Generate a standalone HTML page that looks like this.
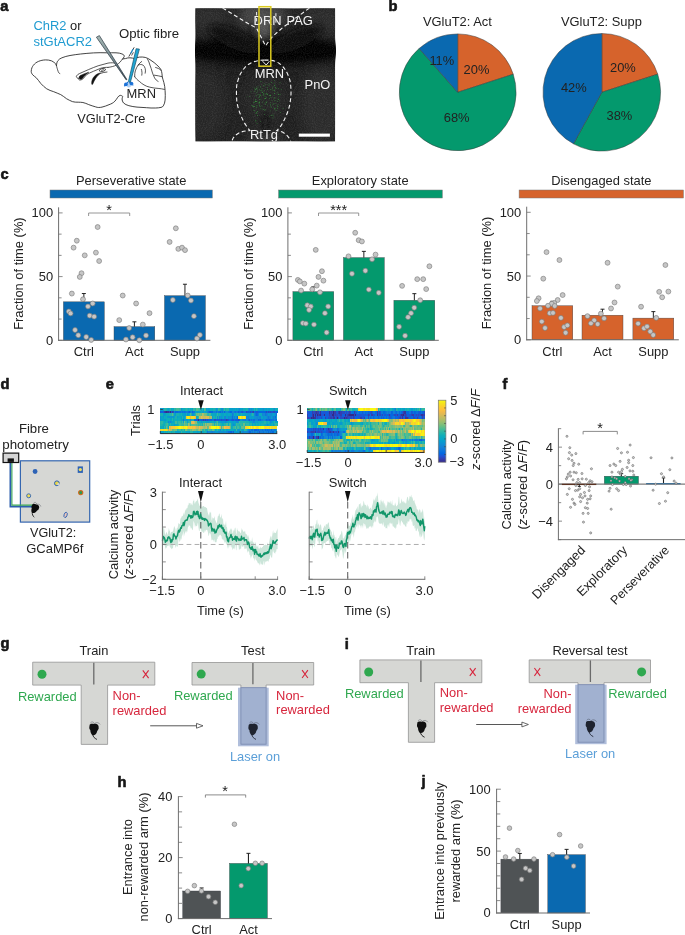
<!DOCTYPE html>
<html><head><meta charset="utf-8"><title>Figure</title>
<style>
html,body{margin:0;padding:0;background:#fff;}
body{width:685px;height:935px;overflow:hidden;font-family:"Liberation Sans",sans-serif;}
svg{display:block;will-change:transform;}
svg text{font-family:"Liberation Sans",sans-serif;}
</style></head><body>
<svg width="685" height="935" viewBox="0 0 685 935">
<text x="0.30" y="10.50" font-size="14.7" font-weight="bold" fill="#161616" stroke="#161616" stroke-width="0.6" stroke-linejoin="round">a</text>
<text x="33.5" y="30" font-size="12.9"><tspan fill="#1f9bd1">ChR2</tspan><tspan fill="#1a1a1a"> or</tspan></text>
<text x="33.50" y="45.60" text-anchor="start" font-size="13.0" fill="#1f9bd1" font-weight="normal" font-style="normal">stGtACR2</text>
<text x="119.00" y="37.90" text-anchor="start" font-size="13.2" fill="#222222" font-weight="normal" font-style="normal">Optic fibre</text>
<text x="77.30" y="123.10" text-anchor="start" font-size="12.75" fill="#222222" font-weight="normal" font-style="normal">VGluT2-Cre</text>
<path d="M31.2,71.3 C31.4,68.5 32.2,66.8 33.3,65.4 C34.8,63.4 36.5,62.2 38.5,61.4 C40.8,60.4 43,60 45.5,59.9 C47.6,59.9 49.6,60.1 51.4,60.8 C53.2,61.5 54.5,62.4 55.4,63.7 C56.1,64.8 56.3,65.3 56.5,65.8 C56.6,63.5 57,62 57.8,60.8 C58.8,59.4 60.2,58.5 61.9,57.8 C64.5,56.8 67,56 70,55.5 C73.4,54.9 77,54.4 80.6,54 C84.8,53.5 89,53.2 93.4,52.9 C97.8,52.7 102.4,52.6 106.7,52.8 C110,52.8 113,52.7 116,52.8 C118.4,52.9 120.4,53.2 121.9,53.9 C123.6,54.6 124.6,55.4 124.2,56.6 C123.8,57.6 123,58.4 122.4,59.2 C123.4,58.8 124.4,58.6 125.4,58.6 C127,57.9 128.5,57.8 130,57.8 C131.6,57.9 133.2,58.2 134.7,58.6 C136.2,57.8 137.8,57.3 139.4,57.1 C141.4,56.9 143.4,57 145.2,57.4 C147.4,58 149.3,59 151,60.4 C153.2,61.8 155.2,63.3 156.9,65 C158.6,66.4 160,68 161,69.7 C161.9,72 162.1,74.4 162.2,76.7 C162.6,78.7 163.4,80.6 163.9,82.6 C164.6,85.2 165,88 165.1,90.7 C165.3,93.8 165.4,97 165.1,100.1 C164.9,102.2 164.4,104.2 163.3,105.9 C162.8,106.8 162,107.2 161,107.4 C159.2,107.8 157.5,107.9 155.7,108 C152.6,108.1 149.5,108 146.4,107.7 C143.2,107.6 140.1,107.4 137,107.1 C134.2,106.8 131.5,106.4 128.9,105.7 C126.8,105.1 124.9,104.3 123.6,103 C122.6,101.8 122.1,100.4 122.1,98.9 C122.1,98 122.4,97.3 122.8,96.6 C122,95.7 121,95.3 120.1,95.4 C119.1,95.6 118.4,96.4 117.8,97.2 C116.9,98.6 116,100 114.9,101.2 C113.3,102.9 111.2,103.9 109,104.7 C106.8,105.7 104.4,106.5 102,107.1 C99.8,107.6 97.6,107.7 95.7,106.9 C93.3,106.3 91,105.4 88.7,104.6 C86.8,103.8 84.9,102.9 82.9,102.5 C81.3,102.2 79.8,102.3 78.2,102.2 C76.2,102.2 74.2,102.2 72.4,101.6 C70.3,100.8 68.4,99.8 66.5,98.7 C64.5,97.4 62.8,95.6 60.7,94.6 C58.4,93.5 56,92.7 53.7,91.7 C51.2,90.9 48.8,90.1 46.7,88.8 C44.5,87.3 42.6,85.4 40.8,83.5 C39.3,81.6 37.9,79.5 36.2,77.7 C35,76.6 33.6,75.9 32.7,74.8 C31.8,73.8 31.2,72.6 31.2,71.3 Z" fill="#fff" stroke="#222" stroke-width="0.85" stroke-linejoin="round"/>
<path d="M56.5,65.8 C56.9,67.6 57.2,68.4 57.6,69.8 C58,71.2 58.4,72.2 58.9,72.9 C59.2,73.3 59.5,73.5 59.8,73.6" fill="none" stroke="#222" stroke-width="0.75" stroke-linecap="round" stroke-linejoin="round"/>
<path d="M122.4,59.2 C121.6,60.3 120.8,61.2 120.1,62.1 C119,63.2 117.8,64.2 116.6,65 C113.8,66.4 111,67 108,67.4" fill="none" stroke="#222" stroke-width="0.75" stroke-linecap="round" stroke-linejoin="round"/>
<path d="M134.7,76.7 C134.6,74.6 134.8,72.6 135.3,70.9 C136,68.6 137,66.6 138.2,65 C139.2,63.6 140.4,62.4 141.7,61.5" fill="none" stroke="#222" stroke-width="0.75" stroke-linecap="round" stroke-linejoin="round"/>
<path d="M138.2,65 C139.8,64.4 141.6,64.3 142.9,65 C144,65.8 144.8,67 145.2,68.5 C145.6,70 145.6,71.6 145.2,73.2" fill="none" stroke="#222" stroke-width="0.75" stroke-linecap="round" stroke-linejoin="round"/>
<path d="M134.7,76.7 C136,78.6 137.6,80.2 139.4,81.4 C140.8,82.8 142.4,84 144,84.9 C145.8,86 147.8,86.8 149.9,87.2 C152.6,87.9 155.4,88.2 158.1,88.4 C160.4,88.6 162.4,88.9 164.4,89.4" fill="none" stroke="#222" stroke-width="0.75" stroke-linecap="round" stroke-linejoin="round"/>
<path d="M147.6,59.2 C148.6,61 149.4,63 149.9,65 C150.8,67.3 151.6,69.6 152.2,72 C152.8,74 153.6,76 154.6,77.9 C155.4,79.4 156.6,80.6 158.1,81.4" fill="none" stroke="#222" stroke-width="0.75" stroke-linecap="round" stroke-linejoin="round"/>
<path d="M155.6,67.5 C157.6,68 159.4,68.8 161,70.3" fill="none" stroke="#222" stroke-width="0.75" stroke-linecap="round" stroke-linejoin="round"/>
<path d="M154.4,75.2 C157,75.6 159.6,76 162.2,76.7" fill="none" stroke="#222" stroke-width="0.75" stroke-linecap="round" stroke-linejoin="round"/>
<path d="M141.4,69.4 C142,71.2 142.2,73.2 141.8,75.2" fill="none" stroke="#222" stroke-width="0.75" stroke-linecap="round" stroke-linejoin="round"/>
<path d="M78.2,78.3 C76.6,78 76,76.8 76.5,76 C77.2,74.8 78.2,74.2 79.4,73.6 C82.4,72.2 85.6,70.8 88.7,69.5 C91.8,68.2 95,66.9 98.1,65.8 C101.4,64.8 104.6,63.9 108,63.1 C111,62.6 114,62.6 116.6,63.4" fill="none" stroke="#222" stroke-width="0.75" stroke-linecap="round" stroke-linejoin="round"/>
<path d="M78.2,78.3 C78.6,79.4 79,79.9 79.4,80 C80.6,80.2 81.8,79.7 82.9,78.9 C84.2,77.6 85.2,76.1 86.4,74.8 C88.6,73.4 91,72.3 93.4,71.3 C95.8,70.3 98.1,69.3 100.4,68.4 C102.8,67.6 105.4,67.2 108,67.4" fill="none" stroke="#222" stroke-width="0.75" stroke-linecap="round" stroke-linejoin="round"/>
<path d="M79.6,78.9 C78.6,77.8 79,76.4 80.2,75.6 C82.8,74.2 86,73 88.8,72.2 C87,73.4 85.2,74.8 83.9,76.4 C83.2,77.6 82.4,78.6 81.4,79.1 C80.7,79.4 80.1,79.3 79.6,78.9 Z" fill="#111" stroke="#111" stroke-width="0.5"/>
<path d="M91.8,84.3 C91.4,82 92,79.8 93.2,77.8 C94.4,75.8 96.2,74.4 98.3,73.5 C99.2,73.2 100,73.1 100.6,73.3 C98.6,74.6 97,76.2 95.8,78.2 C94.6,80 93.6,82 92.8,84 C92.5,84.6 92,84.7 91.8,84.3 Z" fill="#111" stroke="#111" stroke-width="0.5"/>
<path d="M100.6,73.3 C102.6,72.6 104.8,72.2 107,72" fill="none" stroke="#222" stroke-width="0.75" stroke-linecap="round" stroke-linejoin="round"/>
<ellipse cx="102.4" cy="70" rx="3.2" ry="1.5" transform="rotate(-16 102.4 70)" fill="#fff" stroke="#222" stroke-width="0.75"/>
<ellipse cx="102.6" cy="70" rx="1.7" ry="0.6" transform="rotate(-16 102.6 70)" fill="#666" stroke="none"/>
<defs><linearGradient id="pipg" x1="97.9" y1="36.4" x2="126.5" y2="79.6" gradientUnits="userSpaceOnUse"><stop offset="0" stop-color="#a3b5b2"/><stop offset="0.6" stop-color="#72858c"/><stop offset="1" stop-color="#364550"/></linearGradient></defs>
<path d="M96.4,37.2 L99.4,35.6 L126.9,79.5 L126.2,79.9 Z" fill="url(#pipg)" stroke="#2d3a44" stroke-width="0.7" stroke-linejoin="round"/>
<g fill="#9cc6f2" opacity="0.8"><ellipse cx="128.8" cy="84.6" rx="2.4" ry="3"/></g>
<g fill="#1c72d8"><ellipse cx="125.9" cy="84.4" rx="1.9" ry="1.8"/><ellipse cx="131.4" cy="83.6" rx="1.9" ry="1.8"/><circle cx="124.6" cy="85.8" r="0.7"/><circle cx="132.8" cy="84.9" r="0.7"/><circle cx="127.4" cy="82.6" r="0.8"/><circle cx="130" cy="82.2" r="0.8"/></g>
<path d="M136.1,48.7 L139.4,49.1 L130.4,82.2 L128.4,81.6 Z" fill="#1fa6d4" stroke="#1a5068" stroke-width="0.7" stroke-linejoin="round"/>
<path d="M128.8,56.6 L134.2,47.3" fill="none" stroke="#1a1a1a" stroke-width="0.8"/>
<path d="M130.7,53.6 L133.1,48.9" fill="none" stroke="#1f8fd0" stroke-width="1.1"/>
<path d="M131.6,55.6 L133.4,52.2" fill="none" stroke="#1a1a1a" stroke-width="0.7"/>
<defs>
<clipPath id="hclip"><rect x="195.3" y="8.2" width="139.8" height="133.4"/></clipPath>
<filter id="blur6" x="-30%" y="-30%" width="160%" height="160%"><feGaussianBlur stdDeviation="6"/></filter>
<filter id="blur3" x="-30%" y="-30%" width="160%" height="160%"><feGaussianBlur stdDeviation="3"/></filter>
<filter id="noise" x="0" y="0" width="100%" height="100%">
 <feTurbulence type="fractalNoise" baseFrequency="0.9" numOctaves="2" seed="3" result="n"/>
 <feColorMatrix type="matrix" values="0 0 0 0 1  0 0 0 0 1  0 0 0 0 1  0.9 0 0 0 -0.32"/>
</filter>
</defs>
<g clip-path="url(#hclip)">
<rect x="195.30" y="8.20" width="139.80" height="133.40" fill="#1f1f1f" stroke="none" stroke-width="1"/>
<g filter="url(#blur6)">
<ellipse cx="263" cy="16" rx="24" ry="16" fill="#444444"/>
<ellipse cx="208" cy="18" rx="22" ry="14" fill="#2c2c2c"/>
<ellipse cx="322" cy="20" rx="22" ry="16" fill="#2a2a2a"/>
<ellipse cx="205" cy="105" rx="20" ry="36" fill="#262626"/>
<ellipse cx="322" cy="105" rx="22" ry="38" fill="#2a2a2a"/>
<ellipse cx="265" cy="100" rx="20" ry="26" fill="#262626"/>
<ellipse cx="265" cy="139" rx="16" ry="6" fill="#404040"/>
<ellipse cx="265" cy="52" rx="95" ry="17" fill="#131313"/>
</g>
<g filter="url(#blur3)">
<ellipse cx="265" cy="50.5" rx="86" ry="12.5" fill="#050505"/>
<ellipse cx="234" cy="39" rx="28" ry="9" transform="rotate(24 234 39)" fill="#0c0c0c"/>
<ellipse cx="297" cy="39" rx="28" ry="9" transform="rotate(-24 297 39)" fill="#0c0c0c"/>
<ellipse cx="265" cy="53" rx="7" ry="11" fill="#020202"/>
<ellipse cx="264" cy="26" rx="5" ry="13" fill="#585858"/>
<ellipse cx="265.5" cy="124" rx="2.2" ry="12" fill="#0e0e0e"/>
<ellipse cx="252" cy="30" rx="2" ry="6" transform="rotate(-20 252 30)" fill="#101010"/>
<ellipse cx="279" cy="30" rx="2" ry="6" transform="rotate(20 279 30)" fill="#101010"/>
</g>
<rect x="195.3" y="8.2" width="139.8" height="133.4" fill="#fff" filter="url(#noise)" opacity="0.2"/>
<rect x="279.6" y="82.5" width="0.7" height="0.7" fill="#3fd04a" opacity="0.82"/>
<rect x="266.4" y="97.3" width="0.7" height="0.7" fill="#3fd04a" opacity="0.46"/>
<rect x="266.9" y="84.4" width="0.7" height="0.7" fill="#3fd04a" opacity="0.41"/>
<rect x="276.9" y="108.2" width="0.7" height="0.7" fill="#3fd04a" opacity="0.88"/>
<rect x="262.1" y="92.0" width="0.7" height="0.7" fill="#3fd04a" opacity="0.62"/>
<rect x="264.8" y="84.1" width="0.7" height="0.7" fill="#3fd04a" opacity="0.39"/>
<rect x="256.6" y="105.3" width="0.7" height="0.7" fill="#3fd04a" opacity="0.37"/>
<rect x="269.9" y="110.5" width="0.7" height="0.7" fill="#3fd04a" opacity="0.47"/>
<rect x="261.7" y="88.5" width="0.7" height="0.7" fill="#3fd04a" opacity="0.75"/>
<rect x="270.1" y="89.1" width="0.7" height="0.7" fill="#3fd04a" opacity="0.68"/>
<rect x="259.1" y="89.2" width="0.7" height="0.7" fill="#3fd04a" opacity="0.49"/>
<rect x="279.3" y="100.5" width="0.7" height="0.7" fill="#3fd04a" opacity="0.41"/>
<rect x="255.2" y="89.5" width="0.7" height="0.7" fill="#3fd04a" opacity="0.92"/>
<rect x="255.4" y="121.4" width="0.7" height="0.7" fill="#3fd04a" opacity="0.38"/>
<rect x="278.0" y="96.7" width="0.7" height="0.7" fill="#3fd04a" opacity="0.39"/>
<rect x="257.3" y="89.8" width="0.7" height="0.7" fill="#3fd04a" opacity="0.40"/>
<rect x="278.1" y="99.0" width="0.7" height="0.7" fill="#3fd04a" opacity="0.90"/>
<rect x="257.9" y="102.8" width="0.7" height="0.7" fill="#3fd04a" opacity="0.39"/>
<rect x="275.8" y="110.1" width="0.7" height="0.7" fill="#3fd04a" opacity="0.62"/>
<rect x="249.5" y="96.3" width="0.7" height="0.7" fill="#3fd04a" opacity="0.60"/>
<rect x="276.9" y="105.3" width="0.7" height="0.7" fill="#3fd04a" opacity="0.48"/>
<rect x="274.0" y="98.0" width="0.7" height="0.7" fill="#3fd04a" opacity="0.46"/>
<rect x="255.3" y="99.5" width="0.7" height="0.7" fill="#3fd04a" opacity="0.61"/>
<rect x="257.4" y="88.7" width="0.7" height="0.7" fill="#3fd04a" opacity="0.53"/>
<rect x="254.9" y="101.2" width="0.7" height="0.7" fill="#3fd04a" opacity="0.73"/>
<rect x="261.9" y="92.0" width="0.7" height="0.7" fill="#3fd04a" opacity="0.62"/>
<rect x="274.3" y="93.1" width="0.7" height="0.7" fill="#3fd04a" opacity="0.58"/>
<rect x="259.3" y="105.0" width="0.7" height="0.7" fill="#3fd04a" opacity="0.72"/>
<rect x="254.2" y="110.4" width="0.7" height="0.7" fill="#3fd04a" opacity="0.68"/>
<rect x="278.0" y="88.4" width="0.7" height="0.7" fill="#3fd04a" opacity="0.60"/>
<rect x="253.4" y="106.0" width="0.7" height="0.7" fill="#3fd04a" opacity="0.50"/>
<rect x="272.6" y="117.5" width="0.7" height="0.7" fill="#3fd04a" opacity="0.71"/>
<rect x="269.4" y="95.0" width="0.7" height="0.7" fill="#3fd04a" opacity="0.94"/>
<rect x="257.1" y="111.3" width="0.7" height="0.7" fill="#3fd04a" opacity="0.86"/>
<rect x="260.1" y="121.0" width="0.7" height="0.7" fill="#3fd04a" opacity="0.47"/>
<rect x="253.3" y="102.6" width="0.7" height="0.7" fill="#3fd04a" opacity="0.50"/>
<rect x="255.9" y="107.0" width="0.7" height="0.7" fill="#3fd04a" opacity="0.69"/>
<rect x="255.7" y="101.1" width="0.7" height="0.7" fill="#3fd04a" opacity="0.62"/>
<rect x="268.8" y="84.6" width="0.7" height="0.7" fill="#3fd04a" opacity="0.70"/>
<rect x="263.4" y="85.3" width="0.7" height="0.7" fill="#3fd04a" opacity="0.63"/>
<rect x="259.6" y="95.6" width="0.7" height="0.7" fill="#3fd04a" opacity="0.39"/>
<rect x="262.6" y="100.9" width="0.7" height="0.7" fill="#3fd04a" opacity="0.38"/>
<rect x="277.9" y="104.0" width="0.7" height="0.7" fill="#3fd04a" opacity="0.40"/>
<rect x="274.2" y="97.1" width="0.7" height="0.7" fill="#3fd04a" opacity="0.65"/>
<rect x="261.5" y="90.7" width="0.7" height="0.7" fill="#3fd04a" opacity="0.70"/>
<rect x="251.7" y="105.2" width="0.7" height="0.7" fill="#3fd04a" opacity="0.95"/>
<rect x="272.3" y="87.7" width="0.7" height="0.7" fill="#3fd04a" opacity="0.79"/>
<rect x="266.9" y="105.3" width="0.7" height="0.7" fill="#3fd04a" opacity="0.40"/>
<rect x="258.8" y="102.2" width="0.7" height="0.7" fill="#3fd04a" opacity="0.36"/>
<rect x="264.9" y="98.3" width="0.7" height="0.7" fill="#3fd04a" opacity="0.90"/>
<rect x="276.8" y="91.9" width="0.7" height="0.7" fill="#3fd04a" opacity="0.44"/>
<rect x="264.7" y="96.0" width="0.7" height="0.7" fill="#3fd04a" opacity="0.56"/>
<rect x="269.3" y="98.1" width="0.7" height="0.7" fill="#3fd04a" opacity="0.59"/>
<rect x="274.7" y="108.6" width="0.7" height="0.7" fill="#3fd04a" opacity="0.83"/>
<rect x="254.4" y="90.9" width="0.7" height="0.7" fill="#3fd04a" opacity="0.70"/>
<rect x="273.7" y="103.5" width="0.7" height="0.7" fill="#3fd04a" opacity="0.56"/>
<rect x="274.1" y="93.4" width="0.7" height="0.7" fill="#3fd04a" opacity="0.63"/>
<rect x="255.6" y="89.0" width="0.7" height="0.7" fill="#3fd04a" opacity="0.66"/>
<rect x="269.0" y="115.8" width="0.7" height="0.7" fill="#3fd04a" opacity="0.52"/>
<rect x="259.8" y="90.3" width="0.7" height="0.7" fill="#3fd04a" opacity="0.56"/>
<rect x="261.2" y="89.7" width="0.7" height="0.7" fill="#3fd04a" opacity="0.46"/>
<rect x="273.2" y="103.8" width="0.7" height="0.7" fill="#3fd04a" opacity="0.38"/>
<rect x="264.7" y="102.9" width="0.7" height="0.7" fill="#3fd04a" opacity="0.74"/>
<rect x="280.3" y="93.9" width="0.7" height="0.7" fill="#3fd04a" opacity="0.47"/>
<rect x="272.7" y="114.6" width="0.7" height="0.7" fill="#3fd04a" opacity="0.80"/>
<rect x="256.3" y="105.6" width="0.7" height="0.7" fill="#3fd04a" opacity="0.56"/>
<rect x="264.9" y="109.5" width="0.7" height="0.7" fill="#3fd04a" opacity="0.89"/>
<rect x="264.1" y="109.8" width="0.7" height="0.7" fill="#3fd04a" opacity="0.58"/>
<rect x="266.3" y="102.2" width="0.7" height="0.7" fill="#3fd04a" opacity="0.90"/>
<rect x="266.1" y="93.3" width="0.7" height="0.7" fill="#3fd04a" opacity="0.65"/>
<rect x="265.9" y="101.4" width="0.7" height="0.7" fill="#3fd04a" opacity="0.47"/>
<rect x="255.5" y="119.9" width="0.7" height="0.7" fill="#3fd04a" opacity="0.94"/>
<rect x="266.6" y="93.7" width="0.7" height="0.7" fill="#3fd04a" opacity="0.54"/>
<rect x="259.2" y="101.6" width="0.7" height="0.7" fill="#3fd04a" opacity="0.61"/>
<rect x="273.7" y="85.9" width="0.7" height="0.7" fill="#3fd04a" opacity="0.37"/>
<rect x="259.2" y="99.2" width="0.7" height="0.7" fill="#3fd04a" opacity="0.67"/>
<rect x="252.6" y="106.0" width="0.7" height="0.7" fill="#3fd04a" opacity="0.89"/>
<rect x="278.5" y="93.9" width="0.7" height="0.7" fill="#3fd04a" opacity="0.92"/>
<rect x="257.7" y="86.7" width="0.7" height="0.7" fill="#3fd04a" opacity="0.69"/>
<rect x="263.5" y="95.1" width="0.7" height="0.7" fill="#3fd04a" opacity="0.69"/>
<rect x="258.9" y="103.5" width="0.7" height="0.7" fill="#3fd04a" opacity="0.68"/>
<rect x="270.0" y="94.9" width="0.7" height="0.7" fill="#3fd04a" opacity="0.67"/>
<rect x="258.9" y="96.5" width="0.7" height="0.7" fill="#3fd04a" opacity="0.93"/>
<rect x="272.5" y="89.4" width="0.7" height="0.7" fill="#3fd04a" opacity="0.42"/>
<rect x="258.7" y="94.4" width="0.7" height="0.7" fill="#3fd04a" opacity="0.67"/>
<rect x="280.9" y="89.0" width="0.7" height="0.7" fill="#3fd04a" opacity="0.59"/>
<rect x="260.6" y="98.9" width="0.7" height="0.7" fill="#3fd04a" opacity="0.61"/>
<rect x="270.6" y="97.2" width="0.7" height="0.7" fill="#3fd04a" opacity="0.60"/>
<rect x="255.7" y="95.5" width="0.7" height="0.7" fill="#3fd04a" opacity="0.82"/>
<rect x="255.2" y="99.4" width="0.7" height="0.7" fill="#3fd04a" opacity="0.36"/>
<rect x="270.9" y="106.8" width="0.7" height="0.7" fill="#3fd04a" opacity="0.72"/>
<rect x="264.6" y="98.0" width="0.7" height="0.7" fill="#3fd04a" opacity="0.86"/>
<rect x="271.4" y="82.0" width="0.7" height="0.7" fill="#3fd04a" opacity="0.88"/>
<rect x="261.7" y="105.6" width="0.7" height="0.7" fill="#3fd04a" opacity="0.67"/>
<rect x="263.3" y="93.0" width="0.7" height="0.7" fill="#3fd04a" opacity="0.67"/>
<rect x="263.4" y="94.2" width="0.7" height="0.7" fill="#3fd04a" opacity="0.72"/>
<rect x="257.1" y="115.2" width="0.7" height="0.7" fill="#3fd04a" opacity="0.84"/>
<rect x="259.7" y="106.4" width="0.7" height="0.7" fill="#3fd04a" opacity="0.90"/>
<rect x="257.4" y="91.2" width="0.7" height="0.7" fill="#3fd04a" opacity="0.41"/>
<rect x="256.6" y="101.3" width="0.7" height="0.7" fill="#3fd04a" opacity="0.58"/>
<rect x="275.6" y="88.4" width="0.7" height="0.7" fill="#3fd04a" opacity="0.82"/>
<rect x="255.9" y="112.1" width="0.7" height="0.7" fill="#3fd04a" opacity="0.83"/>
<rect x="255.7" y="113.2" width="0.7" height="0.7" fill="#3fd04a" opacity="0.90"/>
<rect x="277.4" y="106.3" width="0.7" height="0.7" fill="#3fd04a" opacity="0.80"/>
<rect x="256.1" y="86.6" width="0.7" height="0.7" fill="#3fd04a" opacity="0.36"/>
<rect x="274.9" y="103.3" width="0.7" height="0.7" fill="#3fd04a" opacity="0.47"/>
<rect x="246.6" y="96.5" width="0.7" height="0.7" fill="#3fd04a" opacity="0.41"/>
<rect x="253.0" y="109.9" width="0.7" height="0.7" fill="#3fd04a" opacity="0.40"/>
<rect x="260.6" y="108.4" width="0.7" height="0.7" fill="#3fd04a" opacity="0.66"/>
<rect x="274.2" y="107.8" width="0.7" height="0.7" fill="#3fd04a" opacity="0.73"/>
<rect x="256.2" y="92.5" width="0.7" height="0.7" fill="#3fd04a" opacity="0.62"/>
<rect x="270.3" y="101.9" width="0.7" height="0.7" fill="#3fd04a" opacity="0.45"/>
<rect x="258.9" y="102.0" width="0.7" height="0.7" fill="#3fd04a" opacity="0.86"/>
<rect x="270.1" y="95.1" width="0.7" height="0.7" fill="#3fd04a" opacity="0.70"/>
<rect x="274.3" y="90.4" width="0.7" height="0.7" fill="#3fd04a" opacity="0.90"/>
<rect x="256.0" y="88.2" width="0.7" height="0.7" fill="#3fd04a" opacity="0.89"/>
<rect x="273.9" y="80.2" width="0.7" height="0.7" fill="#3fd04a" opacity="0.59"/>
<rect x="253.9" y="102.1" width="0.7" height="0.7" fill="#3fd04a" opacity="0.63"/>
<rect x="256.7" y="123.1" width="0.7" height="0.7" fill="#3fd04a" opacity="0.75"/>
<rect x="274.1" y="108.5" width="0.7" height="0.7" fill="#3fd04a" opacity="0.46"/>
<rect x="260.6" y="81.0" width="0.7" height="0.7" fill="#3fd04a" opacity="0.94"/>
<rect x="256.2" y="101.3" width="0.7" height="0.7" fill="#3fd04a" opacity="0.49"/>
<rect x="271.7" y="100.0" width="0.7" height="0.7" fill="#3fd04a" opacity="0.47"/>
<rect x="276.9" y="98.5" width="0.7" height="0.7" fill="#3fd04a" opacity="0.52"/>
<rect x="267.3" y="94.1" width="0.7" height="0.7" fill="#3fd04a" opacity="0.93"/>
<rect x="263.9" y="83.4" width="0.7" height="0.7" fill="#3fd04a" opacity="0.40"/>
<rect x="264.1" y="114.2" width="0.7" height="0.7" fill="#3fd04a" opacity="0.58"/>
<rect x="254.1" y="87.7" width="0.7" height="0.7" fill="#3fd04a" opacity="0.71"/>
<rect x="277.9" y="94.3" width="0.7" height="0.7" fill="#3fd04a" opacity="0.67"/>
<rect x="270.3" y="104.4" width="0.7" height="0.7" fill="#3fd04a" opacity="0.74"/>
<rect x="268.7" y="83.1" width="0.7" height="0.7" fill="#3fd04a" opacity="0.37"/>
<rect x="264.1" y="90.4" width="0.7" height="0.7" fill="#3fd04a" opacity="0.60"/>
<rect x="277.1" y="101.0" width="0.7" height="0.7" fill="#3fd04a" opacity="0.59"/>
<rect x="282.7" y="108.2" width="0.7" height="0.7" fill="#3fd04a" opacity="0.61"/>
<rect x="273.0" y="115.6" width="0.7" height="0.7" fill="#3fd04a" opacity="0.38"/>
<rect x="250.6" y="91.5" width="0.7" height="0.7" fill="#3fd04a" opacity="0.63"/>
<rect x="260.0" y="94.9" width="0.7" height="0.7" fill="#3fd04a" opacity="0.72"/>
<rect x="280.3" y="112.1" width="0.7" height="0.7" fill="#3fd04a" opacity="0.56"/>
<rect x="254.2" y="106.0" width="0.7" height="0.7" fill="#3fd04a" opacity="0.75"/>
<rect x="267.2" y="89.1" width="0.7" height="0.7" fill="#3fd04a" opacity="0.76"/>
<rect x="274.1" y="85.3" width="0.7" height="0.7" fill="#3fd04a" opacity="0.95"/>
<rect x="272.6" y="90.3" width="0.7" height="0.7" fill="#3fd04a" opacity="0.42"/>
<rect x="274.5" y="83.6" width="0.7" height="0.7" fill="#3fd04a" opacity="0.57"/>
<rect x="266.8" y="87.3" width="0.7" height="0.7" fill="#3fd04a" opacity="0.77"/>
<rect x="263.6" y="85.0" width="0.7" height="0.7" fill="#3fd04a" opacity="0.46"/>
<rect x="265.3" y="97.8" width="0.7" height="0.7" fill="#3fd04a" opacity="0.47"/>
<rect x="258.5" y="97.0" width="0.7" height="0.7" fill="#3fd04a" opacity="0.51"/>
<rect x="259.7" y="94.6" width="0.7" height="0.7" fill="#3fd04a" opacity="0.67"/>
<rect x="264.7" y="93.4" width="0.7" height="0.7" fill="#3fd04a" opacity="0.57"/>
<rect x="270.2" y="105.6" width="0.7" height="0.7" fill="#3fd04a" opacity="0.65"/>
<rect x="257.0" y="94.5" width="0.7" height="0.7" fill="#3fd04a" opacity="0.42"/>
<rect x="265.2" y="104.0" width="0.7" height="0.7" fill="#3fd04a" opacity="0.58"/>
<rect x="262.9" y="109.2" width="0.7" height="0.7" fill="#3fd04a" opacity="0.94"/>
<rect x="270.9" y="115.1" width="0.7" height="0.7" fill="#3fd04a" opacity="0.85"/>
<rect x="262.3" y="102.4" width="0.7" height="0.7" fill="#3fd04a" opacity="0.41"/>
<rect x="274.8" y="100.1" width="0.7" height="0.7" fill="#3fd04a" opacity="0.69"/>
<rect x="275.2" y="87.3" width="0.7" height="0.7" fill="#3fd04a" opacity="0.84"/>
<rect x="254.9" y="101.3" width="0.7" height="0.7" fill="#3fd04a" opacity="0.75"/>
<rect x="260.0" y="86.5" width="0.7" height="0.7" fill="#3fd04a" opacity="0.81"/>
<rect x="272.4" y="103.7" width="0.7" height="0.7" fill="#3fd04a" opacity="0.56"/>
<path d="M222.6,8 L247.7,23.3 L256.5,28 L265.5,45.8" fill="none" stroke="#f4f4f4" stroke-width="1.1" stroke-dasharray="4 2.7"/>
<path d="M309.4,8 L282.9,27.4 L272.5,36.5 L265.5,45.8" fill="none" stroke="#f4f4f4" stroke-width="1.1" stroke-dasharray="4 2.7"/>
<path d="M264.5,60.1 C258,60 250,62 245,67.3 C241,72 239.3,76 238.9,77.5 C237,83 236.4,86 236.5,89.8 C236.4,94 236.5,98 236.9,102 C237.6,106 238.6,110 240.4,114.3 C242,118 243.6,122 246.1,125.5 C247.4,127.4 248.6,129.2 249.8,130.6 C245,131 241.5,131.6 238.9,133 C236,134.6 234,136.6 232.8,138.8 L231.6,142" fill="none" stroke="#f4f4f4" stroke-width="1.1" stroke-dasharray="4 2.7"/>
<path d="M264.5,60.1 C270,60 272.5,60.4 275.7,61.5 C279.5,63 282.6,66 284.9,69.3 C287.2,72.6 288.9,76.6 290,80.6 C290.8,85 291.1,89.4 291,93.8 C290.8,98 290.3,102 289.4,106.1 C288.4,110.4 286.9,114.5 284.9,118.4 C283.4,121.6 281.8,124.8 279.8,127.6 L276.8,130.6 C280,131 282.8,132 284.9,133.7 C287.2,135.4 288.9,137.4 290,139.8 L291,142" fill="none" stroke="#f4f4f4" stroke-width="1.1" stroke-dasharray="4 2.7"/>
<path d="M256.6,12 L256.6,25 M275.9,13.2 L275.9,25" stroke="#f2f2f2" stroke-width="1" stroke-dasharray="3.4 2.6" fill="none"/>
<path d="M262.6,61.2 L266.2,65 L269.4,61.2" stroke="#f2f2f2" stroke-width="1" fill="none"/>
<text x="253.60" y="24.60" text-anchor="start" font-size="12.9" fill="#f4f4f4" font-weight="normal" font-style="normal">DRN</text>
<text x="286.50" y="24.60" text-anchor="start" font-size="12.9" fill="#f4f4f4" font-weight="normal" font-style="normal">PAG</text>
<text x="254.80" y="77.60" text-anchor="start" font-size="12.9" fill="#f4f4f4" font-weight="normal" font-style="normal">MRN</text>
<text x="304.60" y="88.80" text-anchor="start" font-size="12.9" fill="#f4f4f4" font-weight="normal" font-style="normal">PnO</text>
<text x="250.00" y="138.90" text-anchor="start" font-size="12.9" fill="#f4f4f4" font-weight="normal" font-style="normal">RtTg</text>
<rect x="298.80" y="133.60" width="31.10" height="3.10" fill="#fff" stroke="none" stroke-width="1"/>
</g>
<rect x="259.00" y="6.70" width="11.80" height="59.50" fill="none" stroke="#dccb20" stroke-width="1.5"/>
<text x="126.60" y="98.30" text-anchor="start" font-size="12.9" fill="#222222" font-weight="normal" font-style="normal">MRN</text>
<text x="388.60" y="10.50" font-size="14.7" font-weight="bold" fill="#161616" stroke="#161616" stroke-width="0.6" stroke-linejoin="round">b</text>
<text x="457.40" y="25.80" text-anchor="middle" font-size="12.9" fill="#222222" font-weight="normal" font-style="normal">VGluT2: Act</text>
<path d="M457.70,92.30 L457.70,33.90 A58.4,58.4 0 0 1 513.24,74.25 Z" fill="#d6632c" stroke="#3a3a3a" stroke-width="0.5" stroke-linejoin="round"/>
<path d="M457.70,92.30 L513.24,74.25 A58.4,58.4 0 1 1 419.08,48.49 Z" fill="#04996d" stroke="#3a3a3a" stroke-width="0.5" stroke-linejoin="round"/>
<path d="M457.70,92.30 L419.08,48.49 A58.4,58.4 0 0 1 457.70,33.90 Z" fill="#0a69b0" stroke="#3a3a3a" stroke-width="0.5" stroke-linejoin="round"/>
<text x="441.80" y="65.00" text-anchor="middle" font-size="12.9" fill="#222222" font-weight="normal" font-style="normal">11%</text>
<text x="476.50" y="73.80" text-anchor="middle" font-size="12.9" fill="#222222" font-weight="normal" font-style="normal">20%</text>
<text x="456.70" y="122.00" text-anchor="middle" font-size="12.9" fill="#222222" font-weight="normal" font-style="normal">68%</text>
<text x="601.40" y="25.80" text-anchor="middle" font-size="12.9" fill="#222222" font-weight="normal" font-style="normal">VGluT2: Supp</text>
<path d="M601.80,92.30 L601.80,33.50 A58.8,58.8 0 0 1 657.72,74.13 Z" fill="#d6632c" stroke="#3a3a3a" stroke-width="0.5" stroke-linejoin="round"/>
<path d="M601.80,92.30 L657.72,74.13 A58.8,58.8 0 0 1 573.47,143.83 Z" fill="#04996d" stroke="#3a3a3a" stroke-width="0.5" stroke-linejoin="round"/>
<path d="M601.80,92.30 L573.47,143.83 A58.8,58.8 0 0 1 601.80,33.50 Z" fill="#0a69b0" stroke="#3a3a3a" stroke-width="0.5" stroke-linejoin="round"/>
<text x="622.90" y="72.40" text-anchor="middle" font-size="12.9" fill="#222222" font-weight="normal" font-style="normal">20%</text>
<text x="573.80" y="91.80" text-anchor="middle" font-size="12.9" fill="#222222" font-weight="normal" font-style="normal">42%</text>
<text x="619.40" y="120.00" text-anchor="middle" font-size="12.9" fill="#222222" font-weight="normal" font-style="normal">38%</text>
<text x="0.60" y="179.40" font-size="14.7" font-weight="bold" fill="#161616" stroke="#161616" stroke-width="0.6" stroke-linejoin="round">c</text>
<text x="131.20" y="185.20" text-anchor="middle" font-size="12.9" fill="#222222" font-weight="normal" font-style="normal">Perseverative state</text>
<rect x="50.00" y="190.00" width="162.30" height="8.00" fill="#0a69b0" stroke="#777" stroke-width="0.5"/>
<rect x="63.40" y="301.83" width="40.90" height="38.47" fill="#0a69b0" stroke="#3c4046" stroke-width="0.4"/>
<line x1="83.85" y1="301.83" x2="83.85" y2="293.54" stroke="#222" stroke-width="1"/>
<line x1="81.85" y1="293.54" x2="85.85" y2="293.54" stroke="#222" stroke-width="1"/>
<rect x="114.00" y="326.67" width="40.80" height="13.63" fill="#0a69b0" stroke="#3c4046" stroke-width="0.4"/>
<line x1="134.40" y1="326.67" x2="134.40" y2="321.83" stroke="#222" stroke-width="1"/>
<line x1="132.40" y1="321.83" x2="136.40" y2="321.83" stroke="#222" stroke-width="1"/>
<rect x="164.50" y="295.71" width="40.90" height="44.59" fill="#0a69b0" stroke="#3c4046" stroke-width="0.4"/>
<line x1="184.95" y1="295.71" x2="184.95" y2="284.24" stroke="#222" stroke-width="1"/>
<line x1="182.95" y1="284.24" x2="186.95" y2="284.24" stroke="#222" stroke-width="1"/>
<line x1="58.60" y1="207.30" x2="58.60" y2="340.80" stroke="#6e6e6e" stroke-width="1"/>
<line x1="58.10" y1="340.30" x2="210.40" y2="340.30" stroke="#6e6e6e" stroke-width="1"/>
<line x1="58.60" y1="340.30" x2="62.60" y2="340.30" stroke="#6e6e6e" stroke-width="0.8"/>
<line x1="58.60" y1="319.07" x2="61.60" y2="319.07" stroke="#6e6e6e" stroke-width="0.8"/>
<line x1="58.60" y1="297.83" x2="61.60" y2="297.83" stroke="#6e6e6e" stroke-width="0.8"/>
<line x1="58.60" y1="276.60" x2="62.60" y2="276.60" stroke="#6e6e6e" stroke-width="0.8"/>
<line x1="58.60" y1="255.37" x2="61.60" y2="255.37" stroke="#6e6e6e" stroke-width="0.8"/>
<line x1="58.60" y1="234.13" x2="61.60" y2="234.13" stroke="#6e6e6e" stroke-width="0.8"/>
<line x1="58.60" y1="212.90" x2="62.60" y2="212.90" stroke="#6e6e6e" stroke-width="0.8"/>
<text x="53.10" y="217.40" text-anchor="end" font-size="12.9" fill="#222222" font-weight="normal" font-style="normal">100</text>
<text x="53.10" y="281.10" text-anchor="end" font-size="12.9" fill="#222222" font-weight="normal" font-style="normal">50</text>
<text x="53.10" y="344.80" text-anchor="end" font-size="12.9" fill="#222222" font-weight="normal" font-style="normal">0</text>
<text x="23.40" y="273.60" text-anchor="middle" font-size="12.9" fill="#222222" font-weight="normal" font-style="normal" transform="rotate(-90 23.40 273.60)">Fraction of time (%)</text>
<circle cx="97.65" cy="227.05" r="2.45" fill="#c6c6c6" stroke="#7c7c7c" stroke-width="0.65"/>
<circle cx="76.80" cy="240.70" r="2.45" fill="#c6c6c6" stroke="#7c7c7c" stroke-width="0.65"/>
<circle cx="73.58" cy="247.65" r="2.45" fill="#c6c6c6" stroke="#7c7c7c" stroke-width="0.65"/>
<circle cx="84.74" cy="255.35" r="2.45" fill="#c6c6c6" stroke="#7c7c7c" stroke-width="0.65"/>
<circle cx="95.91" cy="252.62" r="2.45" fill="#c6c6c6" stroke="#7c7c7c" stroke-width="0.65"/>
<circle cx="99.14" cy="261.05" r="2.45" fill="#c6c6c6" stroke="#7c7c7c" stroke-width="0.65"/>
<circle cx="81.52" cy="273.22" r="2.45" fill="#c6c6c6" stroke="#7c7c7c" stroke-width="0.65"/>
<circle cx="79.78" cy="276.94" r="2.45" fill="#c6c6c6" stroke="#7c7c7c" stroke-width="0.65"/>
<circle cx="71.84" cy="293.57" r="2.45" fill="#c6c6c6" stroke="#7c7c7c" stroke-width="0.65"/>
<circle cx="83.01" cy="299.27" r="2.45" fill="#c6c6c6" stroke="#7c7c7c" stroke-width="0.65"/>
<circle cx="92.69" cy="303.49" r="2.45" fill="#c6c6c6" stroke="#7c7c7c" stroke-width="0.65"/>
<circle cx="87.97" cy="306.47" r="2.45" fill="#c6c6c6" stroke="#7c7c7c" stroke-width="0.65"/>
<circle cx="68.86" cy="311.43" r="2.45" fill="#c6c6c6" stroke="#7c7c7c" stroke-width="0.65"/>
<circle cx="70.60" cy="313.42" r="2.45" fill="#c6c6c6" stroke="#7c7c7c" stroke-width="0.65"/>
<circle cx="89.71" cy="315.65" r="2.45" fill="#c6c6c6" stroke="#7c7c7c" stroke-width="0.65"/>
<circle cx="94.18" cy="316.65" r="2.45" fill="#c6c6c6" stroke="#7c7c7c" stroke-width="0.65"/>
<circle cx="75.07" cy="330.05" r="2.45" fill="#c6c6c6" stroke="#7c7c7c" stroke-width="0.65"/>
<circle cx="78.29" cy="335.26" r="2.45" fill="#c6c6c6" stroke="#7c7c7c" stroke-width="0.65"/>
<circle cx="86.23" cy="337.00" r="2.45" fill="#c6c6c6" stroke="#7c7c7c" stroke-width="0.65"/>
<circle cx="91.20" cy="339.97" r="2.45" fill="#c6c6c6" stroke="#7c7c7c" stroke-width="0.65"/>
<circle cx="122.72" cy="295.55" r="2.45" fill="#c6c6c6" stroke="#7c7c7c" stroke-width="0.65"/>
<circle cx="136.12" cy="303.49" r="2.45" fill="#c6c6c6" stroke="#7c7c7c" stroke-width="0.65"/>
<circle cx="149.52" cy="313.17" r="2.45" fill="#c6c6c6" stroke="#7c7c7c" stroke-width="0.65"/>
<circle cx="119.24" cy="320.12" r="2.45" fill="#c6c6c6" stroke="#7c7c7c" stroke-width="0.65"/>
<circle cx="142.82" cy="324.59" r="2.45" fill="#c6c6c6" stroke="#7c7c7c" stroke-width="0.65"/>
<circle cx="129.17" cy="328.06" r="2.45" fill="#c6c6c6" stroke="#7c7c7c" stroke-width="0.65"/>
<circle cx="146.04" cy="335.51" r="2.45" fill="#c6c6c6" stroke="#7c7c7c" stroke-width="0.65"/>
<circle cx="132.64" cy="337.24" r="2.45" fill="#c6c6c6" stroke="#7c7c7c" stroke-width="0.65"/>
<circle cx="125.94" cy="339.48" r="2.45" fill="#c6c6c6" stroke="#7c7c7c" stroke-width="0.65"/>
<circle cx="139.34" cy="340.22" r="2.45" fill="#c6c6c6" stroke="#7c7c7c" stroke-width="0.65"/>
<circle cx="175.83" cy="228.30" r="2.45" fill="#c6c6c6" stroke="#7c7c7c" stroke-width="0.65"/>
<circle cx="169.62" cy="241.95" r="2.45" fill="#c6c6c6" stroke="#7c7c7c" stroke-width="0.65"/>
<circle cx="178.31" cy="248.89" r="2.45" fill="#c6c6c6" stroke="#7c7c7c" stroke-width="0.65"/>
<circle cx="182.03" cy="247.65" r="2.45" fill="#c6c6c6" stroke="#7c7c7c" stroke-width="0.65"/>
<circle cx="185.01" cy="250.14" r="2.45" fill="#c6c6c6" stroke="#7c7c7c" stroke-width="0.65"/>
<circle cx="187.74" cy="295.55" r="2.45" fill="#c6c6c6" stroke="#7c7c7c" stroke-width="0.65"/>
<circle cx="172.85" cy="300.02" r="2.45" fill="#c6c6c6" stroke="#7c7c7c" stroke-width="0.65"/>
<circle cx="190.96" cy="300.51" r="2.45" fill="#c6c6c6" stroke="#7c7c7c" stroke-width="0.65"/>
<circle cx="193.94" cy="316.15" r="2.45" fill="#c6c6c6" stroke="#7c7c7c" stroke-width="0.65"/>
<circle cx="199.90" cy="335.01" r="2.45" fill="#c6c6c6" stroke="#7c7c7c" stroke-width="0.65"/>
<circle cx="196.92" cy="338.49" r="2.45" fill="#c6c6c6" stroke="#7c7c7c" stroke-width="0.65"/>
<text x="83.85" y="356.30" text-anchor="middle" font-size="12.9" fill="#222222" font-weight="normal" font-style="normal">Ctrl</text>
<text x="134.40" y="356.30" text-anchor="middle" font-size="12.9" fill="#222222" font-weight="normal" font-style="normal">Act</text>
<text x="184.95" y="356.30" text-anchor="middle" font-size="12.9" fill="#222222" font-weight="normal" font-style="normal">Supp</text>
<path d="M88.6,216 L88.6,213 L129.7,213 L129.7,216" fill="none" stroke="#8a8a8a" stroke-width="0.9"/>
<text x="109.15" y="215.40" text-anchor="middle" font-size="14.5" fill="#222222" font-weight="normal" font-style="normal">*</text>
<text x="360.20" y="185.20" text-anchor="middle" font-size="12.9" fill="#222222" font-weight="normal" font-style="normal">Exploratory state</text>
<rect x="278.60" y="190.00" width="163.70" height="8.00" fill="#04996d" stroke="#777" stroke-width="0.5"/>
<rect x="292.90" y="291.63" width="40.90" height="48.67" fill="#04996d" stroke="#3c4046" stroke-width="0.4"/>
<line x1="313.35" y1="291.63" x2="313.35" y2="286.92" stroke="#222" stroke-width="1"/>
<line x1="311.35" y1="286.92" x2="315.35" y2="286.92" stroke="#222" stroke-width="1"/>
<rect x="343.40" y="257.62" width="40.90" height="82.68" fill="#04996d" stroke="#3c4046" stroke-width="0.4"/>
<line x1="363.85" y1="257.62" x2="363.85" y2="251.37" stroke="#222" stroke-width="1"/>
<line x1="361.85" y1="251.37" x2="365.85" y2="251.37" stroke="#222" stroke-width="1"/>
<rect x="393.90" y="300.30" width="40.90" height="40.00" fill="#04996d" stroke="#3c4046" stroke-width="0.4"/>
<line x1="414.35" y1="300.30" x2="414.35" y2="293.67" stroke="#222" stroke-width="1"/>
<line x1="412.35" y1="293.67" x2="416.35" y2="293.67" stroke="#222" stroke-width="1"/>
<line x1="287.90" y1="207.30" x2="287.90" y2="340.80" stroke="#6e6e6e" stroke-width="1"/>
<line x1="287.40" y1="340.30" x2="438.80" y2="340.30" stroke="#6e6e6e" stroke-width="1"/>
<line x1="287.90" y1="340.30" x2="291.90" y2="340.30" stroke="#6e6e6e" stroke-width="0.8"/>
<line x1="287.90" y1="319.07" x2="290.90" y2="319.07" stroke="#6e6e6e" stroke-width="0.8"/>
<line x1="287.90" y1="297.83" x2="290.90" y2="297.83" stroke="#6e6e6e" stroke-width="0.8"/>
<line x1="287.90" y1="276.60" x2="291.90" y2="276.60" stroke="#6e6e6e" stroke-width="0.8"/>
<line x1="287.90" y1="255.37" x2="290.90" y2="255.37" stroke="#6e6e6e" stroke-width="0.8"/>
<line x1="287.90" y1="234.13" x2="290.90" y2="234.13" stroke="#6e6e6e" stroke-width="0.8"/>
<line x1="287.90" y1="212.90" x2="291.90" y2="212.90" stroke="#6e6e6e" stroke-width="0.8"/>
<text x="282.40" y="217.40" text-anchor="end" font-size="12.9" fill="#222222" font-weight="normal" font-style="normal">100</text>
<text x="282.40" y="281.10" text-anchor="end" font-size="12.9" fill="#222222" font-weight="normal" font-style="normal">50</text>
<text x="282.40" y="344.80" text-anchor="end" font-size="12.9" fill="#222222" font-weight="normal" font-style="normal">0</text>
<text x="252.70" y="273.60" text-anchor="middle" font-size="12.9" fill="#222222" font-weight="normal" font-style="normal" transform="rotate(-90 252.70 273.60)">Fraction of time (%)</text>
<circle cx="315.74" cy="249.89" r="2.45" fill="#c6c6c6" stroke="#7c7c7c" stroke-width="0.65"/>
<circle cx="321.94" cy="271.23" r="2.45" fill="#c6c6c6" stroke="#7c7c7c" stroke-width="0.65"/>
<circle cx="318.47" cy="276.94" r="2.45" fill="#c6c6c6" stroke="#7c7c7c" stroke-width="0.65"/>
<circle cx="297.87" cy="279.92" r="2.45" fill="#c6c6c6" stroke="#7c7c7c" stroke-width="0.65"/>
<circle cx="299.85" cy="281.41" r="2.45" fill="#c6c6c6" stroke="#7c7c7c" stroke-width="0.65"/>
<circle cx="304.32" cy="283.64" r="2.45" fill="#c6c6c6" stroke="#7c7c7c" stroke-width="0.65"/>
<circle cx="323.43" cy="280.66" r="2.45" fill="#c6c6c6" stroke="#7c7c7c" stroke-width="0.65"/>
<circle cx="316.73" cy="285.62" r="2.45" fill="#c6c6c6" stroke="#7c7c7c" stroke-width="0.65"/>
<circle cx="301.09" cy="290.59" r="2.45" fill="#c6c6c6" stroke="#7c7c7c" stroke-width="0.65"/>
<circle cx="312.26" cy="289.35" r="2.45" fill="#c6c6c6" stroke="#7c7c7c" stroke-width="0.65"/>
<circle cx="319.96" cy="292.33" r="2.45" fill="#c6c6c6" stroke="#7c7c7c" stroke-width="0.65"/>
<circle cx="307.30" cy="305.23" r="2.45" fill="#c6c6c6" stroke="#7c7c7c" stroke-width="0.65"/>
<circle cx="310.77" cy="306.47" r="2.45" fill="#c6c6c6" stroke="#7c7c7c" stroke-width="0.65"/>
<circle cx="309.04" cy="309.95" r="2.45" fill="#c6c6c6" stroke="#7c7c7c" stroke-width="0.65"/>
<circle cx="328.15" cy="306.47" r="2.45" fill="#c6c6c6" stroke="#7c7c7c" stroke-width="0.65"/>
<circle cx="324.92" cy="313.17" r="2.45" fill="#c6c6c6" stroke="#7c7c7c" stroke-width="0.65"/>
<circle cx="302.83" cy="323.10" r="2.45" fill="#c6c6c6" stroke="#7c7c7c" stroke-width="0.65"/>
<circle cx="305.81" cy="323.60" r="2.45" fill="#c6c6c6" stroke="#7c7c7c" stroke-width="0.65"/>
<circle cx="314.00" cy="324.59" r="2.45" fill="#c6c6c6" stroke="#7c7c7c" stroke-width="0.65"/>
<circle cx="326.66" cy="332.53" r="2.45" fill="#c6c6c6" stroke="#7c7c7c" stroke-width="0.65"/>
<circle cx="355.20" cy="232.76" r="2.45" fill="#c6c6c6" stroke="#7c7c7c" stroke-width="0.65"/>
<circle cx="358.67" cy="240.21" r="2.45" fill="#c6c6c6" stroke="#7c7c7c" stroke-width="0.65"/>
<circle cx="361.90" cy="241.45" r="2.45" fill="#c6c6c6" stroke="#7c7c7c" stroke-width="0.65"/>
<circle cx="348.50" cy="256.34" r="2.45" fill="#c6c6c6" stroke="#7c7c7c" stroke-width="0.65"/>
<circle cx="375.55" cy="254.60" r="2.45" fill="#c6c6c6" stroke="#7c7c7c" stroke-width="0.65"/>
<circle cx="372.07" cy="259.32" r="2.45" fill="#c6c6c6" stroke="#7c7c7c" stroke-width="0.65"/>
<circle cx="365.37" cy="270.73" r="2.45" fill="#c6c6c6" stroke="#7c7c7c" stroke-width="0.65"/>
<circle cx="351.97" cy="273.71" r="2.45" fill="#c6c6c6" stroke="#7c7c7c" stroke-width="0.65"/>
<circle cx="368.85" cy="289.60" r="2.45" fill="#c6c6c6" stroke="#7c7c7c" stroke-width="0.65"/>
<circle cx="378.77" cy="292.82" r="2.45" fill="#c6c6c6" stroke="#7c7c7c" stroke-width="0.65"/>
<circle cx="429.40" cy="266.27" r="2.45" fill="#c6c6c6" stroke="#7c7c7c" stroke-width="0.65"/>
<circle cx="417.24" cy="279.17" r="2.45" fill="#c6c6c6" stroke="#7c7c7c" stroke-width="0.65"/>
<circle cx="423.20" cy="279.17" r="2.45" fill="#c6c6c6" stroke="#7c7c7c" stroke-width="0.65"/>
<circle cx="402.10" cy="285.87" r="2.45" fill="#c6c6c6" stroke="#7c7c7c" stroke-width="0.65"/>
<circle cx="426.18" cy="289.10" r="2.45" fill="#c6c6c6" stroke="#7c7c7c" stroke-width="0.65"/>
<circle cx="420.22" cy="300.27" r="2.45" fill="#c6c6c6" stroke="#7c7c7c" stroke-width="0.65"/>
<circle cx="414.26" cy="307.71" r="2.45" fill="#c6c6c6" stroke="#7c7c7c" stroke-width="0.65"/>
<circle cx="411.04" cy="313.17" r="2.45" fill="#c6c6c6" stroke="#7c7c7c" stroke-width="0.65"/>
<circle cx="408.06" cy="317.14" r="2.45" fill="#c6c6c6" stroke="#7c7c7c" stroke-width="0.65"/>
<circle cx="399.12" cy="326.82" r="2.45" fill="#c6c6c6" stroke="#7c7c7c" stroke-width="0.65"/>
<circle cx="405.08" cy="335.76" r="2.45" fill="#c6c6c6" stroke="#7c7c7c" stroke-width="0.65"/>
<text x="313.35" y="356.30" text-anchor="middle" font-size="12.9" fill="#222222" font-weight="normal" font-style="normal">Ctrl</text>
<text x="363.85" y="356.30" text-anchor="middle" font-size="12.9" fill="#222222" font-weight="normal" font-style="normal">Act</text>
<text x="414.35" y="356.30" text-anchor="middle" font-size="12.9" fill="#222222" font-weight="normal" font-style="normal">Supp</text>
<path d="M318.5,216 L318.5,213 L358.7,213 L358.7,216" fill="none" stroke="#8a8a8a" stroke-width="0.9"/>
<text x="338.60" y="215.40" text-anchor="middle" font-size="14.5" fill="#222222" font-weight="normal" font-style="normal">***</text>
<text x="601.30" y="185.20" text-anchor="middle" font-size="12.9" fill="#222222" font-weight="normal" font-style="normal">Disengaged state</text>
<rect x="519.10" y="190.00" width="164.30" height="8.00" fill="#d6632c" stroke="#777" stroke-width="0.5"/>
<rect x="532.00" y="305.76" width="40.80" height="34.04" fill="#d6632c" stroke="#3c4046" stroke-width="0.4"/>
<line x1="552.40" y1="305.76" x2="552.40" y2="301.30" stroke="#222" stroke-width="1"/>
<line x1="550.40" y1="301.30" x2="554.40" y2="301.30" stroke="#222" stroke-width="1"/>
<rect x="582.00" y="315.19" width="41.00" height="24.61" fill="#d6632c" stroke="#3c4046" stroke-width="0.4"/>
<line x1="602.50" y1="315.19" x2="602.50" y2="309.20" stroke="#222" stroke-width="1"/>
<line x1="600.50" y1="309.20" x2="604.50" y2="309.20" stroke="#222" stroke-width="1"/>
<rect x="632.90" y="318.12" width="40.90" height="21.68" fill="#d6632c" stroke="#3c4046" stroke-width="0.4"/>
<line x1="653.35" y1="318.12" x2="653.35" y2="311.62" stroke="#222" stroke-width="1"/>
<line x1="651.35" y1="311.62" x2="655.35" y2="311.62" stroke="#222" stroke-width="1"/>
<line x1="526.70" y1="206.70" x2="526.70" y2="340.30" stroke="#6e6e6e" stroke-width="1"/>
<line x1="526.20" y1="339.80" x2="678.80" y2="339.80" stroke="#6e6e6e" stroke-width="1"/>
<line x1="526.70" y1="339.80" x2="530.70" y2="339.80" stroke="#6e6e6e" stroke-width="0.8"/>
<line x1="526.70" y1="318.55" x2="529.70" y2="318.55" stroke="#6e6e6e" stroke-width="0.8"/>
<line x1="526.70" y1="297.30" x2="529.70" y2="297.30" stroke="#6e6e6e" stroke-width="0.8"/>
<line x1="526.70" y1="276.05" x2="530.70" y2="276.05" stroke="#6e6e6e" stroke-width="0.8"/>
<line x1="526.70" y1="254.80" x2="529.70" y2="254.80" stroke="#6e6e6e" stroke-width="0.8"/>
<line x1="526.70" y1="233.55" x2="529.70" y2="233.55" stroke="#6e6e6e" stroke-width="0.8"/>
<line x1="526.70" y1="212.30" x2="530.70" y2="212.30" stroke="#6e6e6e" stroke-width="0.8"/>
<text x="521.20" y="216.80" text-anchor="end" font-size="12.9" fill="#222222" font-weight="normal" font-style="normal">100</text>
<text x="521.20" y="280.55" text-anchor="end" font-size="12.9" fill="#222222" font-weight="normal" font-style="normal">50</text>
<text x="521.20" y="344.30" text-anchor="end" font-size="12.9" fill="#222222" font-weight="normal" font-style="normal">0</text>
<text x="491.50" y="273.05" text-anchor="middle" font-size="12.9" fill="#222222" font-weight="normal" font-style="normal" transform="rotate(-90 491.50 273.05)">Fraction of time (%)</text>
<circle cx="546.52" cy="252.12" r="2.45" fill="#c6c6c6" stroke="#7c7c7c" stroke-width="0.65"/>
<circle cx="559.42" cy="260.06" r="2.45" fill="#c6c6c6" stroke="#7c7c7c" stroke-width="0.65"/>
<circle cx="543.29" cy="278.68" r="2.45" fill="#c6c6c6" stroke="#7c7c7c" stroke-width="0.65"/>
<circle cx="562.65" cy="295.06" r="2.45" fill="#c6c6c6" stroke="#7c7c7c" stroke-width="0.65"/>
<circle cx="538.58" cy="298.28" r="2.45" fill="#c6c6c6" stroke="#7c7c7c" stroke-width="0.65"/>
<circle cx="536.84" cy="301.01" r="2.45" fill="#c6c6c6" stroke="#7c7c7c" stroke-width="0.65"/>
<circle cx="557.69" cy="300.02" r="2.45" fill="#c6c6c6" stroke="#7c7c7c" stroke-width="0.65"/>
<circle cx="554.21" cy="303.00" r="2.45" fill="#c6c6c6" stroke="#7c7c7c" stroke-width="0.65"/>
<circle cx="551.73" cy="303.74" r="2.45" fill="#c6c6c6" stroke="#7c7c7c" stroke-width="0.65"/>
<circle cx="548.01" cy="305.73" r="2.45" fill="#c6c6c6" stroke="#7c7c7c" stroke-width="0.65"/>
<circle cx="554.71" cy="305.97" r="2.45" fill="#c6c6c6" stroke="#7c7c7c" stroke-width="0.65"/>
<circle cx="540.07" cy="308.46" r="2.45" fill="#c6c6c6" stroke="#7c7c7c" stroke-width="0.65"/>
<circle cx="549.74" cy="313.17" r="2.45" fill="#c6c6c6" stroke="#7c7c7c" stroke-width="0.65"/>
<circle cx="552.97" cy="312.92" r="2.45" fill="#c6c6c6" stroke="#7c7c7c" stroke-width="0.65"/>
<circle cx="560.91" cy="317.89" r="2.45" fill="#c6c6c6" stroke="#7c7c7c" stroke-width="0.65"/>
<circle cx="541.80" cy="321.61" r="2.45" fill="#c6c6c6" stroke="#7c7c7c" stroke-width="0.65"/>
<circle cx="545.03" cy="328.06" r="2.45" fill="#c6c6c6" stroke="#7c7c7c" stroke-width="0.65"/>
<circle cx="564.14" cy="327.07" r="2.45" fill="#c6c6c6" stroke="#7c7c7c" stroke-width="0.65"/>
<circle cx="567.37" cy="325.33" r="2.45" fill="#c6c6c6" stroke="#7c7c7c" stroke-width="0.65"/>
<circle cx="565.63" cy="332.78" r="2.45" fill="#c6c6c6" stroke="#7c7c7c" stroke-width="0.65"/>
<circle cx="607.57" cy="262.79" r="2.45" fill="#c6c6c6" stroke="#7c7c7c" stroke-width="0.65"/>
<circle cx="617.74" cy="286.62" r="2.45" fill="#c6c6c6" stroke="#7c7c7c" stroke-width="0.65"/>
<circle cx="614.52" cy="302.50" r="2.45" fill="#c6c6c6" stroke="#7c7c7c" stroke-width="0.65"/>
<circle cx="611.04" cy="308.46" r="2.45" fill="#c6c6c6" stroke="#7c7c7c" stroke-width="0.65"/>
<circle cx="600.87" cy="313.67" r="2.45" fill="#c6c6c6" stroke="#7c7c7c" stroke-width="0.65"/>
<circle cx="587.47" cy="316.15" r="2.45" fill="#c6c6c6" stroke="#7c7c7c" stroke-width="0.65"/>
<circle cx="604.10" cy="318.38" r="2.45" fill="#c6c6c6" stroke="#7c7c7c" stroke-width="0.65"/>
<circle cx="594.17" cy="320.37" r="2.45" fill="#c6c6c6" stroke="#7c7c7c" stroke-width="0.65"/>
<circle cx="590.94" cy="323.35" r="2.45" fill="#c6c6c6" stroke="#7c7c7c" stroke-width="0.65"/>
<circle cx="597.64" cy="324.09" r="2.45" fill="#c6c6c6" stroke="#7c7c7c" stroke-width="0.65"/>
<circle cx="665.39" cy="265.03" r="2.45" fill="#c6c6c6" stroke="#7c7c7c" stroke-width="0.65"/>
<circle cx="659.19" cy="291.83" r="2.45" fill="#c6c6c6" stroke="#7c7c7c" stroke-width="0.65"/>
<circle cx="668.37" cy="291.58" r="2.45" fill="#c6c6c6" stroke="#7c7c7c" stroke-width="0.65"/>
<circle cx="662.17" cy="297.29" r="2.45" fill="#c6c6c6" stroke="#7c7c7c" stroke-width="0.65"/>
<circle cx="641.07" cy="306.72" r="2.45" fill="#c6c6c6" stroke="#7c7c7c" stroke-width="0.65"/>
<circle cx="656.21" cy="317.89" r="2.45" fill="#c6c6c6" stroke="#7c7c7c" stroke-width="0.65"/>
<circle cx="638.10" cy="323.60" r="2.45" fill="#c6c6c6" stroke="#7c7c7c" stroke-width="0.65"/>
<circle cx="644.05" cy="328.31" r="2.45" fill="#c6c6c6" stroke="#7c7c7c" stroke-width="0.65"/>
<circle cx="647.03" cy="326.57" r="2.45" fill="#c6c6c6" stroke="#7c7c7c" stroke-width="0.65"/>
<circle cx="650.26" cy="331.54" r="2.45" fill="#c6c6c6" stroke="#7c7c7c" stroke-width="0.65"/>
<circle cx="653.23" cy="335.01" r="2.45" fill="#c6c6c6" stroke="#7c7c7c" stroke-width="0.65"/>
<text x="552.40" y="356.30" text-anchor="middle" font-size="12.9" fill="#222222" font-weight="normal" font-style="normal">Ctrl</text>
<text x="602.50" y="356.30" text-anchor="middle" font-size="12.9" fill="#222222" font-weight="normal" font-style="normal">Act</text>
<text x="653.35" y="356.30" text-anchor="middle" font-size="12.9" fill="#222222" font-weight="normal" font-style="normal">Supp</text>
<text x="0.50" y="388.80" font-size="14.7" font-weight="bold" fill="#161616" stroke="#161616" stroke-width="0.6" stroke-linejoin="round">d</text>
<text x="33.90" y="433.00" text-anchor="middle" font-size="13.2" fill="#222222" font-weight="normal" font-style="normal">Fibre</text>
<text x="35.60" y="448.60" text-anchor="middle" font-size="13.3" fill="#222222" font-weight="normal" font-style="normal">photometry</text>
<rect x="20.40" y="460.80" width="69.30" height="61.30" fill="#d6d7d4" stroke="#3566b0" stroke-width="1.2"/>
<path d="M10.4,462 L10.4,506.7 L34,506.7" fill="none" stroke="#2c5fae" stroke-width="1.8"/>
<path d="M11.9,462 L11.9,505.1 L34,505.1" fill="none" stroke="#3aa655" stroke-width="1.1"/>
<rect x="3.10" y="453.10" width="15.60" height="9.40" fill="#d4d4d4" stroke="#111" stroke-width="1.2"/>
<rect x="7.60" y="458.40" width="6.30" height="3.50" fill="#111" stroke="none" stroke-width="1"/>
<circle cx="35.10" cy="471.50" r="2.4" fill="#2d63b6" stroke="none" stroke-width="1"/>
<rect x="77.70" y="466.40" width="5.20" height="6.50" fill="#2d63b6" stroke="none" stroke-width="1"/>
<circle cx="80.30" cy="469.60" r="1.6" fill="#f0de62" stroke="none" stroke-width="1"/>
<circle cx="56.90" cy="483.30" r="2.4" fill="#e8d64a" stroke="#2d63b6" stroke-width="1.0"/>
<circle cx="58.40" cy="484.20" r="1.2" fill="#d6d7d4" stroke="none" stroke-width="1"/>
<circle cx="80.70" cy="492.60" r="2.1" fill="#2e9a50" stroke="#d2691e" stroke-width="1.1"/>
<circle cx="28.70" cy="495.80" r="2.0" fill="#f0dc5a" stroke="#2d63b6" stroke-width="0.9"/>
<ellipse cx="65.6" cy="514.9" rx="1.5" ry="2.7" transform="rotate(18 65.6 514.9)" fill="#f0c8b8" stroke="#2d63b6" stroke-width="0.9"/>
<g transform="translate(34.90 508.60) rotate(20) scale(0.619 0.72)"><path d="M-6,-4 C-6.6,-6 -3,-6.6 0,-6 C3,-6.8 6.6,-5 6,-2 C6.6,0 4.6,1 4,2.2 C3.4,5 1,7 -1.5,6.8 C-4,6.5 -5,3 -5,1 C-6.6,0 -6.6,-2 -6,-4 Z" fill="#0c0c0c"/><path d="M-1.8,6.3 C-1.2,9 0.8,10.4 3.2,11.4" fill="none" stroke="#0c0c0c" stroke-width="1.1" stroke-linecap="round"/><path d="M-5,-7 C-3.2,-9 -1,-8.6 0.6,-6.4 C3,-8 6,-8 8,-5.4" fill="none" stroke="#3a3f4a" stroke-width="0.5"/></g>
<text x="53.20" y="536.50" text-anchor="middle" font-size="12.6" fill="#222222" font-weight="normal" font-style="normal">VGluT2:</text>
<text x="54.80" y="552.60" text-anchor="middle" font-size="13" fill="#222222" font-weight="normal" font-style="normal">GCaMP6f</text>
<text x="105.80" y="389.10" font-size="14.7" font-weight="bold" fill="#161616" stroke="#161616" stroke-width="0.6" stroke-linejoin="round">e</text>
<g shape-rendering="crispEdges">
<path d="M165.6 410.65h1.3v2.80h-1.3zM169.9 410.65h1.3v2.80h-1.3zM195.4 418.30h1.3v2.80h-1.3zM197.5 418.30h1.3v2.80h-1.3z" fill="#352a87"/>
<path d="M164.6 410.65h1.3v2.80h-1.3zM166.7 410.65h2.4v2.80h-2.4z" fill="#35349b"/>
<path d="M163.5 410.65h1.3v2.80h-1.3zM172.0 410.65h1.3v2.80h-1.3zM246.4 410.65h1.3v2.80h-1.3zM252.8 410.65h1.3v2.80h-1.3zM202.8 418.30h1.3v2.80h-1.3zM204.9 418.30h1.3v2.80h-1.3zM226.2 418.30h1.3v2.80h-1.3z" fill="#343eaf"/>
<path d="M168.8 410.65h1.3v2.80h-1.3zM173.1 410.65h1.3v2.80h-1.3zM176.2 410.65h1.3v2.80h-1.3zM245.3 410.65h1.3v2.80h-1.3zM249.6 410.65h1.3v2.80h-1.3zM251.7 410.65h1.3v2.80h-1.3zM265.5 410.65h1.3v2.80h-1.3zM267.6 410.65h1.3v2.80h-1.3zM269.8 410.65h1.3v2.80h-1.3zM272.9 410.65h2.4v2.80h-2.4zM207.1 418.30h1.3v2.80h-1.3zM213.4 418.30h2.4v2.80h-2.4zM220.9 418.30h1.3v2.80h-1.3zM227.3 418.30h1.3v2.80h-1.3zM237.9 418.30h1.3v2.80h-1.3zM227.3 431.05h1.3v2.80h-1.3z" fill="#2949c3"/>
<path d="M160.3 410.65h1.3v2.80h-1.3zM162.4 410.65h1.3v2.80h-1.3zM170.9 410.65h1.3v2.80h-1.3zM229.4 410.65h1.3v2.80h-1.3zM242.1 410.65h1.3v2.80h-1.3zM255.9 410.65h2.4v2.80h-2.4zM268.7 410.65h1.3v2.80h-1.3zM270.8 410.65h2.4v2.80h-2.4zM196.4 418.30h1.3v2.80h-1.3zM201.7 418.30h1.3v2.80h-1.3zM203.9 418.30h1.3v2.80h-1.3zM217.7 418.30h1.3v2.80h-1.3zM223.0 418.30h1.3v2.80h-1.3zM225.1 418.30h1.3v2.80h-1.3zM228.3 418.30h1.3v2.80h-1.3zM231.5 418.30h2.4v2.80h-2.4zM235.8 418.30h1.3v2.80h-1.3zM248.5 418.30h1.3v2.80h-1.3zM259.1 431.05h1.3v2.80h-1.3z" fill="#1d55d5"/>
<path d="M189.0 410.65h1.3v2.80h-1.3zM209.2 410.65h2.4v2.80h-2.4zM237.9 410.65h1.3v2.80h-1.3zM241.1 410.65h1.3v2.80h-1.3zM247.4 410.65h1.3v2.80h-1.3zM250.6 410.65h1.3v2.80h-1.3zM264.4 410.65h1.3v2.80h-1.3zM275.1 410.65h2.4v2.80h-2.4zM193.2 418.30h1.3v2.80h-1.3zM198.6 418.30h1.3v2.80h-1.3zM200.7 418.30h1.3v2.80h-1.3zM206.0 418.30h1.3v2.80h-1.3zM208.1 418.30h4.5v2.80h-4.5zM215.6 418.30h2.4v2.80h-2.4zM218.8 418.30h2.4v2.80h-2.4zM221.9 418.30h1.3v2.80h-1.3zM224.1 418.30h1.3v2.80h-1.3zM234.7 418.30h1.3v2.80h-1.3zM236.8 418.30h1.3v2.80h-1.3zM238.9 418.30h1.3v2.80h-1.3zM268.7 418.30h1.3v2.80h-1.3zM253.8 428.50h3.4v2.80h-3.4zM230.4 431.05h1.3v2.80h-1.3zM232.6 431.05h1.3v2.80h-1.3zM248.5 431.05h1.3v2.80h-1.3z" fill="#0d60dc"/>
<path d="M161.4 410.65h1.3v2.80h-1.3zM175.2 410.65h1.3v2.80h-1.3zM177.3 410.65h1.3v2.80h-1.3zM192.2 410.65h1.3v2.80h-1.3zM211.3 410.65h2.4v2.80h-2.4zM219.8 410.65h1.3v2.80h-1.3zM224.1 410.65h1.3v2.80h-1.3zM230.4 410.65h1.3v2.80h-1.3zM248.5 410.65h1.3v2.80h-1.3zM254.9 410.65h1.3v2.80h-1.3zM258.1 410.65h6.6v2.80h-6.6zM266.6 410.65h1.3v2.80h-1.3zM255.9 413.20h1.3v2.80h-1.3zM236.8 415.75h1.3v2.80h-1.3zM275.1 415.75h1.3v2.80h-1.3zM194.3 418.30h1.3v2.80h-1.3zM199.6 418.30h1.3v2.80h-1.3zM230.4 418.30h1.3v2.80h-1.3zM258.1 418.30h1.3v2.80h-1.3zM260.2 418.30h1.3v2.80h-1.3zM265.5 418.30h1.3v2.80h-1.3zM276.1 418.30h1.3v2.80h-1.3zM258.1 428.50h1.3v2.80h-1.3zM261.3 428.50h1.3v2.80h-1.3zM264.4 428.50h1.3v2.80h-1.3zM266.6 428.50h1.3v2.80h-1.3zM270.8 428.50h1.3v2.80h-1.3zM229.4 431.05h1.3v2.80h-1.3zM249.6 431.05h1.3v2.80h-1.3zM263.4 431.05h1.3v2.80h-1.3zM267.6 431.05h1.3v2.80h-1.3zM271.9 431.05h2.4v2.80h-2.4z" fill="#036ae0"/>
<path d="M178.4 410.65h2.4v2.80h-2.4zM181.6 410.65h1.3v2.80h-1.3zM183.7 410.65h1.3v2.80h-1.3zM187.9 410.65h1.3v2.80h-1.3zM215.6 410.65h1.3v2.80h-1.3zM218.8 410.65h1.3v2.80h-1.3zM221.9 410.65h1.3v2.80h-1.3zM234.7 410.65h1.3v2.80h-1.3zM238.9 410.65h2.4v2.80h-2.4zM243.2 410.65h1.3v2.80h-1.3zM253.8 410.65h1.3v2.80h-1.3zM257.0 413.20h1.3v2.80h-1.3zM227.3 415.75h1.3v2.80h-1.3zM231.5 415.75h1.3v2.80h-1.3zM212.4 418.30h1.3v2.80h-1.3zM229.4 418.30h1.3v2.80h-1.3zM233.6 418.30h1.3v2.80h-1.3zM245.3 418.30h1.3v2.80h-1.3zM247.4 418.30h1.3v2.80h-1.3zM250.6 418.30h1.3v2.80h-1.3zM252.8 418.30h2.4v2.80h-2.4zM259.1 418.30h1.3v2.80h-1.3zM262.3 418.30h1.3v2.80h-1.3zM266.6 418.30h2.4v2.80h-2.4zM269.8 418.30h2.4v2.80h-2.4zM250.6 428.50h2.4v2.80h-2.4zM257.0 428.50h1.3v2.80h-1.3zM262.3 428.50h1.3v2.80h-1.3zM267.6 428.50h2.4v2.80h-2.4zM228.3 431.05h1.3v2.80h-1.3zM262.3 431.05h1.3v2.80h-1.3zM269.8 431.05h1.3v2.80h-1.3z" fill="#0971de"/>
<path d="M182.6 410.65h1.3v2.80h-1.3zM184.7 410.65h1.3v2.80h-1.3zM190.1 410.65h1.3v2.80h-1.3zM193.2 410.65h2.4v2.80h-2.4zM208.1 410.65h1.3v2.80h-1.3zM217.7 410.65h1.3v2.80h-1.3zM228.3 410.65h1.3v2.80h-1.3zM233.6 410.65h1.3v2.80h-1.3zM236.8 410.65h1.3v2.80h-1.3zM244.3 410.65h1.3v2.80h-1.3zM254.9 413.20h1.3v2.80h-1.3zM264.4 413.20h1.3v2.80h-1.3zM276.1 413.20h1.3v2.80h-1.3zM245.3 415.75h1.3v2.80h-1.3zM267.6 415.75h1.3v2.80h-1.3zM182.6 418.30h1.3v2.80h-1.3zM244.3 418.30h1.3v2.80h-1.3zM271.9 418.30h2.4v2.80h-2.4zM275.1 418.30h1.3v2.80h-1.3zM248.5 428.50h1.3v2.80h-1.3zM265.5 428.50h1.3v2.80h-1.3zM274.0 428.50h2.4v2.80h-2.4zM207.1 431.05h1.3v2.80h-1.3zM247.4 431.05h1.3v2.80h-1.3zM251.7 431.05h1.3v2.80h-1.3zM253.8 431.05h1.3v2.80h-1.3zM257.0 431.05h1.3v2.80h-1.3zM265.5 431.05h1.3v2.80h-1.3zM270.8 431.05h1.3v2.80h-1.3z" fill="#0e77db"/>
<path d="M174.1 410.65h1.3v2.80h-1.3zM180.5 410.65h1.3v2.80h-1.3zM185.8 410.65h2.4v2.80h-2.4zM213.4 410.65h1.3v2.80h-1.3zM220.9 410.65h1.3v2.80h-1.3zM227.3 410.65h1.3v2.80h-1.3zM235.8 410.65h1.3v2.80h-1.3zM231.5 413.20h1.3v2.80h-1.3zM258.1 413.20h1.3v2.80h-1.3zM265.5 413.20h1.3v2.80h-1.3zM233.6 415.75h1.3v2.80h-1.3zM272.9 415.75h1.3v2.80h-1.3zM243.2 418.30h1.3v2.80h-1.3zM249.6 418.30h1.3v2.80h-1.3zM251.7 418.30h1.3v2.80h-1.3zM261.3 418.30h1.3v2.80h-1.3zM264.4 418.30h1.3v2.80h-1.3zM259.1 428.50h2.4v2.80h-2.4zM263.4 428.50h1.3v2.80h-1.3zM269.8 428.50h1.3v2.80h-1.3zM271.9 428.50h2.4v2.80h-2.4zM211.3 431.05h2.4v2.80h-2.4zM231.5 431.05h1.3v2.80h-1.3zM258.1 431.05h1.3v2.80h-1.3zM260.2 431.05h2.4v2.80h-2.4zM268.7 431.05h1.3v2.80h-1.3z" fill="#127dd8"/>
<path d="M211.3 408.10h1.3v2.80h-1.3zM248.5 408.10h1.3v2.80h-1.3zM263.4 408.10h1.3v2.80h-1.3zM191.1 410.65h1.3v2.80h-1.3zM207.1 410.65h1.3v2.80h-1.3zM214.5 410.65h1.3v2.80h-1.3zM216.6 410.65h1.3v2.80h-1.3zM225.1 410.65h1.3v2.80h-1.3zM231.5 410.65h2.4v2.80h-2.4zM261.3 413.20h2.4v2.80h-2.4zM266.6 413.20h1.3v2.80h-1.3zM218.8 415.75h1.3v2.80h-1.3zM224.1 415.75h2.4v2.80h-2.4zM247.4 415.75h1.3v2.80h-1.3zM257.0 415.75h1.3v2.80h-1.3zM259.1 415.75h2.4v2.80h-2.4zM262.3 415.75h1.3v2.80h-1.3zM266.6 415.75h1.3v2.80h-1.3zM268.7 415.75h2.4v2.80h-2.4zM274.0 415.75h1.3v2.80h-1.3zM190.1 418.30h1.3v2.80h-1.3zM242.1 418.30h1.3v2.80h-1.3zM254.9 418.30h3.4v2.80h-3.4zM274.0 418.30h1.3v2.80h-1.3zM167.7 420.85h1.3v2.80h-1.3zM169.9 420.85h1.3v2.80h-1.3zM252.8 420.85h1.3v2.80h-1.3zM247.4 428.50h1.3v2.80h-1.3zM249.6 428.50h1.3v2.80h-1.3zM252.8 428.50h1.3v2.80h-1.3zM210.2 431.05h1.3v2.80h-1.3zM218.8 431.05h1.3v2.80h-1.3zM226.2 431.05h1.3v2.80h-1.3zM242.1 431.05h2.4v2.80h-2.4zM246.4 431.05h1.3v2.80h-1.3zM250.6 431.05h1.3v2.80h-1.3zM254.9 431.05h1.3v2.80h-1.3zM264.4 431.05h1.3v2.80h-1.3zM266.6 431.05h1.3v2.80h-1.3z" fill="#1384d5"/>
<path d="M180.5 408.10h1.3v2.80h-1.3zM221.9 408.10h1.3v2.80h-1.3zM238.9 408.10h1.3v2.80h-1.3zM250.6 408.10h1.3v2.80h-1.3zM262.3 408.10h1.3v2.80h-1.3zM274.0 408.10h1.3v2.80h-1.3zM223.0 410.65h1.3v2.80h-1.3zM192.2 413.20h1.3v2.80h-1.3zM212.4 413.20h1.3v2.80h-1.3zM232.6 413.20h1.3v2.80h-1.3zM246.4 413.20h1.3v2.80h-1.3zM253.8 413.20h1.3v2.80h-1.3zM263.4 413.20h1.3v2.80h-1.3zM270.8 413.20h1.3v2.80h-1.3zM275.1 413.20h1.3v2.80h-1.3zM216.6 415.75h1.3v2.80h-1.3zM228.3 415.75h1.3v2.80h-1.3zM230.4 415.75h1.3v2.80h-1.3zM235.8 415.75h1.3v2.80h-1.3zM246.4 415.75h1.3v2.80h-1.3zM255.9 415.75h1.3v2.80h-1.3zM271.9 415.75h1.3v2.80h-1.3zM246.4 418.30h1.3v2.80h-1.3zM263.4 418.30h1.3v2.80h-1.3zM225.1 420.85h1.3v2.80h-1.3zM236.8 420.85h1.3v2.80h-1.3zM253.8 420.85h1.3v2.80h-1.3zM269.8 420.85h1.3v2.80h-1.3zM232.6 423.40h1.3v2.80h-1.3zM266.6 423.40h1.3v2.80h-1.3zM219.8 428.50h1.3v2.80h-1.3zM208.1 431.05h2.4v2.80h-2.4zM213.4 431.05h1.3v2.80h-1.3zM217.7 431.05h1.3v2.80h-1.3zM223.0 431.05h1.3v2.80h-1.3zM245.3 431.05h1.3v2.80h-1.3zM252.8 431.05h1.3v2.80h-1.3zM255.9 431.05h1.3v2.80h-1.3zM276.1 431.05h1.3v2.80h-1.3z" fill="#118bd3"/>
<path d="M215.6 408.10h1.3v2.80h-1.3zM220.9 408.10h1.3v2.80h-1.3zM244.3 408.10h1.3v2.80h-1.3zM226.2 410.65h1.3v2.80h-1.3zM186.9 413.20h1.3v2.80h-1.3zM268.7 413.20h2.4v2.80h-2.4zM160.3 415.75h1.3v2.80h-1.3zM168.8 415.75h1.3v2.80h-1.3zM170.9 415.75h1.3v2.80h-1.3zM173.1 415.75h1.3v2.80h-1.3zM212.4 415.75h1.3v2.80h-1.3zM220.9 415.75h1.3v2.80h-1.3zM229.4 415.75h1.3v2.80h-1.3zM232.6 415.75h1.3v2.80h-1.3zM253.8 415.75h2.4v2.80h-2.4zM258.1 415.75h1.3v2.80h-1.3zM263.4 415.75h1.3v2.80h-1.3zM265.5 415.75h1.3v2.80h-1.3zM160.3 418.30h1.3v2.80h-1.3zM186.9 418.30h1.3v2.80h-1.3zM240.0 418.30h1.3v2.80h-1.3zM226.2 420.85h1.3v2.80h-1.3zM235.8 420.85h1.3v2.80h-1.3zM261.3 420.85h1.3v2.80h-1.3zM237.9 428.50h1.3v2.80h-1.3zM219.8 431.05h3.4v2.80h-3.4zM224.1 431.05h1.3v2.80h-1.3zM236.8 431.05h1.3v2.80h-1.3zM238.9 431.05h1.3v2.80h-1.3zM244.3 431.05h1.3v2.80h-1.3zM274.0 431.05h2.4v2.80h-2.4z" fill="#0d92d1"/>
<path d="M160.3 408.10h3.4v2.80h-3.4zM206.0 408.10h1.3v2.80h-1.3zM208.1 408.10h1.3v2.80h-1.3zM229.4 408.10h1.3v2.80h-1.3zM231.5 408.10h1.3v2.80h-1.3zM235.8 408.10h1.3v2.80h-1.3zM237.9 408.10h1.3v2.80h-1.3zM242.1 408.10h1.3v2.80h-1.3zM247.4 408.10h1.3v2.80h-1.3zM258.1 408.10h1.3v2.80h-1.3zM261.3 408.10h1.3v2.80h-1.3zM265.5 408.10h1.3v2.80h-1.3zM196.4 410.65h1.3v2.80h-1.3zM202.8 410.65h1.3v2.80h-1.3zM163.5 413.20h1.3v2.80h-1.3zM175.2 413.20h1.3v2.80h-1.3zM184.7 413.20h1.3v2.80h-1.3zM193.2 413.20h1.3v2.80h-1.3zM227.3 413.20h1.3v2.80h-1.3zM247.4 413.20h3.4v2.80h-3.4zM267.6 413.20h1.3v2.80h-1.3zM271.9 413.20h1.3v2.80h-1.3zM274.0 413.20h1.3v2.80h-1.3zM162.4 415.75h1.3v2.80h-1.3zM166.7 415.75h2.4v2.80h-2.4zM169.9 415.75h1.3v2.80h-1.3zM176.2 415.75h1.3v2.80h-1.3zM211.3 415.75h1.3v2.80h-1.3zM219.8 415.75h1.3v2.80h-1.3zM234.7 415.75h1.3v2.80h-1.3zM248.5 415.75h1.3v2.80h-1.3zM250.6 415.75h1.3v2.80h-1.3zM264.4 415.75h1.3v2.80h-1.3zM163.5 418.30h2.4v2.80h-2.4zM185.8 418.30h1.3v2.80h-1.3zM241.1 418.30h1.3v2.80h-1.3zM168.8 420.85h1.3v2.80h-1.3zM170.9 420.85h1.3v2.80h-1.3zM200.7 420.85h1.3v2.80h-1.3zM208.1 420.85h1.3v2.80h-1.3zM220.9 420.85h2.4v2.80h-2.4zM224.1 420.85h1.3v2.80h-1.3zM251.7 420.85h1.3v2.80h-1.3zM257.0 420.85h1.3v2.80h-1.3zM270.8 420.85h1.3v2.80h-1.3zM174.1 423.40h1.3v2.80h-1.3zM233.6 423.40h1.3v2.80h-1.3zM227.3 428.50h1.3v2.80h-1.3zM229.4 428.50h1.3v2.80h-1.3zM234.7 428.50h1.3v2.80h-1.3zM238.9 428.50h1.3v2.80h-1.3zM276.1 428.50h1.3v2.80h-1.3zM160.3 431.05h1.3v2.80h-1.3zM176.2 431.05h1.3v2.80h-1.3zM178.4 431.05h1.3v2.80h-1.3zM189.0 431.05h1.3v2.80h-1.3zM196.4 431.05h1.3v2.80h-1.3zM214.5 431.05h3.4v2.80h-3.4zM225.1 431.05h1.3v2.80h-1.3zM234.7 431.05h1.3v2.80h-1.3zM237.9 431.05h1.3v2.80h-1.3zM241.1 431.05h1.3v2.80h-1.3z" fill="#089ad0"/>
<path d="M167.7 408.10h1.3v2.80h-1.3zM178.4 408.10h1.3v2.80h-1.3zM192.2 408.10h1.3v2.80h-1.3zM200.7 408.10h1.3v2.80h-1.3zM216.6 408.10h1.3v2.80h-1.3zM228.3 408.10h1.3v2.80h-1.3zM230.4 408.10h1.3v2.80h-1.3zM233.6 408.10h1.3v2.80h-1.3zM240.0 408.10h1.3v2.80h-1.3zM249.6 408.10h1.3v2.80h-1.3zM251.7 408.10h2.4v2.80h-2.4zM259.1 408.10h2.4v2.80h-2.4zM267.6 408.10h2.4v2.80h-2.4zM272.9 408.10h1.3v2.80h-1.3zM199.6 410.65h1.3v2.80h-1.3zM201.7 410.65h1.3v2.80h-1.3zM204.9 410.65h1.3v2.80h-1.3zM162.4 413.20h1.3v2.80h-1.3zM174.1 413.20h1.3v2.80h-1.3zM183.7 413.20h1.3v2.80h-1.3zM187.9 413.20h1.3v2.80h-1.3zM230.4 413.20h1.3v2.80h-1.3zM238.9 413.20h1.3v2.80h-1.3zM172.0 415.75h1.3v2.80h-1.3zM177.3 415.75h1.3v2.80h-1.3zM180.5 415.75h1.3v2.80h-1.3zM182.6 415.75h1.3v2.80h-1.3zM221.9 415.75h1.3v2.80h-1.3zM226.2 415.75h1.3v2.80h-1.3zM249.6 415.75h1.3v2.80h-1.3zM251.7 415.75h2.4v2.80h-2.4zM270.8 415.75h1.3v2.80h-1.3zM276.1 415.75h1.3v2.80h-1.3zM161.4 418.30h2.4v2.80h-2.4zM176.2 418.30h1.3v2.80h-1.3zM180.5 418.30h1.3v2.80h-1.3zM183.7 418.30h1.3v2.80h-1.3zM189.0 418.30h1.3v2.80h-1.3zM182.6 420.85h1.3v2.80h-1.3zM186.9 420.85h1.3v2.80h-1.3zM206.0 420.85h2.4v2.80h-2.4zM213.4 420.85h1.3v2.80h-1.3zM218.8 420.85h1.3v2.80h-1.3zM223.0 420.85h1.3v2.80h-1.3zM231.5 420.85h2.4v2.80h-2.4zM234.7 420.85h1.3v2.80h-1.3zM237.9 420.85h1.3v2.80h-1.3zM231.5 423.40h1.3v2.80h-1.3zM267.6 423.40h1.3v2.80h-1.3zM272.9 423.40h1.3v2.80h-1.3zM223.0 428.50h1.3v2.80h-1.3zM233.6 428.50h1.3v2.80h-1.3zM236.8 428.50h1.3v2.80h-1.3zM161.4 431.05h2.4v2.80h-2.4zM177.3 431.05h1.3v2.80h-1.3zM185.8 431.05h1.3v2.80h-1.3zM193.2 431.05h1.3v2.80h-1.3zM201.7 431.05h1.3v2.80h-1.3zM233.6 431.05h1.3v2.80h-1.3zM235.8 431.05h1.3v2.80h-1.3z" fill="#06a0cc"/>
<path d="M170.9 408.10h1.3v2.80h-1.3zM173.1 408.10h1.3v2.80h-1.3zM202.8 408.10h1.3v2.80h-1.3zM209.2 408.10h1.3v2.80h-1.3zM232.6 408.10h1.3v2.80h-1.3zM241.1 408.10h1.3v2.80h-1.3zM254.9 408.10h1.3v2.80h-1.3zM264.4 408.10h1.3v2.80h-1.3zM195.4 410.65h1.3v2.80h-1.3zM197.5 410.65h2.4v2.80h-2.4zM206.0 410.65h1.3v2.80h-1.3zM164.6 413.20h1.3v2.80h-1.3zM181.6 413.20h2.4v2.80h-2.4zM214.5 413.20h1.3v2.80h-1.3zM220.9 413.20h3.4v2.80h-3.4zM226.2 413.20h1.3v2.80h-1.3zM229.4 413.20h1.3v2.80h-1.3zM234.7 413.20h1.3v2.80h-1.3zM244.3 413.20h2.4v2.80h-2.4zM272.9 413.20h1.3v2.80h-1.3zM161.4 415.75h1.3v2.80h-1.3zM174.1 415.75h1.3v2.80h-1.3zM183.7 415.75h1.3v2.80h-1.3zM261.3 415.75h1.3v2.80h-1.3zM169.9 418.30h2.4v2.80h-2.4zM173.1 418.30h1.3v2.80h-1.3zM181.6 418.30h1.3v2.80h-1.3zM184.7 418.30h1.3v2.80h-1.3zM172.0 420.85h2.4v2.80h-2.4zM209.2 420.85h1.3v2.80h-1.3zM211.3 420.85h1.3v2.80h-1.3zM217.7 420.85h1.3v2.80h-1.3zM219.8 420.85h1.3v2.80h-1.3zM227.3 420.85h2.4v2.80h-2.4zM230.4 420.85h1.3v2.80h-1.3zM233.6 420.85h1.3v2.80h-1.3zM249.6 420.85h2.4v2.80h-2.4zM254.9 420.85h2.4v2.80h-2.4zM263.4 420.85h1.3v2.80h-1.3zM271.9 420.85h1.3v2.80h-1.3zM275.1 420.85h2.4v2.80h-2.4zM176.2 423.40h1.3v2.80h-1.3zM251.7 423.40h1.3v2.80h-1.3zM254.9 423.40h1.3v2.80h-1.3zM269.8 423.40h1.3v2.80h-1.3zM162.4 425.95h1.3v2.80h-1.3zM226.2 428.50h1.3v2.80h-1.3zM242.1 428.50h2.4v2.80h-2.4zM246.4 428.50h1.3v2.80h-1.3zM175.2 431.05h1.3v2.80h-1.3zM179.4 431.05h1.3v2.80h-1.3zM186.9 431.05h2.4v2.80h-2.4zM192.2 431.05h1.3v2.80h-1.3zM197.5 431.05h1.3v2.80h-1.3zM240.0 431.05h1.3v2.80h-1.3z" fill="#06a5c7"/>
<path d="M166.7 408.10h1.3v2.80h-1.3zM172.0 408.10h1.3v2.80h-1.3zM181.6 408.10h1.3v2.80h-1.3zM187.9 408.10h1.3v2.80h-1.3zM190.1 408.10h1.3v2.80h-1.3zM207.1 408.10h1.3v2.80h-1.3zM212.4 408.10h1.3v2.80h-1.3zM234.7 408.10h1.3v2.80h-1.3zM236.8 408.10h1.3v2.80h-1.3zM266.6 408.10h1.3v2.80h-1.3zM269.8 408.10h3.4v2.80h-3.4zM178.4 413.20h1.3v2.80h-1.3zM189.0 413.20h1.3v2.80h-1.3zM194.3 413.20h1.3v2.80h-1.3zM211.3 413.20h1.3v2.80h-1.3zM213.4 413.20h1.3v2.80h-1.3zM225.1 413.20h1.3v2.80h-1.3zM228.3 413.20h1.3v2.80h-1.3zM235.8 413.20h1.3v2.80h-1.3zM237.9 413.20h1.3v2.80h-1.3zM240.0 413.20h1.3v2.80h-1.3zM242.1 413.20h2.4v2.80h-2.4zM259.1 413.20h2.4v2.80h-2.4zM164.6 415.75h1.3v2.80h-1.3zM178.4 415.75h2.4v2.80h-2.4zM195.4 415.75h1.3v2.80h-1.3zM214.5 415.75h1.3v2.80h-1.3zM223.0 415.75h1.3v2.80h-1.3zM165.6 418.30h1.3v2.80h-1.3zM177.3 418.30h1.3v2.80h-1.3zM187.9 418.30h1.3v2.80h-1.3zM191.1 418.30h1.3v2.80h-1.3zM164.6 420.85h1.3v2.80h-1.3zM177.3 420.85h1.3v2.80h-1.3zM198.6 420.85h1.3v2.80h-1.3zM201.7 420.85h1.3v2.80h-1.3zM204.9 420.85h1.3v2.80h-1.3zM210.2 420.85h1.3v2.80h-1.3zM229.4 420.85h1.3v2.80h-1.3zM246.4 420.85h1.3v2.80h-1.3zM248.5 420.85h1.3v2.80h-1.3zM258.1 420.85h3.4v2.80h-3.4zM266.6 420.85h1.3v2.80h-1.3zM268.7 420.85h1.3v2.80h-1.3zM272.9 420.85h1.3v2.80h-1.3zM168.8 423.40h1.3v2.80h-1.3zM170.9 423.40h1.3v2.80h-1.3zM175.2 423.40h1.3v2.80h-1.3zM177.3 423.40h1.3v2.80h-1.3zM221.9 423.40h1.3v2.80h-1.3zM228.3 423.40h1.3v2.80h-1.3zM230.4 423.40h1.3v2.80h-1.3zM234.7 423.40h1.3v2.80h-1.3zM258.1 423.40h1.3v2.80h-1.3zM264.4 423.40h2.4v2.80h-2.4zM268.7 423.40h1.3v2.80h-1.3zM167.7 425.95h1.3v2.80h-1.3zM230.4 425.95h1.3v2.80h-1.3zM214.5 428.50h1.3v2.80h-1.3zM228.3 428.50h1.3v2.80h-1.3zM231.5 428.50h2.4v2.80h-2.4zM241.1 428.50h1.3v2.80h-1.3zM164.6 431.05h1.3v2.80h-1.3zM170.9 431.05h1.3v2.80h-1.3zM194.3 431.05h2.4v2.80h-2.4zM198.6 431.05h2.4v2.80h-2.4zM202.8 431.05h1.3v2.80h-1.3zM206.0 431.05h1.3v2.80h-1.3z" fill="#0aaac1"/>
<path d="M168.8 408.10h1.3v2.80h-1.3zM182.6 408.10h2.4v2.80h-2.4zM191.1 408.10h1.3v2.80h-1.3zM195.4 408.10h1.3v2.80h-1.3zM210.2 408.10h1.3v2.80h-1.3zM214.5 408.10h1.3v2.80h-1.3zM219.8 408.10h1.3v2.80h-1.3zM223.0 408.10h1.3v2.80h-1.3zM225.1 408.10h1.3v2.80h-1.3zM243.2 408.10h1.3v2.80h-1.3zM245.3 408.10h1.3v2.80h-1.3zM257.0 408.10h1.3v2.80h-1.3zM275.1 408.10h2.4v2.80h-2.4zM200.7 410.65h1.3v2.80h-1.3zM203.9 410.65h1.3v2.80h-1.3zM165.6 413.20h3.4v2.80h-3.4zM179.4 413.20h1.3v2.80h-1.3zM210.2 413.20h1.3v2.80h-1.3zM215.6 413.20h1.3v2.80h-1.3zM217.7 413.20h1.3v2.80h-1.3zM219.8 413.20h1.3v2.80h-1.3zM224.1 413.20h1.3v2.80h-1.3zM233.6 413.20h1.3v2.80h-1.3zM250.6 413.20h1.3v2.80h-1.3zM163.5 415.75h1.3v2.80h-1.3zM165.6 415.75h1.3v2.80h-1.3zM196.4 415.75h1.3v2.80h-1.3zM166.7 418.30h3.4v2.80h-3.4zM174.1 418.30h2.4v2.80h-2.4zM178.4 418.30h2.4v2.80h-2.4zM192.2 418.30h1.3v2.80h-1.3zM163.5 420.85h1.3v2.80h-1.3zM166.7 420.85h1.3v2.80h-1.3zM174.1 420.85h1.3v2.80h-1.3zM197.5 420.85h1.3v2.80h-1.3zM199.6 420.85h1.3v2.80h-1.3zM202.8 420.85h2.4v2.80h-2.4zM212.4 420.85h1.3v2.80h-1.3zM214.5 420.85h1.3v2.80h-1.3zM262.3 420.85h1.3v2.80h-1.3zM265.5 420.85h1.3v2.80h-1.3zM162.4 423.40h2.4v2.80h-2.4zM172.0 423.40h2.4v2.80h-2.4zM223.0 423.40h1.3v2.80h-1.3zM227.3 423.40h1.3v2.80h-1.3zM253.8 423.40h1.3v2.80h-1.3zM257.0 423.40h1.3v2.80h-1.3zM260.2 423.40h1.3v2.80h-1.3zM263.4 423.40h1.3v2.80h-1.3zM270.8 423.40h1.3v2.80h-1.3zM160.3 425.95h2.4v2.80h-2.4zM231.5 425.95h1.3v2.80h-1.3zM176.2 428.50h1.3v2.80h-1.3zM217.7 428.50h2.4v2.80h-2.4zM221.9 428.50h1.3v2.80h-1.3zM224.1 428.50h1.3v2.80h-1.3zM230.4 428.50h1.3v2.80h-1.3zM166.7 431.05h1.3v2.80h-1.3zM181.6 431.05h4.5v2.80h-4.5zM200.7 431.05h1.3v2.80h-1.3z" fill="#0eaeba"/>
<path d="M165.6 408.10h1.3v2.80h-1.3zM184.7 408.10h1.3v2.80h-1.3zM186.9 408.10h1.3v2.80h-1.3zM189.0 408.10h1.3v2.80h-1.3zM194.3 408.10h1.3v2.80h-1.3zM213.4 408.10h1.3v2.80h-1.3zM246.4 408.10h1.3v2.80h-1.3zM160.3 413.20h2.4v2.80h-2.4zM168.8 413.20h1.3v2.80h-1.3zM176.2 413.20h2.4v2.80h-2.4zM180.5 413.20h1.3v2.80h-1.3zM185.8 413.20h1.3v2.80h-1.3zM191.1 413.20h1.3v2.80h-1.3zM218.8 413.20h1.3v2.80h-1.3zM236.8 413.20h1.3v2.80h-1.3zM241.1 413.20h1.3v2.80h-1.3zM252.8 413.20h1.3v2.80h-1.3zM175.2 415.75h1.3v2.80h-1.3zM213.4 415.75h1.3v2.80h-1.3zM217.7 415.75h1.3v2.80h-1.3zM162.4 420.85h1.3v2.80h-1.3zM165.6 420.85h1.3v2.80h-1.3zM176.2 420.85h1.3v2.80h-1.3zM180.5 420.85h1.3v2.80h-1.3zM196.4 420.85h1.3v2.80h-1.3zM245.3 420.85h1.3v2.80h-1.3zM247.4 420.85h1.3v2.80h-1.3zM267.6 420.85h1.3v2.80h-1.3zM161.4 423.40h1.3v2.80h-1.3zM167.7 423.40h1.3v2.80h-1.3zM178.4 423.40h1.3v2.80h-1.3zM201.7 423.40h1.3v2.80h-1.3zM213.4 423.40h1.3v2.80h-1.3zM220.9 423.40h1.3v2.80h-1.3zM238.9 423.40h1.3v2.80h-1.3zM244.3 423.40h2.4v2.80h-2.4zM248.5 423.40h1.3v2.80h-1.3zM252.8 423.40h1.3v2.80h-1.3zM255.9 423.40h1.3v2.80h-1.3zM259.1 423.40h1.3v2.80h-1.3zM261.3 423.40h2.4v2.80h-2.4zM271.9 423.40h1.3v2.80h-1.3zM274.0 423.40h1.3v2.80h-1.3zM164.6 425.95h1.3v2.80h-1.3zM235.8 425.95h1.3v2.80h-1.3zM240.0 425.95h1.3v2.80h-1.3zM180.5 428.50h1.3v2.80h-1.3zM183.7 428.50h1.3v2.80h-1.3zM204.9 428.50h3.4v2.80h-3.4zM215.6 428.50h1.3v2.80h-1.3zM220.9 428.50h1.3v2.80h-1.3zM225.1 428.50h1.3v2.80h-1.3zM240.0 428.50h1.3v2.80h-1.3zM163.5 431.05h1.3v2.80h-1.3zM165.6 431.05h1.3v2.80h-1.3zM168.8 431.05h1.3v2.80h-1.3zM172.0 431.05h2.4v2.80h-2.4zM203.9 431.05h2.4v2.80h-2.4z" fill="#19b1b2"/>
<path d="M163.5 408.10h2.4v2.80h-2.4zM169.9 408.10h1.3v2.80h-1.3zM175.2 408.10h1.3v2.80h-1.3zM185.8 408.10h1.3v2.80h-1.3zM199.6 408.10h1.3v2.80h-1.3zM201.7 408.10h1.3v2.80h-1.3zM218.8 408.10h1.3v2.80h-1.3zM226.2 408.10h2.4v2.80h-2.4zM253.8 408.10h1.3v2.80h-1.3zM255.9 408.10h1.3v2.80h-1.3zM169.9 413.20h2.4v2.80h-2.4zM173.1 413.20h1.3v2.80h-1.3zM195.4 413.20h1.3v2.80h-1.3zM208.1 413.20h1.3v2.80h-1.3zM251.7 413.20h1.3v2.80h-1.3zM181.6 415.75h1.3v2.80h-1.3zM184.7 415.75h1.3v2.80h-1.3zM215.6 415.75h1.3v2.80h-1.3zM172.0 418.30h1.3v2.80h-1.3zM160.3 420.85h1.3v2.80h-1.3zM187.9 420.85h1.3v2.80h-1.3zM190.1 420.85h1.3v2.80h-1.3zM215.6 420.85h1.3v2.80h-1.3zM240.0 420.85h5.6v2.80h-5.6zM264.4 420.85h1.3v2.80h-1.3zM274.0 420.85h1.3v2.80h-1.3zM160.3 423.40h1.3v2.80h-1.3zM164.6 423.40h1.3v2.80h-1.3zM169.9 423.40h1.3v2.80h-1.3zM190.1 423.40h1.3v2.80h-1.3zM197.5 423.40h1.3v2.80h-1.3zM199.6 423.40h1.3v2.80h-1.3zM217.7 423.40h1.3v2.80h-1.3zM219.8 423.40h1.3v2.80h-1.3zM224.1 423.40h2.4v2.80h-2.4zM236.8 423.40h2.4v2.80h-2.4zM242.1 423.40h1.3v2.80h-1.3zM249.6 423.40h2.4v2.80h-2.4zM238.9 425.95h1.3v2.80h-1.3zM177.3 428.50h1.3v2.80h-1.3zM202.8 428.50h1.3v2.80h-1.3zM210.2 428.50h1.3v2.80h-1.3zM245.3 428.50h1.3v2.80h-1.3zM167.7 431.05h1.3v2.80h-1.3zM169.9 431.05h1.3v2.80h-1.3zM174.1 431.05h1.3v2.80h-1.3zM190.1 431.05h2.4v2.80h-2.4z" fill="#25b5aa"/>
<path d="M174.1 408.10h1.3v2.80h-1.3zM179.4 408.10h1.3v2.80h-1.3zM193.2 408.10h1.3v2.80h-1.3zM198.6 408.10h1.3v2.80h-1.3zM217.7 408.10h1.3v2.80h-1.3zM224.1 408.10h1.3v2.80h-1.3zM207.1 413.20h1.3v2.80h-1.3zM216.6 413.20h1.3v2.80h-1.3zM197.5 415.75h1.3v2.80h-1.3zM161.4 420.85h1.3v2.80h-1.3zM178.4 420.85h2.4v2.80h-2.4zM184.7 420.85h2.4v2.80h-2.4zM189.0 420.85h1.3v2.80h-1.3zM238.9 420.85h1.3v2.80h-1.3zM165.6 423.40h1.3v2.80h-1.3zM180.5 423.40h3.4v2.80h-3.4zM186.9 423.40h1.3v2.80h-1.3zM198.6 423.40h1.3v2.80h-1.3zM200.7 423.40h1.3v2.80h-1.3zM215.6 423.40h1.3v2.80h-1.3zM218.8 423.40h1.3v2.80h-1.3zM235.8 423.40h1.3v2.80h-1.3zM240.0 423.40h2.4v2.80h-2.4zM246.4 423.40h2.4v2.80h-2.4zM275.1 423.40h2.4v2.80h-2.4zM163.5 425.95h1.3v2.80h-1.3zM232.6 425.95h2.4v2.80h-2.4zM243.2 425.95h1.3v2.80h-1.3zM178.4 428.50h1.3v2.80h-1.3zM181.6 428.50h1.3v2.80h-1.3zM201.7 428.50h1.3v2.80h-1.3zM211.3 428.50h1.3v2.80h-1.3zM216.6 428.50h1.3v2.80h-1.3zM244.3 428.50h1.3v2.80h-1.3zM180.5 431.05h1.3v2.80h-1.3z" fill="#33b8a1"/>
<path d="M176.2 408.10h2.4v2.80h-2.4zM197.5 408.10h1.3v2.80h-1.3zM204.9 408.10h1.3v2.80h-1.3zM190.1 413.20h1.3v2.80h-1.3zM209.2 413.20h1.3v2.80h-1.3zM175.2 420.85h1.3v2.80h-1.3zM181.6 420.85h1.3v2.80h-1.3zM216.6 420.85h1.3v2.80h-1.3zM166.7 423.40h1.3v2.80h-1.3zM179.4 423.40h1.3v2.80h-1.3zM193.2 423.40h1.3v2.80h-1.3zM195.4 423.40h2.4v2.80h-2.4zM203.9 423.40h1.3v2.80h-1.3zM211.3 423.40h1.3v2.80h-1.3zM226.2 423.40h1.3v2.80h-1.3zM229.4 423.40h1.3v2.80h-1.3zM166.7 425.95h1.3v2.80h-1.3zM220.9 425.95h1.3v2.80h-1.3zM236.8 425.95h2.4v2.80h-2.4zM244.3 425.95h1.3v2.80h-1.3zM179.4 428.50h1.3v2.80h-1.3zM182.6 428.50h1.3v2.80h-1.3zM187.9 428.50h2.4v2.80h-2.4zM209.2 428.50h1.3v2.80h-1.3zM213.4 428.50h1.3v2.80h-1.3zM235.8 428.50h1.3v2.80h-1.3z" fill="#43bb97"/>
<path d="M196.4 408.10h1.3v2.80h-1.3zM203.9 408.10h1.3v2.80h-1.3zM172.0 413.20h1.3v2.80h-1.3zM184.7 423.40h2.4v2.80h-2.4zM191.1 423.40h2.4v2.80h-2.4zM194.3 423.40h1.3v2.80h-1.3zM212.4 423.40h1.3v2.80h-1.3zM214.5 423.40h1.3v2.80h-1.3zM195.4 425.95h1.3v2.80h-1.3zM234.7 425.95h1.3v2.80h-1.3zM186.9 428.50h1.3v2.80h-1.3zM195.4 428.50h1.3v2.80h-1.3zM203.9 428.50h1.3v2.80h-1.3zM208.1 428.50h1.3v2.80h-1.3z" fill="#55bd8e"/>
<path d="M196.4 413.20h1.3v2.80h-1.3zM198.6 413.20h1.3v2.80h-1.3zM200.7 413.20h1.3v2.80h-1.3zM206.0 413.20h1.3v2.80h-1.3zM183.7 423.40h1.3v2.80h-1.3zM202.8 423.40h1.3v2.80h-1.3zM206.0 423.40h1.3v2.80h-1.3zM216.6 423.40h1.3v2.80h-1.3zM243.2 423.40h1.3v2.80h-1.3zM165.6 425.95h1.3v2.80h-1.3zM207.1 425.95h1.3v2.80h-1.3zM229.4 425.95h1.3v2.80h-1.3zM241.1 425.95h2.4v2.80h-2.4zM172.0 428.50h2.4v2.80h-2.4zM191.1 428.50h1.3v2.80h-1.3zM196.4 428.50h1.3v2.80h-1.3zM212.4 428.50h1.3v2.80h-1.3z" fill="#67be85"/>
<path d="M197.5 413.20h1.3v2.80h-1.3zM199.6 413.20h1.3v2.80h-1.3zM203.9 413.20h2.4v2.80h-2.4zM183.7 420.85h1.3v2.80h-1.3zM189.0 423.40h1.3v2.80h-1.3zM208.1 425.95h1.3v2.80h-1.3zM174.1 428.50h2.4v2.80h-2.4zM190.1 428.50h1.3v2.80h-1.3zM199.6 428.50h2.4v2.80h-2.4z" fill="#79bf7d"/>
<path d="M194.3 420.85h2.4v2.80h-2.4zM208.1 423.40h3.4v2.80h-3.4zM184.7 428.50h2.4v2.80h-2.4zM193.2 428.50h2.4v2.80h-2.4z" fill="#8bbf75"/>
<path d="M209.2 415.75h1.3v2.80h-1.3zM187.9 423.40h1.3v2.80h-1.3zM204.9 423.40h1.3v2.80h-1.3zM207.1 423.40h1.3v2.80h-1.3zM203.9 425.95h1.3v2.80h-1.3zM223.0 425.95h1.3v2.80h-1.3zM167.7 428.50h1.3v2.80h-1.3zM192.2 428.50h1.3v2.80h-1.3zM197.5 428.50h1.3v2.80h-1.3z" fill="#9bbe6f"/>
<path d="M202.8 413.20h1.3v2.80h-1.3zM210.2 415.75h1.3v2.80h-1.3zM202.8 425.95h1.3v2.80h-1.3zM204.9 425.95h1.3v2.80h-1.3zM221.9 425.95h1.3v2.80h-1.3zM198.6 428.50h1.3v2.80h-1.3z" fill="#aabe69"/>
<path d="M201.7 413.20h1.3v2.80h-1.3zM199.6 415.75h1.3v2.80h-1.3zM197.5 425.95h1.3v2.80h-1.3zM169.9 428.50h2.4v2.80h-2.4z" fill="#b8bd63"/>
<path d="M198.6 415.75h1.3v2.80h-1.3zM202.8 415.75h3.4v2.80h-3.4zM193.2 420.85h1.3v2.80h-1.3zM196.4 425.95h1.3v2.80h-1.3zM201.7 425.95h1.3v2.80h-1.3zM206.0 425.95h1.3v2.80h-1.3z" fill="#c6bc5e"/>
<path d="M201.7 415.75h1.3v2.80h-1.3zM207.1 415.75h1.3v2.80h-1.3zM199.6 425.95h2.4v2.80h-2.4zM219.8 425.95h1.3v2.80h-1.3zM228.3 425.95h1.3v2.80h-1.3z" fill="#d3bb58"/>
<path d="M206.0 415.75h1.3v2.80h-1.3zM208.1 415.75h1.3v2.80h-1.3zM191.1 420.85h1.3v2.80h-1.3zM169.9 425.95h1.3v2.80h-1.3z" fill="#e0ba52"/>
<path d="M190.1 415.75h1.3v2.80h-1.3zM194.3 415.75h1.3v2.80h-1.3zM200.7 415.75h1.3v2.80h-1.3zM192.2 420.85h1.3v2.80h-1.3zM194.3 425.95h1.3v2.80h-1.3zM226.2 425.95h2.4v2.80h-2.4zM168.8 428.50h1.3v2.80h-1.3z" fill="#ecb94c"/>
<path d="M168.8 425.95h1.3v2.80h-1.3zM192.2 425.95h1.3v2.80h-1.3zM198.6 425.95h1.3v2.80h-1.3zM209.2 425.95h1.3v2.80h-1.3zM225.1 425.95h1.3v2.80h-1.3zM166.7 428.50h1.3v2.80h-1.3z" fill="#f5bc44"/>
<path d="M185.8 415.75h1.3v2.80h-1.3zM172.0 425.95h1.3v2.80h-1.3zM187.9 425.95h1.3v2.80h-1.3zM190.1 425.95h1.3v2.80h-1.3zM193.2 425.95h1.3v2.80h-1.3zM160.3 428.50h1.3v2.80h-1.3z" fill="#fdc23a"/>
<path d="M193.2 415.75h1.3v2.80h-1.3zM244.3 415.75h1.3v2.80h-1.3zM170.9 425.95h1.3v2.80h-1.3zM173.1 425.95h2.4v2.80h-2.4zM189.0 425.95h1.3v2.80h-1.3zM218.8 425.95h1.3v2.80h-1.3zM224.1 425.95h1.3v2.80h-1.3zM245.3 425.95h1.3v2.80h-1.3zM264.4 425.95h1.3v2.80h-1.3z" fill="#fdc932"/>
<path d="M237.9 415.75h1.3v2.80h-1.3zM242.1 415.75h1.3v2.80h-1.3zM177.3 425.95h1.3v2.80h-1.3zM191.1 425.95h1.3v2.80h-1.3zM210.2 425.95h1.3v2.80h-1.3zM212.4 425.95h1.3v2.80h-1.3zM246.4 425.95h1.3v2.80h-1.3zM251.7 425.95h1.3v2.80h-1.3zM257.0 425.95h1.3v2.80h-1.3zM268.7 425.95h1.3v2.80h-1.3zM162.4 428.50h1.3v2.80h-1.3z" fill="#fad12b"/>
<path d="M191.1 415.75h2.4v2.80h-2.4zM238.9 415.75h1.3v2.80h-1.3zM175.2 425.95h1.3v2.80h-1.3zM182.6 425.95h1.3v2.80h-1.3zM186.9 425.95h1.3v2.80h-1.3zM249.6 425.95h1.3v2.80h-1.3zM252.8 425.95h1.3v2.80h-1.3zM255.9 425.95h1.3v2.80h-1.3zM263.4 425.95h1.3v2.80h-1.3zM265.5 425.95h1.3v2.80h-1.3zM270.8 425.95h2.4v2.80h-2.4zM274.0 425.95h2.4v2.80h-2.4z" fill="#f7da24"/>
<path d="M189.0 415.75h1.3v2.80h-1.3zM241.1 415.75h1.3v2.80h-1.3zM176.2 425.95h1.3v2.80h-1.3zM215.6 425.95h1.3v2.80h-1.3zM247.4 425.95h1.3v2.80h-1.3zM258.1 425.95h1.3v2.80h-1.3zM266.6 425.95h2.4v2.80h-2.4zM272.9 425.95h1.3v2.80h-1.3zM276.1 425.95h1.3v2.80h-1.3zM161.4 428.50h1.3v2.80h-1.3zM163.5 428.50h3.4v2.80h-3.4z" fill="#f5e31e"/>
<path d="M186.9 415.75h2.4v2.80h-2.4zM243.2 415.75h1.3v2.80h-1.3zM178.4 425.95h1.3v2.80h-1.3zM180.5 425.95h2.4v2.80h-2.4zM183.7 425.95h2.4v2.80h-2.4zM254.9 425.95h1.3v2.80h-1.3zM260.2 425.95h1.3v2.80h-1.3zM269.8 425.95h1.3v2.80h-1.3z" fill="#f7ef16"/>
<path d="M240.0 415.75h1.3v2.80h-1.3zM179.4 425.95h1.3v2.80h-1.3zM185.8 425.95h1.3v2.80h-1.3zM211.3 425.95h1.3v2.80h-1.3zM213.4 425.95h2.4v2.80h-2.4zM216.6 425.95h2.4v2.80h-2.4zM248.5 425.95h1.3v2.80h-1.3zM250.6 425.95h1.3v2.80h-1.3zM253.8 425.95h1.3v2.80h-1.3zM259.1 425.95h1.3v2.80h-1.3zM261.3 425.95h2.4v2.80h-2.4z" fill="#f9fb0e"/>
</g>
<line x1="160.30" y1="433.60" x2="277.20" y2="433.60" stroke="#333" stroke-width="1"/>
<line x1="160.30" y1="433.60" x2="160.30" y2="431.10" stroke="#333" stroke-width="0.8"/>
<line x1="201.20" y1="433.60" x2="201.20" y2="431.10" stroke="#333" stroke-width="0.8"/>
<line x1="240.20" y1="433.60" x2="240.20" y2="431.10" stroke="#333" stroke-width="0.8"/>
<line x1="276.80" y1="433.60" x2="276.80" y2="431.10" stroke="#333" stroke-width="0.8"/>
<line x1="160.30" y1="409.50" x2="162.80" y2="409.50" stroke="#333" stroke-width="0.8"/>
<g shape-rendering="crispEdges">
<path d="M332.7 410.78h1.3v3.03h-1.3zM341.3 410.78h1.3v3.03h-1.3zM312.5 413.56h1.3v3.03h-1.3zM314.7 413.56h1.3v3.03h-1.3zM316.8 413.56h1.3v3.03h-1.3zM320.0 413.56h1.3v3.03h-1.3zM324.2 413.56h1.3v3.03h-1.3zM331.7 413.56h2.4v3.03h-2.4zM341.3 413.56h1.3v3.03h-1.3zM344.5 413.56h1.3v3.03h-1.3zM348.7 413.56h5.6v3.03h-5.6zM355.1 413.56h1.3v3.03h-1.3zM403.0 413.56h1.3v3.03h-1.3zM310.4 416.34h1.3v3.03h-1.3zM312.5 416.34h1.3v3.03h-1.3zM337.0 416.34h1.3v3.03h-1.3zM343.4 416.34h1.3v3.03h-1.3zM407.3 416.34h1.3v3.03h-1.3zM312.5 435.81h1.3v3.03h-1.3zM317.8 435.81h1.3v3.03h-1.3z" fill="#352a87"/>
<path d="M315.7 410.78h1.3v3.03h-1.3zM320.0 410.78h1.3v3.03h-1.3zM328.5 410.78h1.3v3.03h-1.3zM339.1 410.78h1.3v3.03h-1.3zM404.1 410.78h2.4v3.03h-2.4zM318.9 413.56h1.3v3.03h-1.3zM326.4 413.56h1.3v3.03h-1.3zM347.7 413.56h1.3v3.03h-1.3zM357.2 413.56h1.3v3.03h-1.3zM376.4 413.56h1.3v3.03h-1.3zM400.9 413.56h2.4v3.03h-2.4zM421.1 413.56h2.4v3.03h-2.4zM311.5 416.34h1.3v3.03h-1.3zM313.6 416.34h2.4v3.03h-2.4zM332.7 416.34h2.4v3.03h-2.4zM345.5 416.34h1.3v3.03h-1.3zM359.4 416.34h1.3v3.03h-1.3zM401.9 416.34h1.3v3.03h-1.3zM405.1 416.34h2.4v3.03h-2.4zM323.2 427.47h1.3v3.03h-1.3zM327.4 427.47h1.3v3.03h-1.3zM314.7 430.25h1.3v3.03h-1.3zM329.6 430.25h1.3v3.03h-1.3zM332.7 430.25h1.3v3.03h-1.3zM338.1 430.25h1.3v3.03h-1.3z" fill="#35349b"/>
<path d="M311.5 410.78h1.3v3.03h-1.3zM314.7 410.78h1.3v3.03h-1.3zM316.8 410.78h2.4v3.03h-2.4zM330.6 410.78h1.3v3.03h-1.3zM333.8 410.78h2.4v3.03h-2.4zM338.1 410.78h1.3v3.03h-1.3zM340.2 410.78h1.3v3.03h-1.3zM348.7 410.78h1.3v3.03h-1.3zM354.0 410.78h1.3v3.03h-1.3zM376.4 410.78h1.3v3.03h-1.3zM403.0 410.78h1.3v3.03h-1.3zM307.2 413.56h1.3v3.03h-1.3zM311.5 413.56h1.3v3.03h-1.3zM317.8 413.56h1.3v3.03h-1.3zM328.5 413.56h1.3v3.03h-1.3zM334.9 413.56h1.3v3.03h-1.3zM340.2 413.56h1.3v3.03h-1.3zM346.6 413.56h1.3v3.03h-1.3zM359.4 413.56h1.3v3.03h-1.3zM367.9 413.56h1.3v3.03h-1.3zM371.1 413.56h2.4v3.03h-2.4zM389.2 413.56h1.3v3.03h-1.3zM396.6 413.56h1.3v3.03h-1.3zM405.1 413.56h1.3v3.03h-1.3zM411.5 413.56h2.4v3.03h-2.4zM423.2 413.56h1.3v3.03h-1.3zM307.2 416.34h2.4v3.03h-2.4zM324.2 416.34h2.4v3.03h-2.4zM329.6 416.34h2.4v3.03h-2.4zM344.5 416.34h1.3v3.03h-1.3zM346.6 416.34h1.3v3.03h-1.3zM353.0 416.34h1.3v3.03h-1.3zM360.4 416.34h1.3v3.03h-1.3zM363.6 416.34h1.3v3.03h-1.3zM399.8 416.34h1.3v3.03h-1.3zM416.8 416.34h1.3v3.03h-1.3zM422.2 416.34h1.3v3.03h-1.3zM308.3 427.47h1.3v3.03h-1.3zM307.2 430.25h1.3v3.03h-1.3zM310.4 430.25h3.4v3.03h-3.4zM328.5 430.25h1.3v3.03h-1.3zM308.3 435.81h2.4v3.03h-2.4zM315.7 435.81h2.4v3.03h-2.4z" fill="#343eaf"/>
<path d="M312.5 410.78h2.4v3.03h-2.4zM329.6 410.78h1.3v3.03h-1.3zM331.7 410.78h1.3v3.03h-1.3zM342.3 410.78h2.4v3.03h-2.4zM345.5 410.78h1.3v3.03h-1.3zM347.7 410.78h1.3v3.03h-1.3zM349.8 410.78h1.3v3.03h-1.3zM371.1 410.78h1.3v3.03h-1.3zM378.5 410.78h1.3v3.03h-1.3zM423.2 410.78h1.3v3.03h-1.3zM329.6 413.56h2.4v3.03h-2.4zM333.8 413.56h1.3v3.03h-1.3zM335.9 413.56h2.4v3.03h-2.4zM339.1 413.56h1.3v3.03h-1.3zM354.0 413.56h1.3v3.03h-1.3zM368.9 413.56h1.3v3.03h-1.3zM374.3 413.56h1.3v3.03h-1.3zM378.5 413.56h2.4v3.03h-2.4zM381.7 413.56h1.3v3.03h-1.3zM393.4 413.56h2.4v3.03h-2.4zM399.8 413.56h1.3v3.03h-1.3zM404.1 413.56h1.3v3.03h-1.3zM406.2 413.56h1.3v3.03h-1.3zM408.3 413.56h1.3v3.03h-1.3zM410.5 413.56h1.3v3.03h-1.3zM415.8 413.56h1.3v3.03h-1.3zM417.9 413.56h1.3v3.03h-1.3zM420.0 413.56h1.3v3.03h-1.3zM309.3 416.34h1.3v3.03h-1.3zM316.8 416.34h1.3v3.03h-1.3zM321.0 416.34h1.3v3.03h-1.3zM327.4 416.34h2.4v3.03h-2.4zM331.7 416.34h1.3v3.03h-1.3zM335.9 416.34h1.3v3.03h-1.3zM338.1 416.34h1.3v3.03h-1.3zM340.2 416.34h3.4v3.03h-3.4zM347.7 416.34h4.5v3.03h-4.5zM354.0 416.34h1.3v3.03h-1.3zM367.9 416.34h1.3v3.03h-1.3zM398.8 416.34h1.3v3.03h-1.3zM408.3 416.34h1.3v3.03h-1.3zM412.6 416.34h2.4v3.03h-2.4zM312.5 427.47h1.3v3.03h-1.3zM314.7 427.47h1.3v3.03h-1.3zM317.8 427.47h1.3v3.03h-1.3zM320.0 427.47h1.3v3.03h-1.3zM325.3 427.47h1.3v3.03h-1.3zM328.5 427.47h1.3v3.03h-1.3zM309.3 430.25h1.3v3.03h-1.3zM313.6 430.25h1.3v3.03h-1.3zM316.8 430.25h3.4v3.03h-3.4zM321.0 430.25h1.3v3.03h-1.3zM325.3 430.25h1.3v3.03h-1.3zM327.4 430.25h1.3v3.03h-1.3zM330.6 430.25h2.4v3.03h-2.4zM335.9 430.25h1.3v3.03h-1.3zM311.5 435.81h1.3v3.03h-1.3z" fill="#2949c3"/>
<path d="M307.2 410.78h3.4v3.03h-3.4zM321.0 410.78h1.3v3.03h-1.3zM323.2 410.78h3.4v3.03h-3.4zM327.4 410.78h1.3v3.03h-1.3zM335.9 410.78h1.3v3.03h-1.3zM355.1 410.78h1.3v3.03h-1.3zM361.5 410.78h1.3v3.03h-1.3zM370.0 410.78h1.3v3.03h-1.3zM379.6 410.78h1.3v3.03h-1.3zM391.3 410.78h1.3v3.03h-1.3zM401.9 410.78h1.3v3.03h-1.3zM410.5 410.78h1.3v3.03h-1.3zM419.0 410.78h1.3v3.03h-1.3zM309.3 413.56h1.3v3.03h-1.3zM313.6 413.56h1.3v3.03h-1.3zM315.7 413.56h1.3v3.03h-1.3zM321.0 413.56h3.4v3.03h-3.4zM327.4 413.56h1.3v3.03h-1.3zM338.1 413.56h1.3v3.03h-1.3zM345.5 413.56h1.3v3.03h-1.3zM356.2 413.56h1.3v3.03h-1.3zM358.3 413.56h1.3v3.03h-1.3zM360.4 413.56h1.3v3.03h-1.3zM362.6 413.56h1.3v3.03h-1.3zM364.7 413.56h1.3v3.03h-1.3zM366.8 413.56h1.3v3.03h-1.3zM373.2 413.56h1.3v3.03h-1.3zM383.8 413.56h2.4v3.03h-2.4zM388.1 413.56h1.3v3.03h-1.3zM395.6 413.56h1.3v3.03h-1.3zM409.4 413.56h1.3v3.03h-1.3zM414.7 413.56h1.3v3.03h-1.3zM416.8 413.56h1.3v3.03h-1.3zM419.0 413.56h1.3v3.03h-1.3zM315.7 416.34h1.3v3.03h-1.3zM317.8 416.34h2.4v3.03h-2.4zM351.9 416.34h1.3v3.03h-1.3zM357.2 416.34h2.4v3.03h-2.4zM361.5 416.34h2.4v3.03h-2.4zM382.8 416.34h1.3v3.03h-1.3zM389.2 416.34h2.4v3.03h-2.4zM397.7 416.34h1.3v3.03h-1.3zM400.9 416.34h1.3v3.03h-1.3zM403.0 416.34h1.3v3.03h-1.3zM417.9 416.34h1.3v3.03h-1.3zM423.2 416.34h1.3v3.03h-1.3zM310.4 427.47h1.3v3.03h-1.3zM313.6 427.47h1.3v3.03h-1.3zM315.7 427.47h1.3v3.03h-1.3zM321.0 427.47h1.3v3.03h-1.3zM326.4 427.47h1.3v3.03h-1.3zM329.6 427.47h1.3v3.03h-1.3zM308.3 430.25h1.3v3.03h-1.3zM320.0 430.25h1.3v3.03h-1.3zM322.1 430.25h1.3v3.03h-1.3zM326.4 430.25h1.3v3.03h-1.3zM333.8 430.25h2.4v3.03h-2.4zM337.0 433.03h1.3v3.03h-1.3zM310.4 435.81h1.3v3.03h-1.3zM313.6 435.81h1.3v3.03h-1.3z" fill="#1d55d5"/>
<path d="M310.4 410.78h1.3v3.03h-1.3zM318.9 410.78h1.3v3.03h-1.3zM322.1 410.78h1.3v3.03h-1.3zM326.4 410.78h1.3v3.03h-1.3zM337.0 410.78h1.3v3.03h-1.3zM344.5 410.78h1.3v3.03h-1.3zM346.6 410.78h1.3v3.03h-1.3zM356.2 410.78h1.3v3.03h-1.3zM359.4 410.78h1.3v3.03h-1.3zM367.9 410.78h1.3v3.03h-1.3zM372.1 410.78h1.3v3.03h-1.3zM374.3 410.78h1.3v3.03h-1.3zM377.5 410.78h1.3v3.03h-1.3zM390.2 410.78h1.3v3.03h-1.3zM407.3 410.78h1.3v3.03h-1.3zM411.5 410.78h1.3v3.03h-1.3zM413.7 410.78h1.3v3.03h-1.3zM417.9 410.78h1.3v3.03h-1.3zM420.0 410.78h1.3v3.03h-1.3zM422.2 410.78h1.3v3.03h-1.3zM308.3 413.56h1.3v3.03h-1.3zM310.4 413.56h1.3v3.03h-1.3zM325.3 413.56h1.3v3.03h-1.3zM342.3 413.56h2.4v3.03h-2.4zM361.5 413.56h1.3v3.03h-1.3zM363.6 413.56h1.3v3.03h-1.3zM377.5 413.56h1.3v3.03h-1.3zM387.0 413.56h1.3v3.03h-1.3zM390.2 413.56h1.3v3.03h-1.3zM392.4 413.56h1.3v3.03h-1.3zM397.7 413.56h2.4v3.03h-2.4zM407.3 413.56h1.3v3.03h-1.3zM413.7 413.56h1.3v3.03h-1.3zM320.0 416.34h1.3v3.03h-1.3zM326.4 416.34h1.3v3.03h-1.3zM334.9 416.34h1.3v3.03h-1.3zM356.2 416.34h1.3v3.03h-1.3zM377.5 416.34h1.3v3.03h-1.3zM380.7 416.34h1.3v3.03h-1.3zM394.5 416.34h1.3v3.03h-1.3zM396.6 416.34h1.3v3.03h-1.3zM409.4 416.34h1.3v3.03h-1.3zM414.7 416.34h2.4v3.03h-2.4zM421.1 416.34h1.3v3.03h-1.3zM307.2 427.47h1.3v3.03h-1.3zM316.8 427.47h1.3v3.03h-1.3zM318.9 427.47h1.3v3.03h-1.3zM322.1 427.47h1.3v3.03h-1.3zM330.6 427.47h1.3v3.03h-1.3zM315.7 430.25h1.3v3.03h-1.3zM323.2 430.25h1.3v3.03h-1.3zM307.2 435.81h1.3v3.03h-1.3zM320.0 435.81h1.3v3.03h-1.3zM340.2 435.81h1.3v3.03h-1.3zM421.1 438.59h1.3v3.03h-1.3z" fill="#0d60dc"/>
<path d="M351.9 410.78h2.4v3.03h-2.4zM358.3 410.78h1.3v3.03h-1.3zM364.7 410.78h1.3v3.03h-1.3zM368.9 410.78h1.3v3.03h-1.3zM375.3 410.78h1.3v3.03h-1.3zM382.8 410.78h2.4v3.03h-2.4zM392.4 410.78h1.3v3.03h-1.3zM395.6 410.78h1.3v3.03h-1.3zM398.8 410.78h1.3v3.03h-1.3zM400.9 410.78h1.3v3.03h-1.3zM406.2 410.78h1.3v3.03h-1.3zM408.3 410.78h1.3v3.03h-1.3zM414.7 410.78h1.3v3.03h-1.3zM365.8 413.56h1.3v3.03h-1.3zM380.7 413.56h1.3v3.03h-1.3zM386.0 413.56h1.3v3.03h-1.3zM391.3 413.56h1.3v3.03h-1.3zM322.1 416.34h1.3v3.03h-1.3zM339.1 416.34h1.3v3.03h-1.3zM355.1 416.34h1.3v3.03h-1.3zM370.0 416.34h1.3v3.03h-1.3zM373.2 416.34h1.3v3.03h-1.3zM386.0 416.34h1.3v3.03h-1.3zM391.3 416.34h1.3v3.03h-1.3zM395.6 416.34h1.3v3.03h-1.3zM404.1 416.34h1.3v3.03h-1.3zM410.5 416.34h2.4v3.03h-2.4zM419.0 416.34h1.3v3.03h-1.3zM309.3 427.47h1.3v3.03h-1.3zM311.5 427.47h1.3v3.03h-1.3zM324.2 430.25h1.3v3.03h-1.3zM337.0 430.25h1.3v3.03h-1.3zM310.4 433.03h2.4v3.03h-2.4zM321.0 433.03h1.3v3.03h-1.3zM327.4 433.03h1.3v3.03h-1.3zM330.6 433.03h1.3v3.03h-1.3zM333.8 433.03h1.3v3.03h-1.3zM338.1 433.03h1.3v3.03h-1.3zM318.9 435.81h1.3v3.03h-1.3zM327.4 435.81h1.3v3.03h-1.3zM331.7 435.81h1.3v3.03h-1.3zM341.3 435.81h1.3v3.03h-1.3zM419.0 438.59h2.4v3.03h-2.4zM380.7 446.94h1.3v3.03h-1.3zM398.8 446.94h1.3v3.03h-1.3zM344.5 449.72h1.3v3.03h-1.3z" fill="#036ae0"/>
<path d="M350.8 410.78h1.3v3.03h-1.3zM360.4 410.78h1.3v3.03h-1.3zM362.6 410.78h1.3v3.03h-1.3zM365.8 410.78h2.4v3.03h-2.4zM384.9 410.78h1.3v3.03h-1.3zM394.5 410.78h1.3v3.03h-1.3zM412.6 410.78h1.3v3.03h-1.3zM415.8 410.78h2.4v3.03h-2.4zM421.1 410.78h1.3v3.03h-1.3zM370.0 413.56h1.3v3.03h-1.3zM375.3 413.56h1.3v3.03h-1.3zM382.8 413.56h1.3v3.03h-1.3zM323.2 416.34h1.3v3.03h-1.3zM371.1 416.34h1.3v3.03h-1.3zM374.3 416.34h1.3v3.03h-1.3zM376.4 416.34h1.3v3.03h-1.3zM378.5 416.34h1.3v3.03h-1.3zM381.7 416.34h1.3v3.03h-1.3zM383.8 416.34h1.3v3.03h-1.3zM388.1 416.34h1.3v3.03h-1.3zM392.4 416.34h1.3v3.03h-1.3zM420.0 416.34h1.3v3.03h-1.3zM324.2 427.47h1.3v3.03h-1.3zM331.7 427.47h1.3v3.03h-1.3zM337.0 427.47h1.3v3.03h-1.3zM339.1 430.25h1.3v3.03h-1.3zM342.3 430.25h2.4v3.03h-2.4zM308.3 433.03h1.3v3.03h-1.3zM322.1 433.03h1.3v3.03h-1.3zM326.4 433.03h1.3v3.03h-1.3zM328.5 433.03h2.4v3.03h-2.4zM331.7 433.03h1.3v3.03h-1.3zM334.9 433.03h2.4v3.03h-2.4zM314.7 435.81h1.3v3.03h-1.3zM322.1 435.81h2.4v3.03h-2.4zM401.9 438.59h1.3v3.03h-1.3zM411.5 438.59h1.3v3.03h-1.3zM370.0 446.94h1.3v3.03h-1.3zM397.7 446.94h1.3v3.03h-1.3zM331.7 449.72h1.3v3.03h-1.3zM347.7 449.72h1.3v3.03h-1.3zM362.6 449.72h2.4v3.03h-2.4z" fill="#0971de"/>
<path d="M357.2 410.78h1.3v3.03h-1.3zM363.6 410.78h1.3v3.03h-1.3zM373.2 410.78h1.3v3.03h-1.3zM380.7 410.78h2.4v3.03h-2.4zM386.0 410.78h1.3v3.03h-1.3zM388.1 410.78h1.3v3.03h-1.3zM399.8 410.78h1.3v3.03h-1.3zM409.4 410.78h1.3v3.03h-1.3zM364.7 416.34h3.4v3.03h-3.4zM368.9 416.34h1.3v3.03h-1.3zM372.1 416.34h1.3v3.03h-1.3zM375.3 416.34h1.3v3.03h-1.3zM379.6 416.34h1.3v3.03h-1.3zM384.9 416.34h1.3v3.03h-1.3zM387.0 416.34h1.3v3.03h-1.3zM393.4 416.34h1.3v3.03h-1.3zM338.1 427.47h1.3v3.03h-1.3zM307.2 433.03h1.3v3.03h-1.3zM309.3 433.03h1.3v3.03h-1.3zM312.5 433.03h1.3v3.03h-1.3zM339.1 433.03h1.3v3.03h-1.3zM321.0 435.81h1.3v3.03h-1.3zM329.6 435.81h1.3v3.03h-1.3zM414.7 438.59h3.4v3.03h-3.4zM422.2 438.59h1.3v3.03h-1.3zM387.0 446.94h1.3v3.03h-1.3zM399.8 446.94h1.3v3.03h-1.3zM340.2 449.72h1.3v3.03h-1.3zM348.7 449.72h1.3v3.03h-1.3zM350.8 449.72h3.4v3.03h-3.4zM358.3 449.72h1.3v3.03h-1.3z" fill="#0e77db"/>
<path d="M394.5 408.00h1.3v3.03h-1.3zM389.2 410.78h1.3v3.03h-1.3zM393.4 410.78h1.3v3.03h-1.3zM396.6 410.78h2.4v3.03h-2.4zM340.2 430.25h1.3v3.03h-1.3zM324.2 433.03h2.4v3.03h-2.4zM332.7 433.03h1.3v3.03h-1.3zM333.8 435.81h1.3v3.03h-1.3zM404.1 438.59h1.3v3.03h-1.3zM409.4 438.59h1.3v3.03h-1.3zM413.7 438.59h1.3v3.03h-1.3zM423.2 438.59h1.3v3.03h-1.3zM368.9 446.94h1.3v3.03h-1.3zM375.3 446.94h1.3v3.03h-1.3zM388.1 446.94h1.3v3.03h-1.3zM390.2 446.94h1.3v3.03h-1.3zM330.6 449.72h1.3v3.03h-1.3zM334.9 449.72h2.4v3.03h-2.4zM338.1 449.72h2.4v3.03h-2.4zM343.4 449.72h1.3v3.03h-1.3zM345.5 449.72h2.4v3.03h-2.4zM359.4 449.72h1.3v3.03h-1.3zM361.5 449.72h1.3v3.03h-1.3z" fill="#127dd8"/>
<path d="M387.0 410.78h1.3v3.03h-1.3zM315.7 421.91h1.3v3.03h-1.3zM341.3 421.91h1.3v3.03h-1.3zM341.3 430.25h1.3v3.03h-1.3zM340.2 433.03h1.3v3.03h-1.3zM324.2 435.81h2.4v3.03h-2.4zM334.9 435.81h1.3v3.03h-1.3zM395.6 438.59h1.3v3.03h-1.3zM400.9 438.59h1.3v3.03h-1.3zM403.0 438.59h1.3v3.03h-1.3zM406.2 438.59h1.3v3.03h-1.3zM408.3 438.59h1.3v3.03h-1.3zM417.9 438.59h1.3v3.03h-1.3zM371.1 446.94h1.3v3.03h-1.3zM373.2 446.94h2.4v3.03h-2.4zM377.5 446.94h1.3v3.03h-1.3zM381.7 446.94h1.3v3.03h-1.3zM395.6 446.94h1.3v3.03h-1.3zM333.8 449.72h1.3v3.03h-1.3zM337.0 449.72h1.3v3.03h-1.3zM342.3 449.72h1.3v3.03h-1.3zM354.0 449.72h1.3v3.03h-1.3zM357.2 449.72h1.3v3.03h-1.3zM368.9 449.72h1.3v3.03h-1.3z" fill="#1384d5"/>
<path d="M324.2 419.12h1.3v3.03h-1.3zM350.8 421.91h1.3v3.03h-1.3zM332.7 427.47h2.4v3.03h-2.4zM335.9 427.47h1.3v3.03h-1.3zM339.1 427.47h1.3v3.03h-1.3zM342.3 427.47h1.3v3.03h-1.3zM345.5 427.47h1.3v3.03h-1.3zM344.5 430.25h1.3v3.03h-1.3zM317.8 433.03h1.3v3.03h-1.3zM323.2 433.03h1.3v3.03h-1.3zM341.3 433.03h1.3v3.03h-1.3zM326.4 435.81h1.3v3.03h-1.3zM328.5 435.81h1.3v3.03h-1.3zM330.6 435.81h1.3v3.03h-1.3zM332.7 435.81h1.3v3.03h-1.3zM337.0 435.81h1.3v3.03h-1.3zM372.1 438.59h1.3v3.03h-1.3zM374.3 438.59h1.3v3.03h-1.3zM405.1 438.59h1.3v3.03h-1.3zM367.9 446.94h1.3v3.03h-1.3zM372.1 446.94h1.3v3.03h-1.3zM376.4 446.94h1.3v3.03h-1.3zM382.8 446.94h1.3v3.03h-1.3zM386.0 446.94h1.3v3.03h-1.3zM389.2 446.94h1.3v3.03h-1.3zM396.6 446.94h1.3v3.03h-1.3zM332.7 449.72h1.3v3.03h-1.3zM341.3 449.72h1.3v3.03h-1.3zM360.4 449.72h1.3v3.03h-1.3z" fill="#118bd3"/>
<path d="M393.4 408.00h1.3v3.03h-1.3zM420.0 408.00h1.3v3.03h-1.3zM314.7 419.12h1.3v3.03h-1.3zM325.3 419.12h1.3v3.03h-1.3zM307.2 421.91h1.3v3.03h-1.3zM334.9 427.47h1.3v3.03h-1.3zM340.2 427.47h1.3v3.03h-1.3zM313.6 433.03h1.3v3.03h-1.3zM315.7 433.03h1.3v3.03h-1.3zM320.0 433.03h1.3v3.03h-1.3zM335.9 435.81h1.3v3.03h-1.3zM388.1 441.38h1.3v3.03h-1.3zM393.4 441.38h1.3v3.03h-1.3zM403.0 441.38h1.3v3.03h-1.3zM406.2 441.38h1.3v3.03h-1.3zM365.8 446.94h1.3v3.03h-1.3zM384.9 446.94h1.3v3.03h-1.3zM393.4 446.94h1.3v3.03h-1.3zM349.8 449.72h1.3v3.03h-1.3zM355.1 449.72h2.4v3.03h-2.4zM364.7 449.72h1.3v3.03h-1.3zM399.8 449.72h1.3v3.03h-1.3z" fill="#0d92d1"/>
<path d="M404.1 408.00h1.3v3.03h-1.3zM410.5 408.00h2.4v3.03h-2.4zM316.8 419.12h2.4v3.03h-2.4zM335.9 419.12h1.3v3.03h-1.3zM347.7 419.12h1.3v3.03h-1.3zM311.5 421.91h1.3v3.03h-1.3zM314.7 421.91h1.3v3.03h-1.3zM316.8 421.91h1.3v3.03h-1.3zM327.4 421.91h2.4v3.03h-2.4zM332.7 421.91h1.3v3.03h-1.3zM340.2 421.91h1.3v3.03h-1.3zM343.4 427.47h1.3v3.03h-1.3zM338.1 435.81h1.3v3.03h-1.3zM373.2 438.59h1.3v3.03h-1.3zM407.3 438.59h1.3v3.03h-1.3zM412.6 438.59h1.3v3.03h-1.3zM405.1 441.38h1.3v3.03h-1.3zM408.3 441.38h1.3v3.03h-1.3zM358.3 446.94h1.3v3.03h-1.3zM409.4 446.94h1.3v3.03h-1.3zM420.0 446.94h1.3v3.03h-1.3zM422.2 446.94h1.3v3.03h-1.3zM367.9 449.72h1.3v3.03h-1.3zM370.0 449.72h1.3v3.03h-1.3z" fill="#089ad0"/>
<path d="M340.2 408.00h1.3v3.03h-1.3zM381.7 408.00h1.3v3.03h-1.3zM383.8 408.00h1.3v3.03h-1.3zM399.8 408.00h1.3v3.03h-1.3zM403.0 408.00h1.3v3.03h-1.3zM408.3 408.00h1.3v3.03h-1.3zM310.4 419.12h1.3v3.03h-1.3zM313.6 419.12h1.3v3.03h-1.3zM315.7 419.12h1.3v3.03h-1.3zM318.9 419.12h1.3v3.03h-1.3zM323.2 419.12h1.3v3.03h-1.3zM326.4 419.12h1.3v3.03h-1.3zM328.5 419.12h1.3v3.03h-1.3zM330.6 419.12h1.3v3.03h-1.3zM341.3 419.12h1.3v3.03h-1.3zM344.5 419.12h1.3v3.03h-1.3zM310.4 421.91h1.3v3.03h-1.3zM331.7 421.91h1.3v3.03h-1.3zM361.5 421.91h1.3v3.03h-1.3zM312.5 424.69h1.3v3.03h-1.3zM315.7 424.69h1.3v3.03h-1.3zM320.0 424.69h1.3v3.03h-1.3zM341.3 427.47h1.3v3.03h-1.3zM339.1 435.81h1.3v3.03h-1.3zM410.5 438.59h1.3v3.03h-1.3zM374.3 441.38h1.3v3.03h-1.3zM389.2 441.38h1.3v3.03h-1.3zM415.8 441.38h1.3v3.03h-1.3zM351.9 446.94h1.3v3.03h-1.3zM383.8 446.94h1.3v3.03h-1.3zM394.5 446.94h1.3v3.03h-1.3zM401.9 446.94h1.3v3.03h-1.3zM413.7 446.94h1.3v3.03h-1.3zM372.1 449.72h1.3v3.03h-1.3z" fill="#06a0cc"/>
<path d="M380.7 408.00h1.3v3.03h-1.3zM388.1 408.00h2.4v3.03h-2.4zM391.3 408.00h2.4v3.03h-2.4zM397.7 408.00h1.3v3.03h-1.3zM401.9 408.00h1.3v3.03h-1.3zM413.7 408.00h1.3v3.03h-1.3zM415.8 408.00h1.3v3.03h-1.3zM308.3 419.12h2.4v3.03h-2.4zM311.5 419.12h1.3v3.03h-1.3zM322.1 419.12h1.3v3.03h-1.3zM334.9 419.12h1.3v3.03h-1.3zM348.7 419.12h1.3v3.03h-1.3zM312.5 421.91h1.3v3.03h-1.3zM326.4 421.91h1.3v3.03h-1.3zM333.8 421.91h2.4v3.03h-2.4zM337.0 421.91h1.3v3.03h-1.3zM339.1 421.91h1.3v3.03h-1.3zM351.9 421.91h1.3v3.03h-1.3zM313.6 424.69h2.4v3.03h-2.4zM326.4 424.69h1.3v3.03h-1.3zM329.6 424.69h1.3v3.03h-1.3zM344.5 427.47h1.3v3.03h-1.3zM350.8 438.59h1.3v3.03h-1.3zM371.1 438.59h1.3v3.03h-1.3zM376.4 438.59h1.3v3.03h-1.3zM389.2 438.59h1.3v3.03h-1.3zM393.4 438.59h1.3v3.03h-1.3zM396.6 438.59h2.4v3.03h-2.4zM371.1 441.38h1.3v3.03h-1.3zM381.7 441.38h1.3v3.03h-1.3zM391.3 441.38h2.4v3.03h-2.4zM407.3 441.38h1.3v3.03h-1.3zM417.9 441.38h1.3v3.03h-1.3zM346.6 446.94h1.3v3.03h-1.3zM356.2 446.94h1.3v3.03h-1.3zM360.4 446.94h1.3v3.03h-1.3zM366.8 446.94h1.3v3.03h-1.3zM379.6 446.94h1.3v3.03h-1.3zM400.9 446.94h1.3v3.03h-1.3zM419.0 446.94h1.3v3.03h-1.3zM423.2 446.94h1.3v3.03h-1.3zM308.3 449.72h2.4v3.03h-2.4zM313.6 449.72h1.3v3.03h-1.3zM371.1 449.72h1.3v3.03h-1.3z" fill="#06a5c7"/>
<path d="M311.5 408.00h1.3v3.03h-1.3zM331.7 408.00h1.3v3.03h-1.3zM345.5 408.00h1.3v3.03h-1.3zM379.6 408.00h1.3v3.03h-1.3zM382.8 408.00h1.3v3.03h-1.3zM387.0 408.00h1.3v3.03h-1.3zM398.8 408.00h1.3v3.03h-1.3zM406.2 408.00h1.3v3.03h-1.3zM409.4 408.00h1.3v3.03h-1.3zM312.5 419.12h1.3v3.03h-1.3zM320.0 419.12h1.3v3.03h-1.3zM329.6 419.12h1.3v3.03h-1.3zM332.7 419.12h2.4v3.03h-2.4zM343.4 419.12h1.3v3.03h-1.3zM313.6 421.91h1.3v3.03h-1.3zM329.6 421.91h1.3v3.03h-1.3zM335.9 421.91h1.3v3.03h-1.3zM342.3 421.91h1.3v3.03h-1.3zM344.5 421.91h1.3v3.03h-1.3zM349.8 421.91h1.3v3.03h-1.3zM353.0 421.91h1.3v3.03h-1.3zM360.4 421.91h1.3v3.03h-1.3zM338.1 424.69h1.3v3.03h-1.3zM370.0 424.69h1.3v3.03h-1.3zM316.8 433.03h1.3v3.03h-1.3zM345.5 433.03h1.3v3.03h-1.3zM357.2 433.03h1.3v3.03h-1.3zM342.3 435.81h1.3v3.03h-1.3zM346.6 438.59h1.3v3.03h-1.3zM391.3 438.59h1.3v3.03h-1.3zM364.7 441.38h1.3v3.03h-1.3zM366.8 441.38h1.3v3.03h-1.3zM372.1 441.38h1.3v3.03h-1.3zM376.4 441.38h1.3v3.03h-1.3zM378.5 441.38h2.4v3.03h-2.4zM384.9 441.38h1.3v3.03h-1.3zM395.6 441.38h1.3v3.03h-1.3zM397.7 441.38h1.3v3.03h-1.3zM401.9 441.38h1.3v3.03h-1.3zM414.7 441.38h1.3v3.03h-1.3zM421.1 441.38h1.3v3.03h-1.3zM349.8 446.94h1.3v3.03h-1.3zM353.0 446.94h1.3v3.03h-1.3zM359.4 446.94h1.3v3.03h-1.3zM361.5 446.94h2.4v3.03h-2.4zM391.3 446.94h2.4v3.03h-2.4zM414.7 446.94h1.3v3.03h-1.3zM416.8 446.94h1.3v3.03h-1.3zM307.2 449.72h1.3v3.03h-1.3zM310.4 449.72h1.3v3.03h-1.3zM318.9 449.72h1.3v3.03h-1.3zM365.8 449.72h1.3v3.03h-1.3z" fill="#0aaac1"/>
<path d="M307.2 408.00h1.3v3.03h-1.3zM335.9 408.00h1.3v3.03h-1.3zM351.9 408.00h3.4v3.03h-3.4zM384.9 408.00h1.3v3.03h-1.3zM400.9 408.00h1.3v3.03h-1.3zM412.6 408.00h1.3v3.03h-1.3zM307.2 419.12h1.3v3.03h-1.3zM321.0 419.12h1.3v3.03h-1.3zM327.4 419.12h1.3v3.03h-1.3zM331.7 419.12h1.3v3.03h-1.3zM340.2 419.12h1.3v3.03h-1.3zM345.5 419.12h2.4v3.03h-2.4zM330.6 421.91h1.3v3.03h-1.3zM338.1 421.91h1.3v3.03h-1.3zM348.7 421.91h1.3v3.03h-1.3zM359.4 421.91h1.3v3.03h-1.3zM370.0 421.91h1.3v3.03h-1.3zM384.9 421.91h2.4v3.03h-2.4zM317.8 424.69h2.4v3.03h-2.4zM327.4 424.69h1.3v3.03h-1.3zM337.0 424.69h1.3v3.03h-1.3zM339.1 424.69h1.3v3.03h-1.3zM342.3 424.69h1.3v3.03h-1.3zM364.7 424.69h1.3v3.03h-1.3zM367.9 427.47h1.3v3.03h-1.3zM370.0 427.47h2.4v3.03h-2.4zM389.2 427.47h1.3v3.03h-1.3zM398.8 427.47h1.3v3.03h-1.3zM318.9 433.03h1.3v3.03h-1.3zM353.0 433.03h1.3v3.03h-1.3zM358.3 433.03h2.4v3.03h-2.4zM361.5 433.03h1.3v3.03h-1.3zM395.6 435.81h1.3v3.03h-1.3zM347.7 438.59h1.3v3.03h-1.3zM375.3 438.59h1.3v3.03h-1.3zM388.1 438.59h1.3v3.03h-1.3zM390.2 438.59h1.3v3.03h-1.3zM398.8 438.59h2.4v3.03h-2.4zM343.4 441.38h2.4v3.03h-2.4zM353.0 441.38h2.4v3.03h-2.4zM367.9 441.38h1.3v3.03h-1.3zM373.2 441.38h1.3v3.03h-1.3zM375.3 441.38h1.3v3.03h-1.3zM383.8 441.38h1.3v3.03h-1.3zM387.0 441.38h1.3v3.03h-1.3zM390.2 441.38h1.3v3.03h-1.3zM394.5 441.38h1.3v3.03h-1.3zM396.6 441.38h1.3v3.03h-1.3zM404.1 441.38h1.3v3.03h-1.3zM409.4 441.38h1.3v3.03h-1.3zM411.5 441.38h1.3v3.03h-1.3zM416.8 441.38h1.3v3.03h-1.3zM423.2 441.38h1.3v3.03h-1.3zM348.7 446.94h1.3v3.03h-1.3zM350.8 446.94h1.3v3.03h-1.3zM357.2 446.94h1.3v3.03h-1.3zM378.5 446.94h1.3v3.03h-1.3zM403.0 446.94h1.3v3.03h-1.3zM405.1 446.94h1.3v3.03h-1.3zM417.9 446.94h1.3v3.03h-1.3zM421.1 446.94h1.3v3.03h-1.3zM314.7 449.72h1.3v3.03h-1.3zM317.8 449.72h1.3v3.03h-1.3zM324.2 449.72h1.3v3.03h-1.3zM366.8 449.72h1.3v3.03h-1.3z" fill="#0eaeba"/>
<path d="M317.8 408.00h1.3v3.03h-1.3zM337.0 408.00h3.4v3.03h-3.4zM348.7 408.00h1.3v3.03h-1.3zM355.1 408.00h1.3v3.03h-1.3zM357.2 408.00h1.3v3.03h-1.3zM377.5 408.00h1.3v3.03h-1.3zM386.0 408.00h1.3v3.03h-1.3zM390.2 408.00h1.3v3.03h-1.3zM396.6 408.00h1.3v3.03h-1.3zM405.1 408.00h1.3v3.03h-1.3zM407.3 408.00h1.3v3.03h-1.3zM414.7 408.00h1.3v3.03h-1.3zM417.9 408.00h1.3v3.03h-1.3zM337.0 419.12h2.4v3.03h-2.4zM308.3 421.91h1.3v3.03h-1.3zM343.4 421.91h1.3v3.03h-1.3zM346.6 421.91h2.4v3.03h-2.4zM354.0 421.91h5.6v3.03h-5.6zM365.8 421.91h2.4v3.03h-2.4zM377.5 421.91h1.3v3.03h-1.3zM381.7 421.91h1.3v3.03h-1.3zM383.8 421.91h1.3v3.03h-1.3zM307.2 424.69h2.4v3.03h-2.4zM310.4 424.69h2.4v3.03h-2.4zM322.1 424.69h1.3v3.03h-1.3zM331.7 424.69h1.3v3.03h-1.3zM341.3 424.69h1.3v3.03h-1.3zM343.4 424.69h1.3v3.03h-1.3zM359.4 424.69h1.3v3.03h-1.3zM382.8 424.69h1.3v3.03h-1.3zM366.8 427.47h1.3v3.03h-1.3zM372.1 427.47h1.3v3.03h-1.3zM401.9 427.47h1.3v3.03h-1.3zM342.3 433.03h1.3v3.03h-1.3zM344.5 433.03h1.3v3.03h-1.3zM355.1 433.03h1.3v3.03h-1.3zM363.6 433.03h1.3v3.03h-1.3zM395.6 433.03h1.3v3.03h-1.3zM343.4 438.59h1.3v3.03h-1.3zM345.5 438.59h1.3v3.03h-1.3zM348.7 438.59h1.3v3.03h-1.3zM358.3 438.59h1.3v3.03h-1.3zM361.5 438.59h1.3v3.03h-1.3zM370.0 438.59h1.3v3.03h-1.3zM377.5 438.59h1.3v3.03h-1.3zM392.4 438.59h1.3v3.03h-1.3zM345.5 441.38h1.3v3.03h-1.3zM365.8 441.38h1.3v3.03h-1.3zM368.9 441.38h1.3v3.03h-1.3zM377.5 441.38h1.3v3.03h-1.3zM380.7 441.38h1.3v3.03h-1.3zM386.0 441.38h1.3v3.03h-1.3zM400.9 441.38h1.3v3.03h-1.3zM420.0 441.38h1.3v3.03h-1.3zM342.3 446.94h2.4v3.03h-2.4zM347.7 446.94h1.3v3.03h-1.3zM408.3 446.94h1.3v3.03h-1.3zM411.5 446.94h1.3v3.03h-1.3zM311.5 449.72h2.4v3.03h-2.4zM315.7 449.72h1.3v3.03h-1.3zM328.5 449.72h2.4v3.03h-2.4zM398.8 449.72h1.3v3.03h-1.3z" fill="#19b1b2"/>
<path d="M332.7 408.00h1.3v3.03h-1.3zM342.3 408.00h1.3v3.03h-1.3zM356.2 408.00h1.3v3.03h-1.3zM395.6 408.00h1.3v3.03h-1.3zM416.8 408.00h1.3v3.03h-1.3zM421.1 408.00h1.3v3.03h-1.3zM342.3 419.12h1.3v3.03h-1.3zM309.3 421.91h1.3v3.03h-1.3zM345.5 421.91h1.3v3.03h-1.3zM362.6 421.91h2.4v3.03h-2.4zM367.9 421.91h1.3v3.03h-1.3zM374.3 421.91h1.3v3.03h-1.3zM321.0 424.69h1.3v3.03h-1.3zM325.3 424.69h1.3v3.03h-1.3zM328.5 424.69h1.3v3.03h-1.3zM340.2 424.69h1.3v3.03h-1.3zM351.9 424.69h1.3v3.03h-1.3zM371.1 424.69h1.3v3.03h-1.3zM375.3 424.69h1.3v3.03h-1.3zM409.4 424.69h1.3v3.03h-1.3zM359.4 427.47h1.3v3.03h-1.3zM421.1 427.47h1.3v3.03h-1.3zM348.7 433.03h1.3v3.03h-1.3zM351.9 433.03h1.3v3.03h-1.3zM356.2 433.03h1.3v3.03h-1.3zM360.4 433.03h1.3v3.03h-1.3zM364.7 433.03h1.3v3.03h-1.3zM381.7 433.03h1.3v3.03h-1.3zM386.0 433.03h2.4v3.03h-2.4zM394.5 433.03h1.3v3.03h-1.3zM394.5 435.81h1.3v3.03h-1.3zM405.1 435.81h1.3v3.03h-1.3zM415.8 435.81h1.3v3.03h-1.3zM421.1 435.81h1.3v3.03h-1.3zM314.7 438.59h3.4v3.03h-3.4zM330.6 438.59h1.3v3.03h-1.3zM356.2 438.59h1.3v3.03h-1.3zM394.5 438.59h1.3v3.03h-1.3zM340.2 441.38h1.3v3.03h-1.3zM348.7 441.38h1.3v3.03h-1.3zM355.1 441.38h1.3v3.03h-1.3zM360.4 441.38h1.3v3.03h-1.3zM362.6 441.38h1.3v3.03h-1.3zM370.0 441.38h1.3v3.03h-1.3zM399.8 441.38h1.3v3.03h-1.3zM419.0 441.38h1.3v3.03h-1.3zM422.2 441.38h1.3v3.03h-1.3zM410.5 446.94h1.3v3.03h-1.3zM412.6 446.94h1.3v3.03h-1.3zM415.8 446.94h1.3v3.03h-1.3zM320.0 449.72h2.4v3.03h-2.4zM325.3 449.72h2.4v3.03h-2.4z" fill="#25b5aa"/>
<path d="M310.4 408.00h1.3v3.03h-1.3zM313.6 408.00h1.3v3.03h-1.3zM316.8 408.00h1.3v3.03h-1.3zM321.0 408.00h1.3v3.03h-1.3zM327.4 408.00h1.3v3.03h-1.3zM330.6 408.00h1.3v3.03h-1.3zM349.8 408.00h1.3v3.03h-1.3zM422.2 408.00h2.4v3.03h-2.4zM364.7 421.91h1.3v3.03h-1.3zM368.9 421.91h1.3v3.03h-1.3zM371.1 421.91h1.3v3.03h-1.3zM388.1 421.91h1.3v3.03h-1.3zM323.2 424.69h2.4v3.03h-2.4zM334.9 424.69h1.3v3.03h-1.3zM344.5 424.69h2.4v3.03h-2.4zM360.4 424.69h1.3v3.03h-1.3zM366.8 424.69h1.3v3.03h-1.3zM381.7 424.69h1.3v3.03h-1.3zM383.8 424.69h1.3v3.03h-1.3zM388.1 424.69h1.3v3.03h-1.3zM390.2 424.69h1.3v3.03h-1.3zM404.1 424.69h1.3v3.03h-1.3zM410.5 424.69h1.3v3.03h-1.3zM362.6 427.47h1.3v3.03h-1.3zM364.7 427.47h2.4v3.03h-2.4zM368.9 427.47h1.3v3.03h-1.3zM373.2 427.47h2.4v3.03h-2.4zM379.6 427.47h1.3v3.03h-1.3zM384.9 427.47h1.3v3.03h-1.3zM391.3 427.47h1.3v3.03h-1.3zM395.6 427.47h1.3v3.03h-1.3zM408.3 427.47h1.3v3.03h-1.3zM365.8 430.25h3.4v3.03h-3.4zM377.5 430.25h2.4v3.03h-2.4zM314.7 433.03h1.3v3.03h-1.3zM343.4 433.03h1.3v3.03h-1.3zM349.8 433.03h1.3v3.03h-1.3zM354.0 433.03h1.3v3.03h-1.3zM362.6 433.03h1.3v3.03h-1.3zM404.1 433.03h1.3v3.03h-1.3zM409.4 433.03h1.3v3.03h-1.3zM343.4 435.81h1.3v3.03h-1.3zM379.6 435.81h1.3v3.03h-1.3zM389.2 435.81h2.4v3.03h-2.4zM396.6 435.81h1.3v3.03h-1.3zM407.3 435.81h1.3v3.03h-1.3zM311.5 438.59h1.3v3.03h-1.3zM326.4 438.59h2.4v3.03h-2.4zM331.7 438.59h2.4v3.03h-2.4zM342.3 438.59h1.3v3.03h-1.3zM344.5 438.59h1.3v3.03h-1.3zM354.0 438.59h1.3v3.03h-1.3zM357.2 438.59h1.3v3.03h-1.3zM360.4 438.59h1.3v3.03h-1.3zM362.6 438.59h1.3v3.03h-1.3zM365.8 438.59h1.3v3.03h-1.3zM367.9 438.59h2.4v3.03h-2.4zM379.6 438.59h1.3v3.03h-1.3zM314.7 441.38h1.3v3.03h-1.3zM341.3 441.38h1.3v3.03h-1.3zM357.2 441.38h1.3v3.03h-1.3zM359.4 441.38h1.3v3.03h-1.3zM361.5 441.38h1.3v3.03h-1.3zM382.8 441.38h1.3v3.03h-1.3zM410.5 441.38h1.3v3.03h-1.3zM412.6 441.38h1.3v3.03h-1.3zM313.6 444.16h1.3v3.03h-1.3zM315.7 444.16h3.4v3.03h-3.4zM417.9 444.16h1.3v3.03h-1.3zM345.5 446.94h1.3v3.03h-1.3zM354.0 446.94h2.4v3.03h-2.4zM364.7 446.94h1.3v3.03h-1.3zM404.1 446.94h1.3v3.03h-1.3zM406.2 446.94h2.4v3.03h-2.4zM322.1 449.72h1.3v3.03h-1.3z" fill="#33b8a1"/>
<path d="M309.3 408.00h1.3v3.03h-1.3zM312.5 408.00h1.3v3.03h-1.3zM318.9 408.00h1.3v3.03h-1.3zM326.4 408.00h1.3v3.03h-1.3zM329.6 408.00h1.3v3.03h-1.3zM341.3 408.00h1.3v3.03h-1.3zM344.5 408.00h1.3v3.03h-1.3zM350.8 408.00h1.3v3.03h-1.3zM419.0 408.00h1.3v3.03h-1.3zM339.1 419.12h1.3v3.03h-1.3zM390.2 419.12h1.3v3.03h-1.3zM372.1 421.91h2.4v3.03h-2.4zM375.3 421.91h1.3v3.03h-1.3zM382.8 421.91h1.3v3.03h-1.3zM387.0 421.91h1.3v3.03h-1.3zM309.3 424.69h1.3v3.03h-1.3zM316.8 424.69h1.3v3.03h-1.3zM332.7 424.69h1.3v3.03h-1.3zM347.7 424.69h1.3v3.03h-1.3zM355.1 424.69h1.3v3.03h-1.3zM357.2 424.69h1.3v3.03h-1.3zM361.5 424.69h1.3v3.03h-1.3zM363.6 424.69h1.3v3.03h-1.3zM372.1 424.69h1.3v3.03h-1.3zM374.3 424.69h1.3v3.03h-1.3zM386.0 424.69h1.3v3.03h-1.3zM403.0 424.69h1.3v3.03h-1.3zM350.8 427.47h1.3v3.03h-1.3zM381.7 427.47h2.4v3.03h-2.4zM387.0 427.47h1.3v3.03h-1.3zM392.4 427.47h1.3v3.03h-1.3zM397.7 427.47h1.3v3.03h-1.3zM361.5 430.25h2.4v3.03h-2.4zM407.3 430.25h1.3v3.03h-1.3zM346.6 433.03h1.3v3.03h-1.3zM383.8 433.03h1.3v3.03h-1.3zM388.1 433.03h1.3v3.03h-1.3zM396.6 433.03h1.3v3.03h-1.3zM407.3 433.03h2.4v3.03h-2.4zM344.5 435.81h1.3v3.03h-1.3zM381.7 435.81h1.3v3.03h-1.3zM411.5 435.81h1.3v3.03h-1.3zM413.7 435.81h2.4v3.03h-2.4zM416.8 435.81h3.4v3.03h-3.4zM308.3 438.59h1.3v3.03h-1.3zM318.9 438.59h1.3v3.03h-1.3zM322.1 438.59h1.3v3.03h-1.3zM329.6 438.59h1.3v3.03h-1.3zM353.0 438.59h1.3v3.03h-1.3zM363.6 438.59h1.3v3.03h-1.3zM366.8 438.59h1.3v3.03h-1.3zM378.5 438.59h1.3v3.03h-1.3zM323.2 441.38h1.3v3.03h-1.3zM330.6 441.38h1.3v3.03h-1.3zM342.3 441.38h1.3v3.03h-1.3zM358.3 441.38h1.3v3.03h-1.3zM398.8 441.38h1.3v3.03h-1.3zM413.7 441.38h1.3v3.03h-1.3zM311.5 444.16h1.3v3.03h-1.3zM318.9 444.16h1.3v3.03h-1.3zM340.2 444.16h2.4v3.03h-2.4zM349.8 444.16h1.3v3.03h-1.3zM419.0 444.16h1.3v3.03h-1.3zM308.3 446.94h1.3v3.03h-1.3zM317.8 446.94h1.3v3.03h-1.3zM332.7 446.94h1.3v3.03h-1.3zM338.1 446.94h1.3v3.03h-1.3zM316.8 449.72h1.3v3.03h-1.3zM323.2 449.72h1.3v3.03h-1.3zM327.4 449.72h1.3v3.03h-1.3z" fill="#43bb97"/>
<path d="M308.3 408.00h1.3v3.03h-1.3zM323.2 408.00h2.4v3.03h-2.4zM328.5 408.00h1.3v3.03h-1.3zM333.8 408.00h2.4v3.03h-2.4zM346.6 408.00h2.4v3.03h-2.4zM378.5 408.00h1.3v3.03h-1.3zM364.7 419.12h1.3v3.03h-1.3zM376.4 421.91h1.3v3.03h-1.3zM350.8 424.69h1.3v3.03h-1.3zM353.0 424.69h2.4v3.03h-2.4zM356.2 424.69h1.3v3.03h-1.3zM367.9 424.69h2.4v3.03h-2.4zM376.4 424.69h1.3v3.03h-1.3zM384.9 424.69h1.3v3.03h-1.3zM387.0 424.69h1.3v3.03h-1.3zM417.9 424.69h1.3v3.03h-1.3zM422.2 424.69h1.3v3.03h-1.3zM375.3 427.47h3.4v3.03h-3.4zM380.7 427.47h1.3v3.03h-1.3zM393.4 427.47h1.3v3.03h-1.3zM399.8 427.47h2.4v3.03h-2.4zM413.7 427.47h1.3v3.03h-1.3zM371.1 430.25h1.3v3.03h-1.3zM374.3 430.25h2.4v3.03h-2.4zM350.8 433.03h1.3v3.03h-1.3zM368.9 433.03h1.3v3.03h-1.3zM372.1 433.03h1.3v3.03h-1.3zM384.9 433.03h1.3v3.03h-1.3zM392.4 433.03h1.3v3.03h-1.3zM405.1 433.03h2.4v3.03h-2.4zM391.3 435.81h3.4v3.03h-3.4zM397.7 435.81h1.3v3.03h-1.3zM404.1 435.81h1.3v3.03h-1.3zM406.2 435.81h1.3v3.03h-1.3zM408.3 435.81h1.3v3.03h-1.3zM412.6 435.81h1.3v3.03h-1.3zM422.2 435.81h1.3v3.03h-1.3zM309.3 438.59h1.3v3.03h-1.3zM317.8 438.59h1.3v3.03h-1.3zM349.8 438.59h1.3v3.03h-1.3zM351.9 438.59h1.3v3.03h-1.3zM355.1 438.59h1.3v3.03h-1.3zM364.7 438.59h1.3v3.03h-1.3zM307.2 441.38h1.3v3.03h-1.3zM312.5 441.38h1.3v3.03h-1.3zM328.5 441.38h2.4v3.03h-2.4zM349.8 441.38h1.3v3.03h-1.3zM356.2 441.38h1.3v3.03h-1.3zM363.6 441.38h1.3v3.03h-1.3zM309.3 444.16h1.3v3.03h-1.3zM347.7 444.16h2.4v3.03h-2.4zM356.2 444.16h1.3v3.03h-1.3zM307.2 446.94h1.3v3.03h-1.3zM310.4 446.94h1.3v3.03h-1.3zM322.1 446.94h1.3v3.03h-1.3zM324.2 446.94h1.3v3.03h-1.3zM330.6 446.94h1.3v3.03h-1.3zM344.5 446.94h1.3v3.03h-1.3z" fill="#55bd8e"/>
<path d="M314.7 408.00h1.3v3.03h-1.3zM322.1 408.00h1.3v3.03h-1.3zM362.6 419.12h1.3v3.03h-1.3zM368.9 419.12h1.3v3.03h-1.3zM422.2 419.12h1.3v3.03h-1.3zM380.7 421.91h1.3v3.03h-1.3zM389.2 421.91h1.3v3.03h-1.3zM330.6 424.69h1.3v3.03h-1.3zM333.8 424.69h1.3v3.03h-1.3zM335.9 424.69h1.3v3.03h-1.3zM358.3 424.69h1.3v3.03h-1.3zM365.8 424.69h1.3v3.03h-1.3zM373.2 424.69h1.3v3.03h-1.3zM378.5 424.69h1.3v3.03h-1.3zM380.7 424.69h1.3v3.03h-1.3zM391.3 424.69h2.4v3.03h-2.4zM408.3 424.69h1.3v3.03h-1.3zM413.7 424.69h1.3v3.03h-1.3zM416.8 424.69h1.3v3.03h-1.3zM419.0 424.69h3.4v3.03h-3.4zM346.6 427.47h2.4v3.03h-2.4zM355.1 427.47h1.3v3.03h-1.3zM357.2 427.47h1.3v3.03h-1.3zM360.4 427.47h1.3v3.03h-1.3zM363.6 427.47h1.3v3.03h-1.3zM390.2 427.47h1.3v3.03h-1.3zM394.5 427.47h1.3v3.03h-1.3zM396.6 427.47h1.3v3.03h-1.3zM406.2 427.47h1.3v3.03h-1.3zM414.7 427.47h1.3v3.03h-1.3zM416.8 427.47h1.3v3.03h-1.3zM420.0 427.47h1.3v3.03h-1.3zM364.7 430.25h1.3v3.03h-1.3zM368.9 430.25h1.3v3.03h-1.3zM373.2 430.25h1.3v3.03h-1.3zM376.4 430.25h1.3v3.03h-1.3zM401.9 430.25h1.3v3.03h-1.3zM406.2 430.25h1.3v3.03h-1.3zM365.8 433.03h2.4v3.03h-2.4zM373.2 433.03h1.3v3.03h-1.3zM376.4 433.03h1.3v3.03h-1.3zM379.6 433.03h1.3v3.03h-1.3zM389.2 433.03h2.4v3.03h-2.4zM399.8 433.03h1.3v3.03h-1.3zM401.9 433.03h2.4v3.03h-2.4zM411.5 433.03h1.3v3.03h-1.3zM386.0 435.81h1.3v3.03h-1.3zM399.8 435.81h1.3v3.03h-1.3zM410.5 435.81h1.3v3.03h-1.3zM307.2 438.59h1.3v3.03h-1.3zM310.4 438.59h1.3v3.03h-1.3zM323.2 438.59h1.3v3.03h-1.3zM325.3 438.59h1.3v3.03h-1.3zM328.5 438.59h1.3v3.03h-1.3zM334.9 438.59h1.3v3.03h-1.3zM338.1 438.59h1.3v3.03h-1.3zM381.7 438.59h2.4v3.03h-2.4zM384.9 438.59h3.4v3.03h-3.4zM317.8 441.38h1.3v3.03h-1.3zM331.7 441.38h1.3v3.03h-1.3zM346.6 441.38h2.4v3.03h-2.4zM351.9 441.38h1.3v3.03h-1.3zM307.2 444.16h1.3v3.03h-1.3zM312.5 444.16h1.3v3.03h-1.3zM320.0 444.16h1.3v3.03h-1.3zM332.7 444.16h1.3v3.03h-1.3zM344.5 444.16h1.3v3.03h-1.3zM346.6 444.16h1.3v3.03h-1.3zM351.9 444.16h1.3v3.03h-1.3zM355.1 444.16h1.3v3.03h-1.3zM358.3 444.16h1.3v3.03h-1.3zM362.6 444.16h1.3v3.03h-1.3zM314.7 446.94h1.3v3.03h-1.3zM321.0 446.94h1.3v3.03h-1.3zM363.6 446.94h1.3v3.03h-1.3z" fill="#67be85"/>
<path d="M320.0 408.00h1.3v3.03h-1.3zM325.3 408.00h1.3v3.03h-1.3zM343.4 408.00h1.3v3.03h-1.3zM391.3 419.12h1.3v3.03h-1.3zM378.5 421.91h2.4v3.03h-2.4zM405.1 421.91h1.3v3.03h-1.3zM346.6 424.69h1.3v3.03h-1.3zM362.6 424.69h1.3v3.03h-1.3zM377.5 424.69h1.3v3.03h-1.3zM379.6 424.69h1.3v3.03h-1.3zM389.2 424.69h1.3v3.03h-1.3zM393.4 424.69h1.3v3.03h-1.3zM399.8 424.69h2.4v3.03h-2.4zM405.1 424.69h1.3v3.03h-1.3zM411.5 424.69h1.3v3.03h-1.3zM414.7 424.69h2.4v3.03h-2.4zM348.7 427.47h1.3v3.03h-1.3zM358.3 427.47h1.3v3.03h-1.3zM383.8 427.47h1.3v3.03h-1.3zM404.1 427.47h1.3v3.03h-1.3zM407.3 427.47h1.3v3.03h-1.3zM411.5 427.47h1.3v3.03h-1.3zM415.8 427.47h1.3v3.03h-1.3zM417.9 427.47h2.4v3.03h-2.4zM356.2 430.25h1.3v3.03h-1.3zM358.3 430.25h1.3v3.03h-1.3zM363.6 430.25h1.3v3.03h-1.3zM399.8 430.25h1.3v3.03h-1.3zM403.0 430.25h1.3v3.03h-1.3zM347.7 433.03h1.3v3.03h-1.3zM367.9 433.03h1.3v3.03h-1.3zM370.0 433.03h1.3v3.03h-1.3zM378.5 433.03h1.3v3.03h-1.3zM382.8 433.03h1.3v3.03h-1.3zM391.3 433.03h1.3v3.03h-1.3zM380.7 435.81h1.3v3.03h-1.3zM383.8 435.81h1.3v3.03h-1.3zM388.1 435.81h1.3v3.03h-1.3zM398.8 435.81h1.3v3.03h-1.3zM403.0 435.81h1.3v3.03h-1.3zM409.4 435.81h1.3v3.03h-1.3zM423.2 435.81h1.3v3.03h-1.3zM312.5 438.59h2.4v3.03h-2.4zM320.0 438.59h1.3v3.03h-1.3zM333.8 438.59h1.3v3.03h-1.3zM359.4 438.59h1.3v3.03h-1.3zM380.7 438.59h1.3v3.03h-1.3zM383.8 438.59h1.3v3.03h-1.3zM309.3 441.38h3.4v3.03h-3.4zM322.1 441.38h1.3v3.03h-1.3zM324.2 441.38h1.3v3.03h-1.3zM326.4 441.38h2.4v3.03h-2.4zM350.8 441.38h1.3v3.03h-1.3zM314.7 444.16h1.3v3.03h-1.3zM321.0 444.16h1.3v3.03h-1.3zM360.4 444.16h2.4v3.03h-2.4zM363.6 444.16h2.4v3.03h-2.4zM422.2 444.16h2.4v3.03h-2.4zM316.8 446.94h1.3v3.03h-1.3zM331.7 446.94h1.3v3.03h-1.3zM334.9 446.94h1.3v3.03h-1.3z" fill="#79bf7d"/>
<path d="M315.7 408.00h1.3v3.03h-1.3zM363.6 419.12h1.3v3.03h-1.3zM389.2 419.12h1.3v3.03h-1.3zM392.4 419.12h1.3v3.03h-1.3zM423.2 419.12h1.3v3.03h-1.3zM390.2 421.91h1.3v3.03h-1.3zM407.3 421.91h1.3v3.03h-1.3zM422.2 421.91h1.3v3.03h-1.3zM395.6 424.69h1.3v3.03h-1.3zM397.7 424.69h2.4v3.03h-2.4zM407.3 424.69h1.3v3.03h-1.3zM423.2 424.69h1.3v3.03h-1.3zM351.9 427.47h1.3v3.03h-1.3zM354.0 427.47h1.3v3.03h-1.3zM378.5 427.47h1.3v3.03h-1.3zM403.0 427.47h1.3v3.03h-1.3zM409.4 427.47h1.3v3.03h-1.3zM422.2 427.47h1.3v3.03h-1.3zM349.8 430.25h3.4v3.03h-3.4zM370.0 430.25h1.3v3.03h-1.3zM379.6 430.25h1.3v3.03h-1.3zM396.6 430.25h1.3v3.03h-1.3zM371.1 433.03h1.3v3.03h-1.3zM374.3 433.03h1.3v3.03h-1.3zM377.5 433.03h1.3v3.03h-1.3zM380.7 433.03h1.3v3.03h-1.3zM393.4 433.03h1.3v3.03h-1.3zM397.7 433.03h2.4v3.03h-2.4zM400.9 433.03h1.3v3.03h-1.3zM384.9 435.81h1.3v3.03h-1.3zM387.0 435.81h1.3v3.03h-1.3zM400.9 435.81h2.4v3.03h-2.4zM420.0 435.81h1.3v3.03h-1.3zM324.2 438.59h1.3v3.03h-1.3zM335.9 438.59h2.4v3.03h-2.4zM341.3 438.59h1.3v3.03h-1.3zM313.6 441.38h1.3v3.03h-1.3zM315.7 441.38h1.3v3.03h-1.3zM318.9 441.38h1.3v3.03h-1.3zM325.3 441.38h1.3v3.03h-1.3zM333.8 441.38h2.4v3.03h-2.4zM337.0 441.38h1.3v3.03h-1.3zM339.1 441.38h1.3v3.03h-1.3zM308.3 444.16h1.3v3.03h-1.3zM323.2 444.16h1.3v3.03h-1.3zM334.9 444.16h1.3v3.03h-1.3zM339.1 444.16h1.3v3.03h-1.3zM342.3 444.16h2.4v3.03h-2.4zM345.5 444.16h1.3v3.03h-1.3zM350.8 444.16h1.3v3.03h-1.3zM353.0 444.16h1.3v3.03h-1.3zM357.2 444.16h1.3v3.03h-1.3zM359.4 444.16h1.3v3.03h-1.3zM414.7 444.16h1.3v3.03h-1.3zM320.0 446.94h1.3v3.03h-1.3zM333.8 446.94h1.3v3.03h-1.3zM340.2 446.94h2.4v3.03h-2.4z" fill="#8bbf75"/>
<path d="M365.8 419.12h1.3v3.03h-1.3zM367.9 419.12h1.3v3.03h-1.3zM394.5 419.12h1.3v3.03h-1.3zM397.7 419.12h1.3v3.03h-1.3zM392.4 421.91h1.3v3.03h-1.3zM408.3 421.91h1.3v3.03h-1.3zM394.5 424.69h1.3v3.03h-1.3zM396.6 424.69h1.3v3.03h-1.3zM401.9 424.69h1.3v3.03h-1.3zM406.2 424.69h1.3v3.03h-1.3zM412.6 424.69h1.3v3.03h-1.3zM349.8 427.47h1.3v3.03h-1.3zM356.2 427.47h1.3v3.03h-1.3zM386.0 427.47h1.3v3.03h-1.3zM388.1 427.47h1.3v3.03h-1.3zM405.1 427.47h1.3v3.03h-1.3zM410.5 427.47h1.3v3.03h-1.3zM423.2 427.47h1.3v3.03h-1.3zM345.5 430.25h1.3v3.03h-1.3zM348.7 430.25h1.3v3.03h-1.3zM354.0 430.25h1.3v3.03h-1.3zM404.1 430.25h1.3v3.03h-1.3zM375.3 433.03h1.3v3.03h-1.3zM382.8 435.81h1.3v3.03h-1.3zM321.0 438.59h1.3v3.03h-1.3zM339.1 438.59h2.4v3.03h-2.4zM316.8 441.38h1.3v3.03h-1.3zM321.0 441.38h1.3v3.03h-1.3zM322.1 444.16h1.3v3.03h-1.3zM354.0 444.16h1.3v3.03h-1.3zM367.9 444.16h1.3v3.03h-1.3zM420.0 444.16h1.3v3.03h-1.3zM309.3 446.94h1.3v3.03h-1.3zM312.5 446.94h2.4v3.03h-2.4zM315.7 446.94h1.3v3.03h-1.3zM325.3 446.94h2.4v3.03h-2.4zM335.9 446.94h2.4v3.03h-2.4zM339.1 446.94h1.3v3.03h-1.3z" fill="#9bbe6f"/>
<path d="M406.2 421.91h1.3v3.03h-1.3zM423.2 421.91h1.3v3.03h-1.3zM348.7 424.69h1.3v3.03h-1.3zM353.0 427.47h1.3v3.03h-1.3zM361.5 427.47h1.3v3.03h-1.3zM359.4 430.25h2.4v3.03h-2.4zM372.1 430.25h1.3v3.03h-1.3zM380.7 430.25h1.3v3.03h-1.3zM391.3 430.25h1.3v3.03h-1.3zM394.5 430.25h2.4v3.03h-2.4zM398.8 430.25h1.3v3.03h-1.3zM410.5 433.03h1.3v3.03h-1.3zM308.3 441.38h1.3v3.03h-1.3zM320.0 441.38h1.3v3.03h-1.3zM332.7 441.38h1.3v3.03h-1.3zM335.9 441.38h1.3v3.03h-1.3zM338.1 441.38h1.3v3.03h-1.3zM324.2 444.16h1.3v3.03h-1.3zM327.4 444.16h1.3v3.03h-1.3zM335.9 444.16h2.4v3.03h-2.4zM365.8 444.16h2.4v3.03h-2.4zM415.8 444.16h2.4v3.03h-2.4zM421.1 444.16h1.3v3.03h-1.3zM311.5 446.94h1.3v3.03h-1.3zM323.2 446.94h1.3v3.03h-1.3zM327.4 446.94h3.4v3.03h-3.4z" fill="#aabe69"/>
<path d="M421.1 419.12h1.3v3.03h-1.3zM391.3 421.91h1.3v3.03h-1.3zM421.1 421.91h1.3v3.03h-1.3zM349.8 424.69h1.3v3.03h-1.3zM355.1 430.25h1.3v3.03h-1.3zM392.4 430.25h1.3v3.03h-1.3zM400.9 430.25h1.3v3.03h-1.3zM413.7 433.03h1.3v3.03h-1.3zM328.5 444.16h3.4v3.03h-3.4zM333.8 444.16h1.3v3.03h-1.3zM368.9 444.16h1.3v3.03h-1.3zM318.9 446.94h1.3v3.03h-1.3z" fill="#b8bd63"/>
<path d="M350.8 419.12h1.3v3.03h-1.3zM360.4 419.12h2.4v3.03h-2.4zM393.4 419.12h1.3v3.03h-1.3zM395.6 419.12h2.4v3.03h-2.4zM412.6 427.47h1.3v3.03h-1.3zM405.1 430.25h1.3v3.03h-1.3zM310.4 444.16h1.3v3.03h-1.3zM326.4 444.16h1.3v3.03h-1.3zM338.1 444.16h1.3v3.03h-1.3z" fill="#c6bc5e"/>
<path d="M366.8 419.12h1.3v3.03h-1.3zM420.0 419.12h1.3v3.03h-1.3zM409.4 421.91h1.3v3.03h-1.3zM353.0 430.25h1.3v3.03h-1.3zM357.2 430.25h1.3v3.03h-1.3zM384.9 430.25h2.4v3.03h-2.4zM397.7 430.25h1.3v3.03h-1.3zM325.3 444.16h1.3v3.03h-1.3zM331.7 444.16h1.3v3.03h-1.3z" fill="#d3bb58"/>
<path d="M375.3 408.00h1.3v3.03h-1.3zM393.4 421.91h1.3v3.03h-1.3zM346.6 430.25h2.4v3.03h-2.4zM389.2 430.25h2.4v3.03h-2.4zM393.4 430.25h1.3v3.03h-1.3zM408.3 430.25h1.3v3.03h-1.3zM400.9 449.72h1.3v3.03h-1.3zM422.2 449.72h1.3v3.03h-1.3z" fill="#e0ba52"/>
<path d="M354.0 419.12h3.4v3.03h-3.4zM388.1 419.12h1.3v3.03h-1.3zM325.3 421.91h1.3v3.03h-1.3zM420.0 421.91h1.3v3.03h-1.3zM381.7 430.25h3.4v3.03h-3.4zM411.5 444.16h1.3v3.03h-1.3zM394.5 449.72h1.3v3.03h-1.3z" fill="#ecb94c"/>
<path d="M376.4 408.00h1.3v3.03h-1.3zM353.0 419.12h1.3v3.03h-1.3zM370.0 419.12h1.3v3.03h-1.3zM373.2 419.12h2.4v3.03h-2.4zM403.0 419.12h1.3v3.03h-1.3zM419.0 419.12h1.3v3.03h-1.3zM324.2 421.91h1.3v3.03h-1.3zM398.8 421.91h1.3v3.03h-1.3zM404.1 421.91h1.3v3.03h-1.3zM388.1 430.25h1.3v3.03h-1.3zM412.6 433.03h1.3v3.03h-1.3zM363.6 435.81h1.3v3.03h-1.3zM423.2 449.72h1.3v3.03h-1.3z" fill="#f5bc44"/>
<path d="M359.4 419.12h1.3v3.03h-1.3zM372.1 419.12h1.3v3.03h-1.3zM377.5 419.12h1.3v3.03h-1.3zM398.8 419.12h2.4v3.03h-2.4zM401.9 419.12h1.3v3.03h-1.3zM409.4 419.12h2.4v3.03h-2.4zM323.2 421.91h1.3v3.03h-1.3zM399.8 421.91h1.3v3.03h-1.3zM387.0 430.25h1.3v3.03h-1.3zM417.9 433.03h1.3v3.03h-1.3zM378.5 435.81h1.3v3.03h-1.3zM406.2 444.16h1.3v3.03h-1.3zM395.6 449.72h1.3v3.03h-1.3z" fill="#fdc23a"/>
<path d="M358.3 408.00h1.3v3.03h-1.3zM349.8 419.12h1.3v3.03h-1.3zM375.3 419.12h1.3v3.03h-1.3zM379.6 419.12h1.3v3.03h-1.3zM400.9 419.12h1.3v3.03h-1.3zM404.1 419.12h1.3v3.03h-1.3zM415.8 419.12h1.3v3.03h-1.3zM317.8 421.91h1.3v3.03h-1.3zM395.6 421.91h1.3v3.03h-1.3zM413.7 421.91h1.3v3.03h-1.3zM409.4 430.25h1.3v3.03h-1.3zM414.7 430.25h1.3v3.03h-1.3zM421.1 430.25h1.3v3.03h-1.3zM423.2 430.25h1.3v3.03h-1.3zM416.8 433.03h1.3v3.03h-1.3zM419.0 433.03h1.3v3.03h-1.3zM346.6 435.81h1.3v3.03h-1.3zM399.8 444.16h1.3v3.03h-1.3zM409.4 444.16h2.4v3.03h-2.4zM397.7 449.72h1.3v3.03h-1.3zM420.0 449.72h2.4v3.03h-2.4z" fill="#fdc932"/>
<path d="M351.9 419.12h1.3v3.03h-1.3zM371.1 419.12h1.3v3.03h-1.3zM405.1 419.12h1.3v3.03h-1.3zM416.8 419.12h2.4v3.03h-2.4zM411.5 421.91h1.3v3.03h-1.3zM414.7 421.91h1.3v3.03h-1.3zM413.7 430.25h1.3v3.03h-1.3zM415.8 433.03h1.3v3.03h-1.3zM423.2 433.03h1.3v3.03h-1.3zM356.2 435.81h1.3v3.03h-1.3zM370.0 444.16h1.3v3.03h-1.3zM386.0 444.16h1.3v3.03h-1.3zM405.1 444.16h1.3v3.03h-1.3zM373.2 449.72h1.3v3.03h-1.3zM380.7 449.72h1.3v3.03h-1.3zM387.0 449.72h1.3v3.03h-1.3zM409.4 449.72h1.3v3.03h-1.3zM411.5 449.72h1.3v3.03h-1.3z" fill="#fad12b"/>
<path d="M363.6 408.00h1.3v3.03h-1.3zM367.9 408.00h1.3v3.03h-1.3zM376.4 419.12h1.3v3.03h-1.3zM378.5 419.12h1.3v3.03h-1.3zM380.7 419.12h1.3v3.03h-1.3zM387.0 419.12h1.3v3.03h-1.3zM406.2 419.12h3.4v3.03h-3.4zM411.5 419.12h1.3v3.03h-1.3zM394.5 421.91h1.3v3.03h-1.3zM396.6 421.91h2.4v3.03h-2.4zM410.5 421.91h1.3v3.03h-1.3zM419.0 421.91h1.3v3.03h-1.3zM420.0 433.03h1.3v3.03h-1.3zM349.8 435.81h1.3v3.03h-1.3zM370.0 435.81h1.3v3.03h-1.3zM374.3 435.81h1.3v3.03h-1.3zM373.2 444.16h2.4v3.03h-2.4zM397.7 444.16h1.3v3.03h-1.3zM413.7 444.16h1.3v3.03h-1.3zM378.5 449.72h1.3v3.03h-1.3zM384.9 449.72h1.3v3.03h-1.3zM389.2 449.72h2.4v3.03h-2.4zM396.6 449.72h1.3v3.03h-1.3zM401.9 449.72h2.4v3.03h-2.4zM407.3 449.72h1.3v3.03h-1.3zM410.5 449.72h1.3v3.03h-1.3zM413.7 449.72h1.3v3.03h-1.3z" fill="#f7da24"/>
<path d="M362.6 408.00h1.3v3.03h-1.3zM365.8 408.00h2.4v3.03h-2.4zM368.9 408.00h1.3v3.03h-1.3zM357.2 419.12h1.3v3.03h-1.3zM318.9 421.91h1.3v3.03h-1.3zM321.0 421.91h1.3v3.03h-1.3zM403.0 421.91h1.3v3.03h-1.3zM412.6 421.91h1.3v3.03h-1.3zM415.8 421.91h2.4v3.03h-2.4zM414.7 433.03h1.3v3.03h-1.3zM347.7 435.81h1.3v3.03h-1.3zM351.9 435.81h2.4v3.03h-2.4zM355.1 435.81h1.3v3.03h-1.3zM359.4 435.81h1.3v3.03h-1.3zM375.3 435.81h2.4v3.03h-2.4zM375.3 444.16h1.3v3.03h-1.3zM383.8 444.16h2.4v3.03h-2.4zM389.2 444.16h1.3v3.03h-1.3zM392.4 444.16h1.3v3.03h-1.3zM398.8 444.16h1.3v3.03h-1.3zM400.9 444.16h1.3v3.03h-1.3zM408.3 444.16h1.3v3.03h-1.3zM412.6 444.16h1.3v3.03h-1.3zM374.3 449.72h2.4v3.03h-2.4zM386.0 449.72h1.3v3.03h-1.3zM393.4 449.72h1.3v3.03h-1.3zM415.8 449.72h1.3v3.03h-1.3z" fill="#f5e31e"/>
<path d="M359.4 408.00h1.3v3.03h-1.3zM381.7 419.12h2.4v3.03h-2.4zM412.6 419.12h1.3v3.03h-1.3zM414.7 419.12h1.3v3.03h-1.3zM320.0 421.91h1.3v3.03h-1.3zM401.9 421.91h1.3v3.03h-1.3zM410.5 430.25h1.3v3.03h-1.3zM417.9 430.25h1.3v3.03h-1.3zM422.2 430.25h1.3v3.03h-1.3zM421.1 433.03h2.4v3.03h-2.4zM345.5 435.81h1.3v3.03h-1.3zM348.7 435.81h1.3v3.03h-1.3zM350.8 435.81h1.3v3.03h-1.3zM354.0 435.81h1.3v3.03h-1.3zM357.2 435.81h2.4v3.03h-2.4zM360.4 435.81h1.3v3.03h-1.3zM362.6 435.81h1.3v3.03h-1.3zM365.8 435.81h1.3v3.03h-1.3zM368.9 435.81h1.3v3.03h-1.3zM373.2 435.81h1.3v3.03h-1.3zM371.1 444.16h1.3v3.03h-1.3zM378.5 444.16h1.3v3.03h-1.3zM387.0 444.16h2.4v3.03h-2.4zM391.3 444.16h1.3v3.03h-1.3zM404.1 444.16h1.3v3.03h-1.3zM388.1 449.72h1.3v3.03h-1.3zM391.3 449.72h1.3v3.03h-1.3zM406.2 449.72h1.3v3.03h-1.3zM419.0 449.72h1.3v3.03h-1.3z" fill="#f7ef16"/>
<path d="M360.4 408.00h2.4v3.03h-2.4zM364.7 408.00h1.3v3.03h-1.3zM370.0 408.00h5.6v3.03h-5.6zM358.3 419.12h1.3v3.03h-1.3zM383.8 419.12h3.4v3.03h-3.4zM413.7 419.12h1.3v3.03h-1.3zM322.1 421.91h1.3v3.03h-1.3zM400.9 421.91h1.3v3.03h-1.3zM417.9 421.91h1.3v3.03h-1.3zM411.5 430.25h2.4v3.03h-2.4zM415.8 430.25h2.4v3.03h-2.4zM419.0 430.25h2.4v3.03h-2.4zM361.5 435.81h1.3v3.03h-1.3zM364.7 435.81h1.3v3.03h-1.3zM366.8 435.81h2.4v3.03h-2.4zM371.1 435.81h2.4v3.03h-2.4zM377.5 435.81h1.3v3.03h-1.3zM372.1 444.16h1.3v3.03h-1.3zM376.4 444.16h2.4v3.03h-2.4zM379.6 444.16h4.5v3.03h-4.5zM390.2 444.16h1.3v3.03h-1.3zM393.4 444.16h4.5v3.03h-4.5zM401.9 444.16h2.4v3.03h-2.4zM407.3 444.16h1.3v3.03h-1.3zM376.4 449.72h2.4v3.03h-2.4zM379.6 449.72h1.3v3.03h-1.3zM381.7 449.72h3.4v3.03h-3.4zM392.4 449.72h1.3v3.03h-1.3zM404.1 449.72h2.4v3.03h-2.4zM408.3 449.72h1.3v3.03h-1.3zM412.6 449.72h1.3v3.03h-1.3zM414.7 449.72h1.3v3.03h-1.3zM416.8 449.72h2.4v3.03h-2.4z" fill="#f9fb0e"/>
</g>
<line x1="307.20" y1="452.50" x2="424.30" y2="452.50" stroke="#333" stroke-width="1"/>
<line x1="307.20" y1="452.50" x2="307.20" y2="450.00" stroke="#333" stroke-width="0.8"/>
<line x1="348.20" y1="452.50" x2="348.20" y2="450.00" stroke="#333" stroke-width="0.8"/>
<line x1="386.20" y1="452.50" x2="386.20" y2="450.00" stroke="#333" stroke-width="0.8"/>
<line x1="423.90" y1="452.50" x2="423.90" y2="450.00" stroke="#333" stroke-width="0.8"/>
<line x1="307.20" y1="409.40" x2="309.70" y2="409.40" stroke="#333" stroke-width="0.8"/>
<path d="M198.10,400.20 L203.70,400.20 L200.90,410.00 Z" fill="#111"/>
<path d="M345.10,400.20 L350.70,400.20 L347.90,410.00 Z" fill="#111"/>
<text x="201.50" y="394.80" text-anchor="middle" font-size="12.9" fill="#222222" font-weight="normal" font-style="normal">Interact</text>
<text x="348.00" y="394.80" text-anchor="middle" font-size="12.9" fill="#222222" font-weight="normal" font-style="normal">Switch</text>
<text x="140.20" y="420.50" text-anchor="middle" font-size="12.9" fill="#222222" font-weight="normal" font-style="normal" transform="rotate(-90 140.20 420.50)">Trials</text>
<text x="154.40" y="413.80" text-anchor="end" font-size="12.9" fill="#222222" font-weight="normal" font-style="normal">1</text>
<text x="303.60" y="413.60" text-anchor="end" font-size="12.9" fill="#222222" font-weight="normal" font-style="normal">1</text>
<text x="160.60" y="448.50" text-anchor="middle" font-size="12.9" fill="#222222" font-weight="normal" font-style="normal">−1.5</text>
<text x="200.90" y="448.50" text-anchor="middle" font-size="12.9" fill="#222222" font-weight="normal" font-style="normal">0</text>
<text x="277.20" y="448.50" text-anchor="middle" font-size="12.9" fill="#222222" font-weight="normal" font-style="normal">3.0</text>
<text x="308.60" y="467.20" text-anchor="middle" font-size="12.9" fill="#222222" font-weight="normal" font-style="normal">−1.5</text>
<text x="348.00" y="467.20" text-anchor="middle" font-size="12.9" fill="#222222" font-weight="normal" font-style="normal">0</text>
<text x="423.50" y="467.20" text-anchor="middle" font-size="12.9" fill="#222222" font-weight="normal" font-style="normal">3.0</text>
<defs><linearGradient id="cbar" x1="0" y1="1" x2="0" y2="0"><stop offset="0.000" stop-color="#352a87"/><stop offset="0.048" stop-color="#353dad"/><stop offset="0.095" stop-color="#2053d4"/><stop offset="0.143" stop-color="#0268e1"/><stop offset="0.190" stop-color="#0d75dc"/><stop offset="0.238" stop-color="#1481d6"/><stop offset="0.286" stop-color="#108ed2"/><stop offset="0.333" stop-color="#079ccf"/><stop offset="0.381" stop-color="#06a7c6"/><stop offset="0.429" stop-color="#0faeb9"/><stop offset="0.476" stop-color="#25b5a9"/><stop offset="0.524" stop-color="#42bb98"/><stop offset="0.571" stop-color="#65be86"/><stop offset="0.619" stop-color="#87bf77"/><stop offset="0.667" stop-color="#a5be6b"/><stop offset="0.714" stop-color="#c0bc60"/><stop offset="0.762" stop-color="#d9ba56"/><stop offset="0.810" stop-color="#f1b94a"/><stop offset="0.857" stop-color="#ffc337"/><stop offset="0.905" stop-color="#fad32a"/><stop offset="0.952" stop-color="#f5e41d"/><stop offset="1.000" stop-color="#f9fb0e"/></linearGradient></defs>
<rect x="438.30" y="400.20" width="7.60" height="62.00" fill="url(#cbar)" stroke="#777" stroke-width="0.7"/>
<line x1="445.90" y1="454.45" x2="444.00" y2="454.45" stroke="#444" stroke-width="0.6"/>
<line x1="445.90" y1="446.70" x2="444.00" y2="446.70" stroke="#444" stroke-width="0.6"/>
<line x1="445.90" y1="438.95" x2="444.00" y2="438.95" stroke="#444" stroke-width="0.6"/>
<line x1="445.90" y1="431.20" x2="444.00" y2="431.20" stroke="#444" stroke-width="0.6"/>
<line x1="445.90" y1="423.45" x2="444.00" y2="423.45" stroke="#444" stroke-width="0.6"/>
<line x1="445.90" y1="415.70" x2="444.00" y2="415.70" stroke="#444" stroke-width="0.6"/>
<line x1="445.90" y1="407.95" x2="444.00" y2="407.95" stroke="#444" stroke-width="0.6"/>
<text x="450.30" y="404.70" text-anchor="start" font-size="12.9" fill="#222222" font-weight="normal" font-style="normal">5</text>
<text x="450.30" y="443.40" text-anchor="start" font-size="12.9" fill="#222222" font-weight="normal" font-style="normal">0</text>
<text x="449.60" y="466.20" text-anchor="start" font-size="12.9" fill="#222222" font-weight="normal" font-style="normal">−3</text>
<text x="479.8" y="429.4" text-anchor="middle" font-size="12.9" fill="#222" transform="rotate(-90 479.8 429.4)"><tspan font-style="italic">z</tspan>-scored Δ<tspan font-style="italic">F</tspan>/<tspan font-style="italic">F</tspan></text>
<polygon points="162.4,531.0 162.9,530.5 163.4,527.9 163.9,527.4 164.4,530.2 164.9,533.4 165.4,535.2 165.9,533.3 166.4,531.7 166.9,533.1 167.4,535.3 167.9,533.2 168.4,530.9 168.9,527.8 169.4,530.6 169.9,531.0 170.4,534.5 170.9,532.4 171.4,531.8 171.9,532.1 172.4,531.4 172.9,531.7 173.4,529.6 173.9,527.3 174.4,526.0 174.9,527.7 175.4,529.0 175.9,535.9 176.4,530.3 176.9,528.1 177.4,528.2 177.9,526.2 178.4,523.6 178.9,522.9 179.4,524.2 179.9,523.9 180.4,519.0 180.9,518.1 181.4,517.6 181.9,515.7 182.4,516.4 182.9,515.6 183.4,512.2 183.9,515.2 184.4,514.1 184.9,511.4 185.4,509.0 185.9,510.9 186.4,508.4 186.9,508.3 187.4,508.3 187.9,505.1 188.4,505.6 188.9,502.4 189.4,503.3 189.9,503.6 190.4,502.7 190.9,505.6 191.5,502.9 192.0,505.4 192.5,505.0 193.0,501.2 193.5,501.1 194.0,498.9 194.5,503.0 195.0,503.9 195.5,501.6 196.0,501.7 196.5,500.4 197.0,501.3 197.5,498.6 198.0,500.0 198.5,503.1 199.0,503.9 199.5,505.9 200.0,505.7 200.5,500.5 201.0,503.7 201.5,508.4 202.0,506.2 202.5,506.9 203.0,506.1 203.5,505.9 204.0,506.2 204.5,507.1 205.0,507.3 205.5,506.9 206.0,507.6 206.5,508.1 207.0,508.1 207.5,511.4 208.0,513.4 208.5,514.7 209.0,516.1 209.5,513.0 210.0,511.6 210.5,513.2 211.0,511.5 211.5,519.2 212.0,521.1 212.5,516.9 213.0,518.3 213.5,518.4 214.0,518.0 214.5,516.0 215.0,520.1 215.5,520.4 216.0,522.1 216.5,523.4 217.0,522.0 217.5,518.6 218.0,515.5 218.5,516.5 219.0,513.8 219.5,513.6 220.0,516.5 220.5,518.0 221.0,516.5 221.5,513.8 222.0,519.8 222.5,518.4 223.0,518.1 223.5,524.9 224.0,523.2 224.5,525.0 225.0,525.8 225.5,523.9 226.0,520.5 226.5,527.0 227.0,526.9 227.5,531.2 228.0,532.9 228.5,533.4 229.0,531.3 229.5,531.2 230.0,529.1 230.5,530.1 231.0,527.5 231.5,530.0 232.0,529.0 232.5,533.2 233.0,533.1 233.5,529.4 234.0,531.3 234.5,529.4 235.0,527.4 235.5,528.1 236.0,532.8 236.5,535.1 237.0,527.4 237.5,530.0 238.0,530.4 238.5,531.4 239.0,531.3 239.5,531.6 240.0,531.9 240.5,533.3 241.0,532.9 241.5,527.5 242.0,530.8 242.5,528.9 243.0,531.1 243.5,531.8 244.0,532.0 244.5,531.5 245.0,530.6 245.5,533.4 246.0,533.9 246.5,534.3 247.0,535.1 247.5,537.2 248.0,534.6 248.5,536.5 249.1,538.2 249.6,542.9 250.1,539.8 250.6,542.2 251.1,540.7 251.6,541.8 252.1,537.1 252.6,541.2 253.1,542.2 253.6,543.0 254.1,541.8 254.6,546.9 255.1,541.9 255.6,542.9 256.1,545.0 256.6,546.5 257.1,547.2 257.6,546.0 258.1,545.2 258.6,548.9 259.1,547.7 259.6,549.5 260.1,546.2 260.6,547.8 261.1,547.8 261.6,548.3 262.1,547.1 262.6,547.3 263.1,545.9 263.6,545.4 264.1,545.0 264.6,545.6 265.1,544.1 265.6,545.0 266.1,545.0 266.6,545.2 267.1,544.6 267.6,542.3 268.1,544.7 268.6,547.5 269.1,542.4 269.6,539.9 270.1,537.3 270.6,535.6 271.1,539.4 271.6,536.4 272.1,536.6 272.6,532.9 273.1,530.0 273.6,533.6 274.1,533.0 274.6,532.2 275.1,532.9 275.6,532.9 276.1,532.4 276.6,530.7 277.1,530.1 277.6,527.9 277.6,549.0 277.1,549.2 276.6,548.7 276.1,551.9 275.6,551.6 275.1,554.1 274.6,553.0 274.1,552.8 273.6,552.0 273.1,549.8 272.6,552.5 272.1,557.7 271.6,557.1 271.1,557.9 270.6,554.4 270.1,555.7 269.6,559.0 269.1,559.0 268.6,561.1 268.1,561.9 267.6,560.5 267.1,561.3 266.6,561.1 266.1,562.0 265.6,561.3 265.1,562.6 264.6,565.8 264.1,560.7 263.6,561.5 263.1,564.7 262.6,564.9 262.1,564.0 261.6,563.4 261.1,565.0 260.6,564.0 260.1,561.1 259.6,565.8 259.1,564.1 258.6,562.8 258.1,563.8 257.6,562.6 257.1,561.3 256.6,560.5 256.1,560.1 255.6,559.2 255.1,556.8 254.6,561.4 254.1,558.4 253.6,558.4 253.1,557.5 252.6,554.1 252.1,555.2 251.6,557.9 251.1,555.2 250.6,559.0 250.1,554.5 249.6,555.2 249.1,551.8 248.5,551.4 248.0,550.6 247.5,553.1 247.0,550.3 246.5,547.7 246.0,549.0 245.5,548.5 245.0,548.4 244.5,549.5 244.0,544.9 243.5,546.1 243.0,546.9 242.5,546.4 242.0,546.2 241.5,544.8 241.0,549.3 240.5,548.3 240.0,549.5 239.5,549.1 239.0,550.5 238.5,545.4 238.0,544.0 237.5,545.3 237.0,544.6 236.5,549.8 236.0,550.6 235.5,544.9 235.0,545.3 234.5,549.8 234.0,547.9 233.5,548.5 233.0,548.9 232.5,550.3 232.0,546.8 231.5,548.0 231.0,544.1 230.5,544.9 230.0,547.4 229.5,545.5 229.0,542.9 228.5,549.1 228.0,546.3 227.5,549.0 227.0,543.3 226.5,544.3 226.0,543.8 225.5,541.6 225.0,542.7 224.5,542.6 224.0,540.1 223.5,540.8 223.0,538.6 222.5,539.5 222.0,539.5 221.5,536.3 221.0,535.8 220.5,534.7 220.0,534.7 219.5,534.9 219.0,536.6 218.5,537.0 218.0,534.9 217.5,538.9 217.0,539.0 216.5,542.1 216.0,542.4 215.5,541.8 215.0,542.7 214.5,538.7 214.0,542.3 213.5,540.5 213.0,539.7 212.5,539.4 212.0,540.6 211.5,540.0 211.0,536.1 210.5,533.5 210.0,533.4 209.5,532.4 209.0,535.6 208.5,536.0 208.0,532.8 207.5,530.8 207.0,529.6 206.5,529.9 206.0,529.8 205.5,531.9 205.0,529.4 204.5,531.6 204.0,533.0 203.5,532.9 203.0,531.2 202.5,532.0 202.0,531.5 201.5,532.1 201.0,529.1 200.5,528.1 200.0,527.5 199.5,531.0 199.0,530.9 198.5,527.5 198.0,522.6 197.5,523.9 197.0,526.4 196.5,526.0 196.0,525.7 195.5,525.3 195.0,527.7 194.5,523.5 194.0,521.9 193.5,520.8 193.0,528.8 192.5,530.3 192.0,529.8 191.5,527.4 190.9,528.7 190.4,527.1 189.9,525.3 189.4,526.1 188.9,524.9 188.4,526.8 187.9,527.3 187.4,530.7 186.9,532.9 186.4,531.2 185.9,530.7 185.4,532.2 184.9,532.9 184.4,534.5 183.9,537.0 183.4,530.7 182.9,533.2 182.4,535.3 181.9,536.0 181.4,540.1 180.9,537.9 180.4,540.2 179.9,541.2 179.4,542.0 178.9,537.6 178.4,539.5 177.9,545.8 177.4,547.2 176.9,545.7 176.4,545.4 175.9,548.0 175.4,547.0 174.9,544.3 174.4,544.6 173.9,543.1 173.4,545.0 172.9,548.5 172.4,548.0 171.9,549.2 171.4,549.1 170.9,547.2 170.4,548.1 169.9,547.1 169.4,545.2 168.9,544.8 168.4,546.1 167.9,545.7 167.4,545.9 166.9,546.5 166.4,548.6 165.9,547.3 165.4,549.5 164.9,545.6 164.4,545.3 163.9,545.2 163.4,544.3 162.9,546.4 162.4,547.8" fill="#cbe5d9" stroke="none"/>
<line x1="162.40" y1="544.46" x2="277.60" y2="544.46" stroke="#adadad" stroke-width="1" stroke-dasharray="4.8 3.25"/>
<line x1="200.80" y1="502.00" x2="200.80" y2="579.30" stroke="#444444" stroke-width="0.9" stroke-dasharray="6.5 3.5"/>
<polyline points="162.4,540.8 162.9,539.0 163.4,536.4 163.9,537.2 164.4,537.7 164.9,539.5 165.4,542.3 165.9,541.2 166.4,540.2 166.9,540.9 167.4,540.5 167.9,537.4 168.4,537.3 168.9,536.7 169.4,538.3 169.9,537.9 170.4,540.8 170.9,542.5 171.4,539.9 171.9,541.7 172.4,539.2 172.9,539.6 173.4,534.6 173.9,533.8 174.4,535.7 174.9,536.1 175.4,536.1 175.9,539.0 176.4,537.2 176.9,536.3 177.4,535.9 177.9,533.2 178.4,531.0 178.9,530.2 179.4,532.1 179.9,530.8 180.4,528.8 180.9,527.6 181.4,528.2 181.9,525.6 182.4,525.5 182.9,525.0 183.4,522.4 183.9,525.7 184.4,524.2 184.9,520.9 185.4,520.8 185.9,520.3 186.4,519.9 186.9,520.3 187.4,519.4 187.9,517.1 188.4,516.7 188.9,514.8 189.4,515.8 189.9,516.4 190.4,515.8 190.9,518.2 191.5,515.8 192.0,516.9 192.5,517.4 193.0,516.4 193.5,511.6 194.0,511.2 194.5,512.7 195.0,514.9 195.5,513.9 196.0,514.1 196.5,511.6 197.0,514.5 197.5,511.3 198.0,511.6 198.5,516.6 199.0,516.5 199.5,518.6 200.0,515.7 200.5,514.0 201.0,516.4 201.5,518.8 202.0,517.4 202.5,519.3 203.0,518.8 203.5,518.4 204.0,519.5 204.5,520.4 205.0,518.5 205.5,519.4 206.0,519.2 206.5,520.0 207.0,520.0 207.5,521.2 208.0,522.1 208.5,525.9 209.0,525.3 209.5,524.0 210.0,523.8 210.5,523.2 211.0,523.7 211.5,528.2 212.0,531.1 212.5,528.4 213.0,529.3 213.5,529.4 214.0,531.2 214.5,529.2 215.0,533.1 215.5,531.4 216.0,532.6 216.5,530.8 217.0,529.2 217.5,528.7 218.0,525.8 218.5,527.9 219.0,525.9 219.5,524.4 220.0,526.3 220.5,526.8 221.0,526.8 221.5,525.2 222.0,528.4 222.5,528.7 223.0,527.6 223.5,531.4 224.0,529.4 224.5,532.7 225.0,533.1 225.5,533.4 226.0,532.1 226.5,537.0 227.0,536.6 227.5,540.4 228.0,541.2 228.5,541.8 229.0,538.0 229.5,538.1 230.0,537.6 230.5,536.3 231.0,534.5 231.5,537.2 232.0,536.5 232.5,540.2 233.0,539.5 233.5,538.6 234.0,539.3 234.5,539.4 235.0,536.7 235.5,536.2 236.0,540.4 236.5,541.1 237.0,536.7 237.5,538.4 238.0,538.2 238.5,539.2 239.0,540.5 239.5,539.6 240.0,539.0 240.5,540.2 241.0,540.3 241.5,536.3 242.0,539.2 242.5,538.4 243.0,538.8 243.5,538.6 244.0,537.5 244.5,540.8 245.0,539.7 245.5,539.8 246.0,539.6 246.5,539.6 247.0,541.6 247.5,544.5 248.0,542.5 248.5,542.0 249.1,543.8 249.6,547.5 250.1,547.7 250.6,549.0 251.1,547.7 251.6,549.3 252.1,546.5 252.6,548.7 253.1,550.7 253.6,549.5 254.1,549.4 254.6,554.2 255.1,549.6 255.6,549.5 256.1,552.5 256.6,551.6 257.1,554.4 257.6,554.1 258.1,554.2 258.6,555.8 259.1,555.0 259.6,556.1 260.1,553.6 260.6,556.9 261.1,557.2 261.6,556.2 262.1,555.4 262.6,556.0 263.1,555.0 263.6,554.0 264.1,553.2 264.6,554.5 265.1,552.7 265.6,553.4 266.1,553.6 266.6,552.5 267.1,553.4 267.6,551.7 268.1,553.0 268.6,552.7 269.1,550.3 269.6,548.6 270.1,546.8 270.6,544.5 271.1,548.7 271.6,547.4 272.1,545.8 272.6,543.2 273.1,540.6 273.6,541.5 274.1,543.3 274.6,542.9 275.1,543.2 275.6,541.4 276.1,541.4 276.6,540.4 277.1,540.0 277.6,540.7" fill="none" stroke="#12966a" stroke-width="1.45" stroke-linejoin="round"/>
<line x1="162.40" y1="491.70" x2="162.40" y2="579.80" stroke="#6e6e6e" stroke-width="1"/>
<line x1="161.90" y1="579.30" x2="278.10" y2="579.30" stroke="#6e6e6e" stroke-width="1"/>
<line x1="162.40" y1="579.30" x2="165.80" y2="579.30" stroke="#6e6e6e" stroke-width="0.8"/>
<line x1="162.40" y1="561.88" x2="165.80" y2="561.88" stroke="#6e6e6e" stroke-width="0.8"/>
<line x1="162.40" y1="544.46" x2="165.80" y2="544.46" stroke="#6e6e6e" stroke-width="0.8"/>
<line x1="162.40" y1="527.04" x2="165.80" y2="527.04" stroke="#6e6e6e" stroke-width="0.8"/>
<line x1="162.40" y1="509.62" x2="165.80" y2="509.62" stroke="#6e6e6e" stroke-width="0.8"/>
<line x1="162.40" y1="492.20" x2="165.80" y2="492.20" stroke="#6e6e6e" stroke-width="0.8"/>
<line x1="162.40" y1="579.30" x2="162.40" y2="576.30" stroke="#6e6e6e" stroke-width="0.8"/>
<line x1="200.80" y1="579.30" x2="200.80" y2="576.30" stroke="#6e6e6e" stroke-width="0.8"/>
<line x1="277.60" y1="579.30" x2="277.60" y2="576.30" stroke="#6e6e6e" stroke-width="0.8"/>
<line x1="255.20" y1="579.30" x2="255.20" y2="576.30" stroke="#6e6e6e" stroke-width="0.8"/>
<text x="156.80" y="497.10" text-anchor="end" font-size="12.9" fill="#222222" font-weight="normal" font-style="normal">3</text>
<text x="156.80" y="549.06" text-anchor="end" font-size="12.9" fill="#222222" font-weight="normal" font-style="normal">0</text>
<text x="156.80" y="583.70" text-anchor="end" font-size="12.9" fill="#222222" font-weight="normal" font-style="normal">−2</text>
<text x="162.10" y="595.20" text-anchor="middle" font-size="12.9" fill="#222222" font-weight="normal" font-style="normal">−1.5</text>
<text x="200.80" y="595.20" text-anchor="middle" font-size="12.9" fill="#222222" font-weight="normal" font-style="normal">0</text>
<text x="277.30" y="595.20" text-anchor="middle" font-size="12.9" fill="#222222" font-weight="normal" font-style="normal">3.0</text>
<text x="220.40" y="615.30" text-anchor="middle" font-size="12.9" fill="#222222" font-weight="normal" font-style="normal">Time (s)</text>
<path d="M198.00,490.90 L203.60,490.90 L200.80,502.20 Z" fill="#111"/>
<polygon points="309.2,527.1 309.7,526.4 310.2,527.4 310.7,531.7 311.2,526.8 311.7,526.4 312.2,529.3 312.7,528.5 313.2,525.2 313.7,525.8 314.2,528.9 314.7,528.7 315.2,526.0 315.7,523.8 316.2,524.3 316.7,520.3 317.2,519.6 317.7,525.6 318.2,524.4 318.7,523.1 319.3,527.9 319.8,524.9 320.3,525.2 320.8,523.8 321.3,526.7 321.8,531.3 322.3,530.1 322.8,530.8 323.3,527.7 323.8,527.7 324.3,525.8 324.8,525.6 325.3,527.4 325.8,524.4 326.3,523.9 326.8,524.6 327.3,524.7 327.8,523.2 328.3,523.0 328.8,521.8 329.3,528.0 329.8,527.2 330.3,529.7 330.8,530.0 331.3,531.6 331.8,531.9 332.3,535.3 332.8,535.8 333.3,529.7 333.8,535.7 334.3,534.6 334.8,537.3 335.3,537.0 335.8,539.9 336.3,544.2 336.8,536.1 337.3,541.8 337.8,539.3 338.4,537.8 338.9,538.2 339.4,536.4 339.9,535.3 340.4,534.6 340.9,534.3 341.4,531.6 341.9,530.6 342.4,533.3 342.9,538.0 343.4,538.6 343.9,538.2 344.4,536.9 344.9,535.7 345.4,534.3 345.9,535.7 346.4,529.5 346.9,532.1 347.4,527.3 347.9,523.6 348.4,524.3 348.9,526.6 349.4,525.3 349.9,526.3 350.4,523.6 350.9,522.4 351.4,519.4 351.9,518.0 352.4,516.8 352.9,514.2 353.4,518.7 353.9,519.8 354.4,518.0 354.9,513.3 355.4,510.6 355.9,510.0 356.4,508.9 356.9,507.9 357.5,506.1 358.0,511.6 358.5,507.7 359.0,503.8 359.5,504.6 360.0,504.1 360.5,502.8 361.0,508.0 361.5,506.8 362.0,504.3 362.5,506.2 363.0,505.9 363.5,500.4 364.0,502.1 364.5,504.0 365.0,505.6 365.5,504.4 366.0,505.2 366.5,505.9 367.0,508.2 367.5,504.1 368.0,505.8 368.5,506.6 369.0,508.9 369.5,509.3 370.0,508.0 370.5,507.4 371.0,508.6 371.5,509.9 372.0,506.0 372.5,504.7 373.0,502.8 373.5,498.2 374.0,501.3 374.5,499.9 375.0,498.9 375.5,496.6 376.0,501.4 376.5,495.6 377.1,496.3 377.6,492.3 378.1,498.4 378.6,503.0 379.1,501.2 379.6,504.6 380.1,504.9 380.6,500.4 381.1,499.2 381.6,502.0 382.1,500.5 382.6,503.4 383.1,500.1 383.6,501.9 384.1,505.9 384.6,502.6 385.1,504.2 385.6,506.8 386.1,508.4 386.6,505.5 387.1,505.2 387.6,500.8 388.1,502.9 388.6,501.5 389.1,502.3 389.6,503.3 390.1,500.6 390.6,502.5 391.1,504.4 391.6,503.3 392.1,499.7 392.6,504.8 393.1,505.8 393.6,504.8 394.1,505.9 394.6,505.1 395.1,502.2 395.6,504.3 396.2,506.0 396.7,506.5 397.2,505.2 397.7,505.1 398.2,502.1 398.7,496.6 399.2,497.2 399.7,504.2 400.2,503.1 400.7,503.4 401.2,500.7 401.7,498.2 402.2,501.2 402.7,502.1 403.2,502.8 403.7,500.7 404.2,501.7 404.7,502.9 405.2,502.4 405.7,503.8 406.2,503.2 406.7,499.5 407.2,496.9 407.7,496.8 408.2,498.8 408.7,501.5 409.2,498.7 409.7,495.8 410.2,497.1 410.7,496.6 411.2,494.5 411.7,497.4 412.2,497.0 412.7,498.6 413.2,500.5 413.7,501.3 414.2,499.6 414.7,502.6 415.3,503.7 415.8,505.4 416.3,506.2 416.8,508.9 417.3,509.8 417.8,508.9 418.3,513.1 418.8,510.1 419.3,508.9 419.8,510.0 420.3,513.6 420.8,509.5 421.3,512.1 421.8,512.7 422.3,510.9 422.8,508.5 423.3,512.4 423.8,519.0 424.3,521.8 424.8,516.1 424.8,537.1 424.3,540.8 423.8,538.8 423.3,533.8 422.8,531.7 422.3,535.0 421.8,537.0 421.3,536.5 420.8,533.5 420.3,537.8 419.8,536.7 419.3,534.9 418.8,531.6 418.3,531.6 417.8,529.0 417.3,528.1 416.8,531.4 416.3,530.2 415.8,531.3 415.3,527.6 414.7,528.9 414.2,524.7 413.7,526.1 413.2,525.9 412.7,525.2 412.2,520.9 411.7,521.9 411.2,518.9 410.7,519.7 410.2,518.6 409.7,519.0 409.2,521.5 408.7,521.9 408.2,521.0 407.7,521.3 407.2,524.3 406.7,522.6 406.2,527.2 405.7,526.6 405.2,526.2 404.7,525.3 404.2,524.2 403.7,524.7 403.2,523.8 402.7,522.3 402.2,522.6 401.7,521.1 401.2,520.2 400.7,522.8 400.2,526.2 399.7,524.8 399.2,520.5 398.7,518.7 398.2,523.3 397.7,524.9 397.2,524.1 396.7,524.4 396.2,528.1 395.6,529.1 395.1,527.0 394.6,527.9 394.1,527.4 393.6,526.1 393.1,527.0 392.6,525.8 392.1,522.5 391.6,523.4 391.1,524.5 390.6,522.2 390.1,523.9 389.6,522.6 389.1,527.4 388.6,525.7 388.1,524.0 387.6,525.2 387.1,529.0 386.6,527.9 386.1,528.1 385.6,528.4 385.1,524.7 384.6,527.3 384.1,526.4 383.6,523.9 383.1,521.7 382.6,526.1 382.1,524.0 381.6,522.9 381.1,524.1 380.6,523.8 380.1,523.5 379.6,523.4 379.1,523.6 378.6,522.1 378.1,517.9 377.6,515.7 377.1,517.4 376.5,516.6 376.0,522.4 375.5,521.7 375.0,519.9 374.5,521.5 374.0,522.8 373.5,522.5 373.0,527.9 372.5,526.3 372.0,525.3 371.5,528.0 371.0,527.0 370.5,525.6 370.0,527.2 369.5,526.2 369.0,526.8 368.5,528.2 368.0,528.7 367.5,527.5 367.0,529.2 366.5,528.6 366.0,527.1 365.5,524.1 365.0,527.2 364.5,523.7 364.0,523.9 363.5,522.8 363.0,528.8 362.5,526.3 362.0,525.0 361.5,525.6 361.0,528.7 360.5,525.7 360.0,525.5 359.5,525.2 359.0,523.2 358.5,525.5 358.0,529.6 357.5,522.9 356.9,527.5 356.4,525.8 355.9,528.5 355.4,529.6 354.9,532.8 354.4,531.5 353.9,538.1 353.4,535.8 352.9,531.8 352.4,534.9 351.9,533.6 351.4,535.1 350.9,537.4 350.4,540.1 349.9,542.3 349.4,539.0 348.9,542.1 348.4,543.1 347.9,539.6 347.4,543.0 346.9,547.1 346.4,547.5 345.9,553.5 345.4,551.9 344.9,549.9 344.4,552.4 343.9,555.0 343.4,559.0 342.9,557.6 342.4,552.5 341.9,550.6 341.4,548.5 340.9,550.1 340.4,550.3 339.9,551.2 339.4,553.8 338.9,556.8 338.4,556.8 337.8,554.6 337.3,555.7 336.8,551.4 336.3,558.2 335.8,558.6 335.3,556.4 334.8,556.0 334.3,552.3 333.8,551.6 333.3,547.8 332.8,551.5 332.3,549.3 331.8,547.9 331.3,548.2 330.8,544.2 330.3,545.0 329.8,545.5 329.3,542.8 328.8,538.6 328.3,541.3 327.8,541.1 327.3,540.8 326.8,541.6 326.3,541.7 325.8,541.8 325.3,544.4 324.8,542.7 324.3,543.3 323.8,542.9 323.3,545.0 322.8,549.5 322.3,547.6 321.8,550.0 321.3,541.8 320.8,540.4 320.3,541.7 319.8,543.0 319.3,545.6 318.7,543.0 318.2,539.9 317.7,541.9 317.2,536.8 316.7,538.7 316.2,537.4 315.7,537.7 315.2,543.4 314.7,546.3 314.2,547.0 313.7,543.1 313.2,542.5 312.7,549.4 312.2,547.5 311.7,544.9 311.2,545.9 310.7,547.1 310.2,543.9 309.7,545.8 309.2,548.2" fill="#cbe5d9" stroke="none"/>
<line x1="309.20" y1="544.46" x2="424.80" y2="544.46" stroke="#adadad" stroke-width="1" stroke-dasharray="4.8 3.25"/>
<line x1="347.73" y1="502.00" x2="347.73" y2="579.30" stroke="#444444" stroke-width="0.9" stroke-dasharray="6.5 3.5"/>
<polyline points="309.2,538.6 309.7,536.6 310.2,536.3 310.7,538.6 311.2,536.8 311.7,536.3 312.2,539.7 312.7,537.2 313.2,534.3 313.7,533.2 314.2,536.8 314.7,537.1 315.2,533.7 315.7,530.0 316.2,531.0 316.7,529.5 317.2,529.2 317.7,535.2 318.2,533.8 318.7,534.3 319.3,537.1 319.8,534.6 320.3,535.3 320.8,533.3 321.3,535.8 321.8,540.5 322.3,538.8 322.8,539.9 323.3,537.6 323.8,535.6 324.3,534.1 324.8,532.3 325.3,535.0 325.8,533.1 326.3,533.4 326.8,533.4 327.3,532.3 327.8,533.3 328.3,531.7 328.8,529.7 329.3,535.1 329.8,536.3 330.3,538.4 330.8,538.0 331.3,540.6 331.8,539.7 332.3,541.3 332.8,542.4 333.3,539.2 333.8,544.1 334.3,544.5 334.8,547.8 335.3,544.9 335.8,548.1 336.3,551.3 336.8,544.9 337.3,547.9 337.8,547.3 338.4,548.3 338.9,546.7 339.4,543.1 339.9,543.7 340.4,544.0 340.9,543.4 341.4,541.0 341.9,541.0 342.4,543.3 342.9,546.4 343.4,547.5 343.9,546.6 344.4,543.5 344.9,543.8 345.4,543.7 345.9,546.4 346.4,539.9 346.9,538.5 347.4,533.2 347.9,532.2 348.4,533.0 348.9,534.3 349.4,531.2 349.9,533.2 350.4,532.3 350.9,530.5 351.4,528.4 351.9,526.6 352.4,526.2 352.9,523.2 353.4,526.6 353.9,526.9 354.4,524.7 354.9,524.6 355.4,521.4 355.9,519.9 356.4,517.6 356.9,518.9 357.5,514.7 358.0,520.1 358.5,516.1 359.0,512.9 359.5,513.2 360.0,514.9 360.5,514.9 361.0,518.6 361.5,517.5 362.0,513.7 362.5,515.7 363.0,516.7 363.5,513.4 364.0,514.0 364.5,515.0 365.0,517.4 365.5,514.7 366.0,515.8 366.5,517.4 367.0,518.8 367.5,516.2 368.0,517.7 368.5,518.6 369.0,518.5 369.5,517.4 370.0,518.2 370.5,516.7 371.0,518.0 371.5,519.1 372.0,514.8 372.5,515.8 373.0,515.3 373.5,510.9 374.0,512.3 374.5,510.4 375.0,509.6 375.5,511.0 376.0,512.1 376.5,506.9 377.1,505.2 377.6,502.7 378.1,505.6 378.6,509.3 379.1,511.2 379.6,512.3 380.1,513.4 380.6,512.7 381.1,512.2 381.6,513.1 382.1,511.6 382.6,513.9 383.1,510.9 383.6,511.2 384.1,514.5 384.6,514.7 385.1,513.0 385.6,514.6 386.1,517.2 386.6,516.1 387.1,516.8 387.6,514.2 388.1,514.3 388.6,514.3 389.1,514.3 389.6,512.4 390.1,512.1 390.6,512.4 391.1,513.5 391.6,511.5 392.1,511.6 392.6,516.3 393.1,516.7 393.6,516.0 394.1,516.8 394.6,517.4 395.1,514.7 395.6,514.3 396.2,515.4 396.7,514.5 397.2,514.8 397.7,515.7 398.2,513.5 398.7,509.9 399.2,511.1 399.7,515.2 400.2,514.7 400.7,512.3 401.2,510.5 401.7,512.1 402.2,513.2 402.7,513.2 403.2,513.6 403.7,512.8 404.2,512.1 404.7,513.1 405.2,513.5 405.7,515.4 406.2,514.5 406.7,511.9 407.2,511.2 407.7,509.8 408.2,509.3 408.7,511.9 409.2,509.7 409.7,507.9 410.2,507.5 410.7,507.8 411.2,509.2 411.7,512.3 412.2,512.1 412.7,512.7 413.2,514.1 413.7,513.4 414.2,512.9 414.7,515.6 415.3,515.0 415.8,516.1 416.3,517.3 416.8,519.9 417.3,520.7 417.8,520.0 418.3,521.7 418.8,520.7 419.3,521.7 419.8,524.0 420.3,525.5 420.8,520.6 421.3,522.9 421.8,524.0 422.3,522.5 422.8,519.2 423.3,523.2 423.8,527.2 424.3,530.7 424.8,526.1" fill="none" stroke="#12966a" stroke-width="1.45" stroke-linejoin="round"/>
<line x1="309.20" y1="491.70" x2="309.20" y2="579.80" stroke="#6e6e6e" stroke-width="1"/>
<line x1="308.70" y1="579.30" x2="425.30" y2="579.30" stroke="#6e6e6e" stroke-width="1"/>
<line x1="309.20" y1="579.30" x2="312.60" y2="579.30" stroke="#6e6e6e" stroke-width="0.8"/>
<line x1="309.20" y1="561.88" x2="312.60" y2="561.88" stroke="#6e6e6e" stroke-width="0.8"/>
<line x1="309.20" y1="544.46" x2="312.60" y2="544.46" stroke="#6e6e6e" stroke-width="0.8"/>
<line x1="309.20" y1="527.04" x2="312.60" y2="527.04" stroke="#6e6e6e" stroke-width="0.8"/>
<line x1="309.20" y1="509.62" x2="312.60" y2="509.62" stroke="#6e6e6e" stroke-width="0.8"/>
<line x1="309.20" y1="492.20" x2="312.60" y2="492.20" stroke="#6e6e6e" stroke-width="0.8"/>
<line x1="309.20" y1="579.30" x2="309.20" y2="576.30" stroke="#6e6e6e" stroke-width="0.8"/>
<line x1="347.73" y1="579.30" x2="347.73" y2="576.30" stroke="#6e6e6e" stroke-width="0.8"/>
<line x1="424.80" y1="579.30" x2="424.80" y2="576.30" stroke="#6e6e6e" stroke-width="0.8"/>
<text x="312.20" y="595.20" text-anchor="middle" font-size="12.9" fill="#222222" font-weight="normal" font-style="normal">−1.5</text>
<text x="347.73" y="595.20" text-anchor="middle" font-size="12.9" fill="#222222" font-weight="normal" font-style="normal">0</text>
<text x="424.50" y="595.20" text-anchor="middle" font-size="12.9" fill="#222222" font-weight="normal" font-style="normal">3.0</text>
<text x="367.33" y="615.30" text-anchor="middle" font-size="12.9" fill="#222222" font-weight="normal" font-style="normal">Time (s)</text>
<path d="M344.93,490.90 L350.53,490.90 L347.73,502.20 Z" fill="#111"/>
<text x="200.50" y="486.80" text-anchor="middle" font-size="12.9" fill="#222222" font-weight="normal" font-style="normal">Interact</text>
<text x="347.80" y="486.80" text-anchor="middle" font-size="12.9" fill="#222222" font-weight="normal" font-style="normal">Switch</text>
<text x="118.00" y="534.50" text-anchor="middle" font-size="12.9" fill="#222222" font-weight="normal" font-style="normal" transform="rotate(-90 118.00 534.50)">Calcium activity</text>
<text x="132.5" y="534.5" text-anchor="middle" font-size="12.9" fill="#222" transform="rotate(-90 132.5 534.5)">(<tspan font-style="italic">z</tspan>-scored Δ<tspan font-style="italic">F</tspan>/<tspan font-style="italic">F</tspan>)</text>
<text x="502.40" y="388.90" font-size="14.7" font-weight="bold" fill="#161616" stroke="#161616" stroke-width="0.6" stroke-linejoin="round">f</text>
<rect x="604.30" y="476.20" width="34.20" height="7.95" fill="#04996d" stroke="#3c4046" stroke-width="0.4"/>
<rect x="646.10" y="483.00" width="34.50" height="1.45" fill="#0a69b0" stroke="none" stroke-width="1"/>
<line x1="558.40" y1="484.15" x2="685.00" y2="484.15" stroke="#7c7c7c" stroke-width="1.2"/>
<rect x="561.80" y="483.65" width="34.50" height="1.40" fill="#5a3222" stroke="none" stroke-width="1"/>
<line x1="579.30" y1="484.15" x2="579.30" y2="486.40" stroke="#222" stroke-width="1"/>
<line x1="577.80" y1="486.40" x2="580.80" y2="486.40" stroke="#222" stroke-width="1"/>
<line x1="621.40" y1="476.20" x2="621.40" y2="473.70" stroke="#222" stroke-width="1"/>
<line x1="619.60" y1="473.70" x2="623.20" y2="473.70" stroke="#222" stroke-width="1"/>
<line x1="663.50" y1="483.00" x2="663.50" y2="477.90" stroke="#222" stroke-width="1.1"/>
<line x1="661.80" y1="477.90" x2="665.20" y2="477.90" stroke="#222" stroke-width="1"/>
<circle cx="566.96" cy="436.32" r="1.05" fill="#d2d2d2" stroke="#5c5c5c" stroke-width="0.55"/>
<circle cx="569.80" cy="447.71" r="1.05" fill="#d2d2d2" stroke="#5c5c5c" stroke-width="0.55"/>
<circle cx="569.42" cy="452.64" r="1.05" fill="#d2d2d2" stroke="#5c5c5c" stroke-width="0.55"/>
<circle cx="571.70" cy="455.11" r="1.05" fill="#d2d2d2" stroke="#5c5c5c" stroke-width="0.55"/>
<circle cx="575.88" cy="453.59" r="1.05" fill="#d2d2d2" stroke="#5c5c5c" stroke-width="0.55"/>
<circle cx="568.66" cy="458.72" r="1.05" fill="#d2d2d2" stroke="#5c5c5c" stroke-width="0.55"/>
<circle cx="572.08" cy="460.43" r="1.05" fill="#d2d2d2" stroke="#5c5c5c" stroke-width="0.55"/>
<circle cx="573.98" cy="463.27" r="1.05" fill="#d2d2d2" stroke="#5c5c5c" stroke-width="0.55"/>
<circle cx="573.22" cy="465.55" r="1.05" fill="#d2d2d2" stroke="#5c5c5c" stroke-width="0.55"/>
<circle cx="578.72" cy="464.22" r="1.05" fill="#d2d2d2" stroke="#5c5c5c" stroke-width="0.55"/>
<circle cx="591.44" cy="468.78" r="1.05" fill="#d2d2d2" stroke="#5c5c5c" stroke-width="0.55"/>
<circle cx="570.18" cy="472.19" r="1.05" fill="#d2d2d2" stroke="#5c5c5c" stroke-width="0.55"/>
<circle cx="568.29" cy="474.09" r="1.05" fill="#d2d2d2" stroke="#5c5c5c" stroke-width="0.55"/>
<circle cx="573.98" cy="472.19" r="1.05" fill="#d2d2d2" stroke="#5c5c5c" stroke-width="0.55"/>
<circle cx="576.26" cy="472.76" r="1.05" fill="#d2d2d2" stroke="#5c5c5c" stroke-width="0.55"/>
<circle cx="581.95" cy="473.52" r="1.05" fill="#d2d2d2" stroke="#5c5c5c" stroke-width="0.55"/>
<circle cx="570.56" cy="475.99" r="1.05" fill="#d2d2d2" stroke="#5c5c5c" stroke-width="0.55"/>
<circle cx="567.34" cy="476.94" r="1.05" fill="#d2d2d2" stroke="#5c5c5c" stroke-width="0.55"/>
<circle cx="566.39" cy="478.83" r="1.05" fill="#d2d2d2" stroke="#5c5c5c" stroke-width="0.55"/>
<circle cx="573.03" cy="479.78" r="1.05" fill="#d2d2d2" stroke="#5c5c5c" stroke-width="0.55"/>
<circle cx="578.15" cy="479.40" r="1.05" fill="#d2d2d2" stroke="#5c5c5c" stroke-width="0.55"/>
<circle cx="582.14" cy="478.83" r="1.05" fill="#d2d2d2" stroke="#5c5c5c" stroke-width="0.55"/>
<circle cx="586.32" cy="479.21" r="1.05" fill="#d2d2d2" stroke="#5c5c5c" stroke-width="0.55"/>
<circle cx="590.11" cy="480.73" r="1.05" fill="#d2d2d2" stroke="#5c5c5c" stroke-width="0.55"/>
<circle cx="592.01" cy="481.68" r="1.05" fill="#d2d2d2" stroke="#5c5c5c" stroke-width="0.55"/>
<circle cx="576.83" cy="482.63" r="1.05" fill="#d2d2d2" stroke="#5c5c5c" stroke-width="0.55"/>
<circle cx="579.67" cy="482.63" r="1.05" fill="#d2d2d2" stroke="#5c5c5c" stroke-width="0.55"/>
<circle cx="588.78" cy="482.63" r="1.05" fill="#d2d2d2" stroke="#5c5c5c" stroke-width="0.55"/>
<circle cx="585.37" cy="485.48" r="1.05" fill="#d2d2d2" stroke="#5c5c5c" stroke-width="0.55"/>
<circle cx="575.88" cy="485.48" r="1.05" fill="#d2d2d2" stroke="#5c5c5c" stroke-width="0.55"/>
<circle cx="589.54" cy="486.81" r="1.05" fill="#d2d2d2" stroke="#5c5c5c" stroke-width="0.55"/>
<circle cx="569.23" cy="488.70" r="1.05" fill="#d2d2d2" stroke="#5c5c5c" stroke-width="0.55"/>
<circle cx="579.67" cy="488.70" r="1.05" fill="#d2d2d2" stroke="#5c5c5c" stroke-width="0.55"/>
<circle cx="575.50" cy="490.60" r="1.05" fill="#d2d2d2" stroke="#5c5c5c" stroke-width="0.55"/>
<circle cx="577.77" cy="490.22" r="1.05" fill="#d2d2d2" stroke="#5c5c5c" stroke-width="0.55"/>
<circle cx="589.16" cy="490.60" r="1.05" fill="#d2d2d2" stroke="#5c5c5c" stroke-width="0.55"/>
<circle cx="567.34" cy="494.40" r="1.05" fill="#d2d2d2" stroke="#5c5c5c" stroke-width="0.55"/>
<circle cx="584.42" cy="492.50" r="1.05" fill="#d2d2d2" stroke="#5c5c5c" stroke-width="0.55"/>
<circle cx="580.62" cy="494.40" r="1.05" fill="#d2d2d2" stroke="#5c5c5c" stroke-width="0.55"/>
<circle cx="590.68" cy="495.92" r="1.05" fill="#d2d2d2" stroke="#5c5c5c" stroke-width="0.55"/>
<circle cx="579.67" cy="496.86" r="1.05" fill="#d2d2d2" stroke="#5c5c5c" stroke-width="0.55"/>
<circle cx="584.99" cy="495.92" r="1.05" fill="#d2d2d2" stroke="#5c5c5c" stroke-width="0.55"/>
<circle cx="582.52" cy="497.81" r="1.05" fill="#d2d2d2" stroke="#5c5c5c" stroke-width="0.55"/>
<circle cx="590.11" cy="498.76" r="1.05" fill="#d2d2d2" stroke="#5c5c5c" stroke-width="0.55"/>
<circle cx="572.46" cy="499.33" r="1.05" fill="#d2d2d2" stroke="#5c5c5c" stroke-width="0.55"/>
<circle cx="587.64" cy="499.33" r="1.05" fill="#d2d2d2" stroke="#5c5c5c" stroke-width="0.55"/>
<circle cx="580.62" cy="501.61" r="1.05" fill="#d2d2d2" stroke="#5c5c5c" stroke-width="0.55"/>
<circle cx="573.98" cy="503.13" r="1.05" fill="#d2d2d2" stroke="#5c5c5c" stroke-width="0.55"/>
<circle cx="587.26" cy="503.13" r="1.05" fill="#d2d2d2" stroke="#5c5c5c" stroke-width="0.55"/>
<circle cx="574.93" cy="504.46" r="1.05" fill="#d2d2d2" stroke="#5c5c5c" stroke-width="0.55"/>
<circle cx="570.56" cy="507.30" r="1.05" fill="#d2d2d2" stroke="#5c5c5c" stroke-width="0.55"/>
<circle cx="585.37" cy="507.68" r="1.05" fill="#d2d2d2" stroke="#5c5c5c" stroke-width="0.55"/>
<circle cx="587.64" cy="508.44" r="1.05" fill="#d2d2d2" stroke="#5c5c5c" stroke-width="0.55"/>
<circle cx="583.09" cy="513.38" r="1.05" fill="#d2d2d2" stroke="#5c5c5c" stroke-width="0.55"/>
<circle cx="588.21" cy="513.38" r="1.05" fill="#d2d2d2" stroke="#5c5c5c" stroke-width="0.55"/>
<circle cx="583.47" cy="522.11" r="1.05" fill="#d2d2d2" stroke="#5c5c5c" stroke-width="0.55"/>
<circle cx="590.68" cy="532.92" r="1.05" fill="#d2d2d2" stroke="#5c5c5c" stroke-width="0.55"/>
<circle cx="630.16" cy="445.05" r="1.05" fill="#d2d2d2" stroke="#5c5c5c" stroke-width="0.55"/>
<circle cx="617.63" cy="448.47" r="1.05" fill="#d2d2d2" stroke="#5c5c5c" stroke-width="0.55"/>
<circle cx="621.43" cy="452.83" r="1.05" fill="#d2d2d2" stroke="#5c5c5c" stroke-width="0.55"/>
<circle cx="627.50" cy="452.26" r="1.05" fill="#d2d2d2" stroke="#5c5c5c" stroke-width="0.55"/>
<circle cx="633.38" cy="457.58" r="1.05" fill="#d2d2d2" stroke="#5c5c5c" stroke-width="0.55"/>
<circle cx="628.64" cy="460.24" r="1.05" fill="#d2d2d2" stroke="#5c5c5c" stroke-width="0.55"/>
<circle cx="620.10" cy="461.37" r="1.05" fill="#d2d2d2" stroke="#5c5c5c" stroke-width="0.55"/>
<circle cx="613.83" cy="464.03" r="1.05" fill="#d2d2d2" stroke="#5c5c5c" stroke-width="0.55"/>
<circle cx="610.04" cy="465.55" r="1.05" fill="#d2d2d2" stroke="#5c5c5c" stroke-width="0.55"/>
<circle cx="615.73" cy="465.55" r="1.05" fill="#d2d2d2" stroke="#5c5c5c" stroke-width="0.55"/>
<circle cx="628.64" cy="462.70" r="1.05" fill="#d2d2d2" stroke="#5c5c5c" stroke-width="0.55"/>
<circle cx="632.81" cy="465.55" r="1.05" fill="#d2d2d2" stroke="#5c5c5c" stroke-width="0.55"/>
<circle cx="627.12" cy="467.45" r="1.05" fill="#d2d2d2" stroke="#5c5c5c" stroke-width="0.55"/>
<circle cx="622.38" cy="469.35" r="1.05" fill="#d2d2d2" stroke="#5c5c5c" stroke-width="0.55"/>
<circle cx="618.58" cy="472.19" r="1.05" fill="#d2d2d2" stroke="#5c5c5c" stroke-width="0.55"/>
<circle cx="621.43" cy="471.62" r="1.05" fill="#d2d2d2" stroke="#5c5c5c" stroke-width="0.55"/>
<circle cx="611.94" cy="472.19" r="1.05" fill="#d2d2d2" stroke="#5c5c5c" stroke-width="0.55"/>
<circle cx="629.97" cy="470.86" r="1.05" fill="#d2d2d2" stroke="#5c5c5c" stroke-width="0.55"/>
<circle cx="632.81" cy="471.24" r="1.05" fill="#d2d2d2" stroke="#5c5c5c" stroke-width="0.55"/>
<circle cx="620.48" cy="474.09" r="1.05" fill="#d2d2d2" stroke="#5c5c5c" stroke-width="0.55"/>
<circle cx="633.76" cy="475.04" r="1.05" fill="#d2d2d2" stroke="#5c5c5c" stroke-width="0.55"/>
<circle cx="611.94" cy="476.94" r="1.05" fill="#d2d2d2" stroke="#5c5c5c" stroke-width="0.55"/>
<circle cx="614.78" cy="477.89" r="1.05" fill="#d2d2d2" stroke="#5c5c5c" stroke-width="0.55"/>
<circle cx="616.68" cy="478.83" r="1.05" fill="#d2d2d2" stroke="#5c5c5c" stroke-width="0.55"/>
<circle cx="625.22" cy="476.56" r="1.05" fill="#d2d2d2" stroke="#5c5c5c" stroke-width="0.55"/>
<circle cx="629.02" cy="478.83" r="1.05" fill="#d2d2d2" stroke="#5c5c5c" stroke-width="0.55"/>
<circle cx="631.86" cy="479.78" r="1.05" fill="#d2d2d2" stroke="#5c5c5c" stroke-width="0.55"/>
<circle cx="610.99" cy="480.73" r="1.05" fill="#d2d2d2" stroke="#5c5c5c" stroke-width="0.55"/>
<circle cx="619.53" cy="481.11" r="1.05" fill="#d2d2d2" stroke="#5c5c5c" stroke-width="0.55"/>
<circle cx="625.22" cy="482.63" r="1.05" fill="#d2d2d2" stroke="#5c5c5c" stroke-width="0.55"/>
<circle cx="630.92" cy="480.35" r="1.05" fill="#d2d2d2" stroke="#5c5c5c" stroke-width="0.55"/>
<circle cx="623.32" cy="484.53" r="1.05" fill="#d2d2d2" stroke="#5c5c5c" stroke-width="0.55"/>
<circle cx="626.17" cy="484.53" r="1.05" fill="#d2d2d2" stroke="#5c5c5c" stroke-width="0.55"/>
<circle cx="612.51" cy="484.53" r="1.05" fill="#d2d2d2" stroke="#5c5c5c" stroke-width="0.55"/>
<circle cx="630.54" cy="486.05" r="1.05" fill="#d2d2d2" stroke="#5c5c5c" stroke-width="0.55"/>
<circle cx="610.04" cy="488.32" r="1.05" fill="#d2d2d2" stroke="#5c5c5c" stroke-width="0.55"/>
<circle cx="616.68" cy="488.70" r="1.05" fill="#d2d2d2" stroke="#5c5c5c" stroke-width="0.55"/>
<circle cx="609.09" cy="491.17" r="1.05" fill="#d2d2d2" stroke="#5c5c5c" stroke-width="0.55"/>
<circle cx="618.58" cy="490.60" r="1.05" fill="#d2d2d2" stroke="#5c5c5c" stroke-width="0.55"/>
<circle cx="611.18" cy="509.20" r="1.05" fill="#d2d2d2" stroke="#5c5c5c" stroke-width="0.55"/>
<circle cx="651.03" cy="457.77" r="1.05" fill="#d2d2d2" stroke="#5c5c5c" stroke-width="0.55"/>
<circle cx="671.91" cy="457.96" r="1.05" fill="#d2d2d2" stroke="#5c5c5c" stroke-width="0.55"/>
<circle cx="669.82" cy="469.72" r="1.05" fill="#d2d2d2" stroke="#5c5c5c" stroke-width="0.55"/>
<circle cx="661.47" cy="473.71" r="1.05" fill="#d2d2d2" stroke="#5c5c5c" stroke-width="0.55"/>
<circle cx="663.56" cy="476.94" r="1.05" fill="#d2d2d2" stroke="#5c5c5c" stroke-width="0.55"/>
<circle cx="674.19" cy="481.11" r="1.05" fill="#d2d2d2" stroke="#5c5c5c" stroke-width="0.55"/>
<circle cx="655.59" cy="484.15" r="1.05" fill="#d2d2d2" stroke="#5c5c5c" stroke-width="0.55"/>
<circle cx="676.09" cy="483.20" r="1.05" fill="#d2d2d2" stroke="#5c5c5c" stroke-width="0.55"/>
<circle cx="653.12" cy="490.22" r="1.05" fill="#d2d2d2" stroke="#5c5c5c" stroke-width="0.55"/>
<circle cx="667.73" cy="492.69" r="1.05" fill="#d2d2d2" stroke="#5c5c5c" stroke-width="0.55"/>
<circle cx="665.46" cy="501.23" r="1.05" fill="#d2d2d2" stroke="#5c5c5c" stroke-width="0.55"/>
<circle cx="659.38" cy="503.51" r="1.05" fill="#d2d2d2" stroke="#5c5c5c" stroke-width="0.55"/>
<line x1="558.40" y1="428.35" x2="558.40" y2="540.15" stroke="#6e6e6e" stroke-width="1"/>
<line x1="557.90" y1="539.65" x2="685.00" y2="539.65" stroke="#6e6e6e" stroke-width="1"/>
<line x1="558.40" y1="539.65" x2="561.20" y2="539.65" stroke="#6e6e6e" stroke-width="0.8"/>
<line x1="558.40" y1="521.15" x2="562.00" y2="521.15" stroke="#6e6e6e" stroke-width="0.8"/>
<line x1="558.40" y1="502.65" x2="561.20" y2="502.65" stroke="#6e6e6e" stroke-width="0.8"/>
<line x1="558.40" y1="484.15" x2="562.00" y2="484.15" stroke="#6e6e6e" stroke-width="0.8"/>
<line x1="558.40" y1="465.65" x2="561.20" y2="465.65" stroke="#6e6e6e" stroke-width="0.8"/>
<line x1="558.40" y1="447.15" x2="562.00" y2="447.15" stroke="#6e6e6e" stroke-width="0.8"/>
<line x1="558.40" y1="428.65" x2="561.20" y2="428.65" stroke="#6e6e6e" stroke-width="0.8"/>
<text x="552.90" y="451.75" text-anchor="end" font-size="12.9" fill="#222222" font-weight="normal" font-style="normal">4</text>
<text x="552.90" y="488.75" text-anchor="end" font-size="12.9" fill="#222222" font-weight="normal" font-style="normal">0</text>
<text x="552.90" y="525.75" text-anchor="end" font-size="12.9" fill="#222222" font-weight="normal" font-style="normal">−4</text>
<path d="M583.1,434.4 L583.1,431.4 L617.3,431.4 L617.3,434.4" fill="none" stroke="#6e6e6e" stroke-width="0.8"/>
<text x="600.00" y="433.00" text-anchor="middle" font-size="14.5" fill="#222222" font-weight="normal" font-style="normal">*</text>
<text x="511.00" y="484.70" text-anchor="middle" font-size="12.9" fill="#222222" font-weight="normal" font-style="normal" transform="rotate(-90 511.00 484.70)">Calcium activity</text>
<text x="527.5" y="484.7" text-anchor="middle" font-size="12.9" fill="#1a1a1a" transform="rotate(-90 527.5 484.7)">(<tspan font-style="italic">z</tspan>-scored Δ<tspan font-style="italic">F</tspan>/<tspan font-style="italic">F</tspan>)</text>
<text x="586.00" y="551.00" text-anchor="end" font-size="12.9" fill="#222222" font-weight="normal" font-style="normal" transform="rotate(-45 586.00 551.00)">Disengaged</text>
<text x="628.00" y="551.00" text-anchor="end" font-size="12.9" fill="#222222" font-weight="normal" font-style="normal" transform="rotate(-45 628.00 551.00)">Exploratory</text>
<text x="670.00" y="551.00" text-anchor="end" font-size="12.6" fill="#222222" font-weight="normal" font-style="normal" transform="rotate(-45 670.00 551.00)">Perseverative</text>
<text x="0.60" y="648.00" font-size="14.7" font-weight="bold" fill="#161616" stroke="#161616" stroke-width="0.6" stroke-linejoin="round">g</text>
<text x="344.70" y="648.90" font-size="14.7" font-weight="bold" fill="#161616" stroke="#161616" stroke-width="0.6" stroke-linejoin="round">i</text>
<path d="M32.7,662.2 L154.8,662.2 L154.8,685.1 L107.6,685.1 L107.6,744.4 L81.2,744.4 L81.2,685.1 L32.7,685.1 Z" fill="#d6d7d4" stroke="#949494" stroke-width="0.8"/>
<line x1="93.80" y1="662.70" x2="93.80" y2="684.40" stroke="#6a6a6a" stroke-width="1.3"/>
<circle cx="42.00" cy="674.30" r="4.5" fill="#2fa84f" stroke="none" stroke-width="1"/>
<path d="M142.79999999999998,670.4 L148.6,678.1999999999999 M148.6,670.4 L142.79999999999998,678.1999999999999" stroke="#d7263d" stroke-width="1.1" fill="none"/>
<g transform="translate(94.10 729.20) rotate(0) scale(0.757 0.88)"><path d="M-6,-4 C-6.6,-6 -3,-6.6 0,-6 C3,-6.8 6.6,-5 6,-2 C6.6,0 4.6,1 4,2.2 C3.4,5 1,7 -1.5,6.8 C-4,6.5 -5,3 -5,1 C-6.6,0 -6.6,-2 -6,-4 Z" fill="#101010"/><path d="M-1.8,6.3 C-1.2,9 0.8,10.4 3.2,11.4" fill="none" stroke="#101010" stroke-width="1.1" stroke-linecap="round"/><path d="M-5,-7 C-3.2,-9 -1,-8.6 0.6,-6.4 C3,-8 6,-8 8,-5.4" fill="none" stroke="#3a3f4a" stroke-width="0.5"/></g>
<text x="93.90" y="655.20" text-anchor="middle" font-size="12.9" fill="#222222" font-weight="normal" font-style="normal">Train</text>
<text x="17.90" y="700.70" text-anchor="start" font-size="12.9" fill="#2fa84f" font-weight="normal" font-style="normal">Rewarded</text>
<text x="112.60" y="700.10" text-anchor="start" font-size="12.9" fill="#d7263d" font-weight="normal" font-style="normal">Non-</text>
<text x="112.60" y="715.20" text-anchor="start" font-size="12.9" fill="#d7263d" font-weight="normal" font-style="normal">rewarded</text>
<line x1="150.20" y1="725.80" x2="198.00" y2="725.80" stroke="#444" stroke-width="0.9"/>
<path d="M196.5,723.4 L203,725.8 L196.5,728.1999999999999 Z" fill="#fff" stroke="#444" stroke-width="0.8" stroke-linejoin="miter"/>
<path d="M192,662.5 L313.7,662.5 L313.7,685 L266.1,685 L266.1,744.2 L240.9,744.2 L240.9,685 L192,685 Z" fill="#d6d7d4" stroke="#949494" stroke-width="0.8"/>
<line x1="252.90" y1="663.00" x2="252.90" y2="684.30" stroke="#6a6a6a" stroke-width="1.3"/>
<rect x="238.00" y="687.70" width="30.70" height="58.60" fill="#b0bedb" stroke="none" stroke-width="1"/>
<rect x="240.90" y="687.70" width="25.20" height="56.50" fill="#a1b1d0" stroke="#7787ad" stroke-width="0.8"/>
<circle cx="201.20" cy="674.10" r="4.5" fill="#2fa84f" stroke="none" stroke-width="1"/>
<path d="M302.1,670.2 L307.9,678.0 M307.9,670.2 L302.1,678.0" stroke="#d7263d" stroke-width="1.1" fill="none"/>
<g transform="translate(253.20 729.20) rotate(0) scale(0.757 0.88)"><path d="M-6,-4 C-6.6,-6 -3,-6.6 0,-6 C3,-6.8 6.6,-5 6,-2 C6.6,0 4.6,1 4,2.2 C3.4,5 1,7 -1.5,6.8 C-4,6.5 -5,3 -5,1 C-6.6,0 -6.6,-2 -6,-4 Z" fill="#1f2430"/><path d="M-1.8,6.3 C-1.2,9 0.8,10.4 3.2,11.4" fill="none" stroke="#1f2430" stroke-width="1.1" stroke-linecap="round"/><path d="M-5,-7 C-3.2,-9 -1,-8.6 0.6,-6.4 C3,-8 6,-8 8,-5.4" fill="none" stroke="#3a3f4a" stroke-width="0.5"/></g>
<text x="252.90" y="655.20" text-anchor="middle" font-size="12.9" fill="#222222" font-weight="normal" font-style="normal">Test</text>
<text x="173.90" y="700.20" text-anchor="start" font-size="12.9" fill="#2fa84f" font-weight="normal" font-style="normal">Rewarded</text>
<text x="276.10" y="699.50" text-anchor="start" font-size="12.9" fill="#d7263d" font-weight="normal" font-style="normal">Non-</text>
<text x="276.10" y="714.00" text-anchor="start" font-size="12.9" fill="#d7263d" font-weight="normal" font-style="normal">rewarded</text>
<text x="255.00" y="760.70" text-anchor="middle" font-size="12.9" fill="#5b9fd8" font-weight="normal" font-style="normal">Laser on</text>
<path d="M359.9,659.9 L481.8,659.9 L481.8,682.7 L434.6,682.7 L434.6,742.3 L408.4,742.3 L408.4,682.7 L359.9,682.7 Z" fill="#d6d7d4" stroke="#949494" stroke-width="0.8"/>
<line x1="420.90" y1="660.40" x2="420.90" y2="682.00" stroke="#6a6a6a" stroke-width="1.3"/>
<circle cx="368.70" cy="672.00" r="4.5" fill="#2fa84f" stroke="none" stroke-width="1"/>
<path d="M469.8,668.1 L475.59999999999997,675.9 M475.59999999999997,668.1 L469.8,675.9" stroke="#d7263d" stroke-width="1.1" fill="none"/>
<g transform="translate(421.80 727.00) rotate(0) scale(0.757 0.88)"><path d="M-6,-4 C-6.6,-6 -3,-6.6 0,-6 C3,-6.8 6.6,-5 6,-2 C6.6,0 4.6,1 4,2.2 C3.4,5 1,7 -1.5,6.8 C-4,6.5 -5,3 -5,1 C-6.6,0 -6.6,-2 -6,-4 Z" fill="#101010"/><path d="M-1.8,6.3 C-1.2,9 0.8,10.4 3.2,11.4" fill="none" stroke="#101010" stroke-width="1.1" stroke-linecap="round"/><path d="M-5,-7 C-3.2,-9 -1,-8.6 0.6,-6.4 C3,-8 6,-8 8,-5.4" fill="none" stroke="#3a3f4a" stroke-width="0.5"/></g>
<text x="420.80" y="655.20" text-anchor="middle" font-size="12.9" fill="#222222" font-weight="normal" font-style="normal">Train</text>
<text x="344.90" y="697.70" text-anchor="start" font-size="12.9" fill="#2fa84f" font-weight="normal" font-style="normal">Rewarded</text>
<text x="439.80" y="697.30" text-anchor="start" font-size="12.9" fill="#d7263d" font-weight="normal" font-style="normal">Non-</text>
<text x="439.80" y="712.40" text-anchor="start" font-size="12.9" fill="#d7263d" font-weight="normal" font-style="normal">rewarded</text>
<line x1="476.20" y1="724.50" x2="523.40" y2="724.50" stroke="#444" stroke-width="0.9"/>
<path d="M521.9,722.1 L528.4,724.5 L521.9,726.9 Z" fill="#fff" stroke="#444" stroke-width="0.8" stroke-linejoin="miter"/>
<path d="M529.2,659.9 L650.5,659.9 L650.5,682.7 L604,682.7 L604,742.2 L578,742.2 L578,682.7 L529.2,682.7 Z" fill="#d6d7d4" stroke="#949494" stroke-width="0.8"/>
<line x1="590.40" y1="660.40" x2="590.40" y2="682.00" stroke="#6a6a6a" stroke-width="1.3"/>
<rect x="575.20" y="684.70" width="31.40" height="59.50" fill="#b0bedb" stroke="none" stroke-width="1"/>
<rect x="578.00" y="684.70" width="26.00" height="57.50" fill="#a1b1d0" stroke="#7787ad" stroke-width="0.8"/>
<path d="M534.4,668.0 L540.1999999999999,675.8 M540.1999999999999,668.0 L534.4,675.8" stroke="#d7263d" stroke-width="1.1" fill="none"/>
<circle cx="641.60" cy="671.90" r="4.5" fill="#2fa84f" stroke="none" stroke-width="1"/>
<g transform="translate(590.50 726.40) rotate(0) scale(0.757 0.88)"><path d="M-6,-4 C-6.6,-6 -3,-6.6 0,-6 C3,-6.8 6.6,-5 6,-2 C6.6,0 4.6,1 4,2.2 C3.4,5 1,7 -1.5,6.8 C-4,6.5 -5,3 -5,1 C-6.6,0 -6.6,-2 -6,-4 Z" fill="#1f2430"/><path d="M-1.8,6.3 C-1.2,9 0.8,10.4 3.2,11.4" fill="none" stroke="#1f2430" stroke-width="1.1" stroke-linecap="round"/><path d="M-5,-7 C-3.2,-9 -1,-8.6 0.6,-6.4 C3,-8 6,-8 8,-5.4" fill="none" stroke="#3a3f4a" stroke-width="0.5"/></g>
<text x="590.00" y="654.80" text-anchor="middle" font-size="12.9" fill="#222222" font-weight="normal" font-style="normal">Reversal test</text>
<text x="571.50" y="698.00" text-anchor="end" font-size="12.9" fill="#d7263d" font-weight="normal" font-style="normal">Non-</text>
<text x="571.50" y="713.30" text-anchor="end" font-size="12.9" fill="#d7263d" font-weight="normal" font-style="normal">rewarded</text>
<text x="608.20" y="698.00" text-anchor="start" font-size="12.9" fill="#2fa84f" font-weight="normal" font-style="normal">Rewarded</text>
<text x="590.20" y="757.50" text-anchor="middle" font-size="12.9" fill="#5b9fd8" font-weight="normal" font-style="normal">Laser on</text>
<text x="117.60" y="786.80" font-size="14.7" font-weight="bold" fill="#161616" stroke="#161616" stroke-width="0.6" stroke-linejoin="round">h</text>
<text x="421.60" y="786.30" font-size="14.7" font-weight="bold" fill="#161616" stroke="#161616" stroke-width="0.6" stroke-linejoin="round">j</text>
<rect x="182.70" y="891.00" width="37.90" height="27.60" fill="#4f5355" stroke="#3c4046" stroke-width="0.4"/>
<line x1="201.65" y1="891.00" x2="201.65" y2="887.95" stroke="#222" stroke-width="1.1"/>
<line x1="199.65" y1="887.95" x2="203.65" y2="887.95" stroke="#222" stroke-width="1"/>
<rect x="229.50" y="863.39" width="37.90" height="55.21" fill="#04996d" stroke="#3c4046" stroke-width="0.4"/>
<line x1="248.45" y1="863.39" x2="248.45" y2="853.33" stroke="#222" stroke-width="1.1"/>
<line x1="246.45" y1="853.33" x2="250.45" y2="853.33" stroke="#222" stroke-width="1"/>
<line x1="178.40" y1="796.20" x2="178.40" y2="919.10" stroke="#6e6e6e" stroke-width="1"/>
<line x1="177.90" y1="918.60" x2="272.00" y2="918.60" stroke="#6e6e6e" stroke-width="1"/>
<line x1="178.40" y1="918.60" x2="182.70" y2="918.60" stroke="#6e6e6e" stroke-width="0.8"/>
<line x1="178.40" y1="903.35" x2="182.10" y2="903.35" stroke="#6e6e6e" stroke-width="0.8"/>
<line x1="178.40" y1="888.10" x2="182.10" y2="888.10" stroke="#6e6e6e" stroke-width="0.8"/>
<line x1="178.40" y1="872.85" x2="182.10" y2="872.85" stroke="#6e6e6e" stroke-width="0.8"/>
<line x1="178.40" y1="857.60" x2="182.70" y2="857.60" stroke="#6e6e6e" stroke-width="0.8"/>
<line x1="178.40" y1="842.35" x2="182.10" y2="842.35" stroke="#6e6e6e" stroke-width="0.8"/>
<line x1="178.40" y1="827.10" x2="182.10" y2="827.10" stroke="#6e6e6e" stroke-width="0.8"/>
<line x1="178.40" y1="811.85" x2="182.10" y2="811.85" stroke="#6e6e6e" stroke-width="0.8"/>
<line x1="178.40" y1="796.60" x2="182.70" y2="796.60" stroke="#6e6e6e" stroke-width="0.8"/>
<text x="172.40" y="801.00" text-anchor="end" font-size="12.9" fill="#222222" font-weight="normal" font-style="normal">40</text>
<text x="172.40" y="862.00" text-anchor="end" font-size="12.9" fill="#222222" font-weight="normal" font-style="normal">20</text>
<text x="172.40" y="923.00" text-anchor="end" font-size="12.9" fill="#222222" font-weight="normal" font-style="normal">0</text>
<circle cx="187.62" cy="891.32" r="2.3" fill="#c6c6c6" stroke="#7c7c7c" stroke-width="0.65"/>
<circle cx="194.36" cy="885.64" r="2.3" fill="#c6c6c6" stroke="#7c7c7c" stroke-width="0.65"/>
<circle cx="201.45" cy="890.96" r="2.3" fill="#c6c6c6" stroke="#7c7c7c" stroke-width="0.65"/>
<circle cx="208.55" cy="896.64" r="2.3" fill="#c6c6c6" stroke="#7c7c7c" stroke-width="0.65"/>
<circle cx="215.29" cy="902.32" r="2.3" fill="#c6c6c6" stroke="#7c7c7c" stroke-width="0.65"/>
<circle cx="234.44" cy="824.27" r="2.3" fill="#c6c6c6" stroke="#7c7c7c" stroke-width="0.65"/>
<circle cx="241.18" cy="885.64" r="2.3" fill="#c6c6c6" stroke="#7c7c7c" stroke-width="0.65"/>
<circle cx="248.28" cy="868.62" r="2.3" fill="#c6c6c6" stroke="#7c7c7c" stroke-width="0.65"/>
<circle cx="255.37" cy="863.30" r="2.3" fill="#c6c6c6" stroke="#7c7c7c" stroke-width="0.65"/>
<circle cx="262.11" cy="863.30" r="2.3" fill="#c6c6c6" stroke="#7c7c7c" stroke-width="0.65"/>
<text x="201.65" y="933.90" text-anchor="middle" font-size="12.9" fill="#222222" font-weight="normal" font-style="normal">Ctrl</text>
<text x="248.45" y="933.90" text-anchor="middle" font-size="12.9" fill="#222222" font-weight="normal" font-style="normal">Act</text>
<path d="M205.4,797.6 L205.4,794.9 L245.7,794.9 L245.7,797.6" fill="none" stroke="#6e6e6e" stroke-width="0.8"/>
<text x="225.20" y="796.40" text-anchor="middle" font-size="14.5" fill="#222222" font-weight="normal" font-style="normal">*</text>
<text x="131.50" y="857.00" text-anchor="middle" font-size="12.9" fill="#222222" font-weight="normal" font-style="normal" transform="rotate(-90 131.50 857.00)">Entrance into</text>
<text x="147.50" y="857.00" text-anchor="middle" font-size="12.9" fill="#222222" font-weight="normal" font-style="normal" transform="rotate(-90 147.50 857.00)">non-rewarded arm (%)</text>
<rect x="500.90" y="859.15" width="37.80" height="53.85" fill="#4f5355" stroke="#3c4046" stroke-width="0.4"/>
<line x1="519.80" y1="859.15" x2="519.80" y2="853.45" stroke="#222" stroke-width="1.1"/>
<line x1="517.80" y1="853.45" x2="521.80" y2="853.45" stroke="#222" stroke-width="1"/>
<rect x="547.80" y="854.69" width="37.60" height="58.31" fill="#0a69b0" stroke="#3c4046" stroke-width="0.4"/>
<line x1="566.60" y1="854.69" x2="566.60" y2="849.37" stroke="#222" stroke-width="1.1"/>
<line x1="564.60" y1="849.37" x2="568.60" y2="849.37" stroke="#222" stroke-width="1"/>
<line x1="496.60" y1="788.80" x2="496.60" y2="913.50" stroke="#6e6e6e" stroke-width="1"/>
<line x1="496.10" y1="913.00" x2="590.00" y2="913.00" stroke="#6e6e6e" stroke-width="1"/>
<line x1="496.60" y1="913.00" x2="500.90" y2="913.00" stroke="#6e6e6e" stroke-width="0.8"/>
<line x1="496.60" y1="900.62" x2="500.30" y2="900.62" stroke="#6e6e6e" stroke-width="0.8"/>
<line x1="496.60" y1="888.24" x2="500.30" y2="888.24" stroke="#6e6e6e" stroke-width="0.8"/>
<line x1="496.60" y1="875.86" x2="500.30" y2="875.86" stroke="#6e6e6e" stroke-width="0.8"/>
<line x1="496.60" y1="863.48" x2="500.30" y2="863.48" stroke="#6e6e6e" stroke-width="0.8"/>
<line x1="496.60" y1="851.10" x2="500.90" y2="851.10" stroke="#6e6e6e" stroke-width="0.8"/>
<line x1="496.60" y1="838.72" x2="500.30" y2="838.72" stroke="#6e6e6e" stroke-width="0.8"/>
<line x1="496.60" y1="826.34" x2="500.30" y2="826.34" stroke="#6e6e6e" stroke-width="0.8"/>
<line x1="496.60" y1="813.96" x2="500.30" y2="813.96" stroke="#6e6e6e" stroke-width="0.8"/>
<line x1="496.60" y1="801.58" x2="500.30" y2="801.58" stroke="#6e6e6e" stroke-width="0.8"/>
<line x1="496.60" y1="789.20" x2="500.90" y2="789.20" stroke="#6e6e6e" stroke-width="0.8"/>
<text x="490.60" y="793.60" text-anchor="end" font-size="12.9" fill="#222222" font-weight="normal" font-style="normal">100</text>
<text x="490.60" y="855.50" text-anchor="end" font-size="12.9" fill="#222222" font-weight="normal" font-style="normal">50</text>
<text x="490.60" y="917.40" text-anchor="end" font-size="12.9" fill="#222222" font-weight="normal" font-style="normal">0</text>
<circle cx="509.48" cy="828.14" r="2.3" fill="#c6c6c6" stroke="#7c7c7c" stroke-width="0.65"/>
<circle cx="517.83" cy="850.54" r="2.3" fill="#c6c6c6" stroke="#7c7c7c" stroke-width="0.65"/>
<circle cx="505.49" cy="856.99" r="2.3" fill="#c6c6c6" stroke="#7c7c7c" stroke-width="0.65"/>
<circle cx="513.65" cy="859.08" r="2.3" fill="#c6c6c6" stroke="#7c7c7c" stroke-width="0.65"/>
<circle cx="533.96" cy="859.08" r="2.3" fill="#c6c6c6" stroke="#7c7c7c" stroke-width="0.65"/>
<circle cx="525.61" cy="868.19" r="2.3" fill="#c6c6c6" stroke="#7c7c7c" stroke-width="0.65"/>
<circle cx="529.78" cy="870.46" r="2.3" fill="#c6c6c6" stroke="#7c7c7c" stroke-width="0.65"/>
<circle cx="521.62" cy="879.38" r="2.3" fill="#c6c6c6" stroke="#7c7c7c" stroke-width="0.65"/>
<circle cx="559.58" cy="834.59" r="2.3" fill="#c6c6c6" stroke="#7c7c7c" stroke-width="0.65"/>
<circle cx="580.65" cy="845.98" r="2.3" fill="#c6c6c6" stroke="#7c7c7c" stroke-width="0.65"/>
<circle cx="552.56" cy="854.71" r="2.3" fill="#c6c6c6" stroke="#7c7c7c" stroke-width="0.65"/>
<circle cx="566.79" cy="857.18" r="2.3" fill="#c6c6c6" stroke="#7c7c7c" stroke-width="0.65"/>
<circle cx="573.62" cy="866.10" r="2.3" fill="#c6c6c6" stroke="#7c7c7c" stroke-width="0.65"/>
<text x="519.80" y="928.70" text-anchor="middle" font-size="12.9" fill="#222222" font-weight="normal" font-style="normal">Ctrl</text>
<text x="566.60" y="928.70" text-anchor="middle" font-size="12.9" fill="#222222" font-weight="normal" font-style="normal">Supp</text>
<text x="443.50" y="851.00" text-anchor="middle" font-size="12.9" fill="#222222" font-weight="normal" font-style="normal" transform="rotate(-90 443.50 851.00)">Entrance into previously</text>
<text x="459.80" y="851.00" text-anchor="middle" font-size="12.9" fill="#222222" font-weight="normal" font-style="normal" transform="rotate(-90 459.80 851.00)">rewarded arm (%)</text>
</svg>
</body></html>
